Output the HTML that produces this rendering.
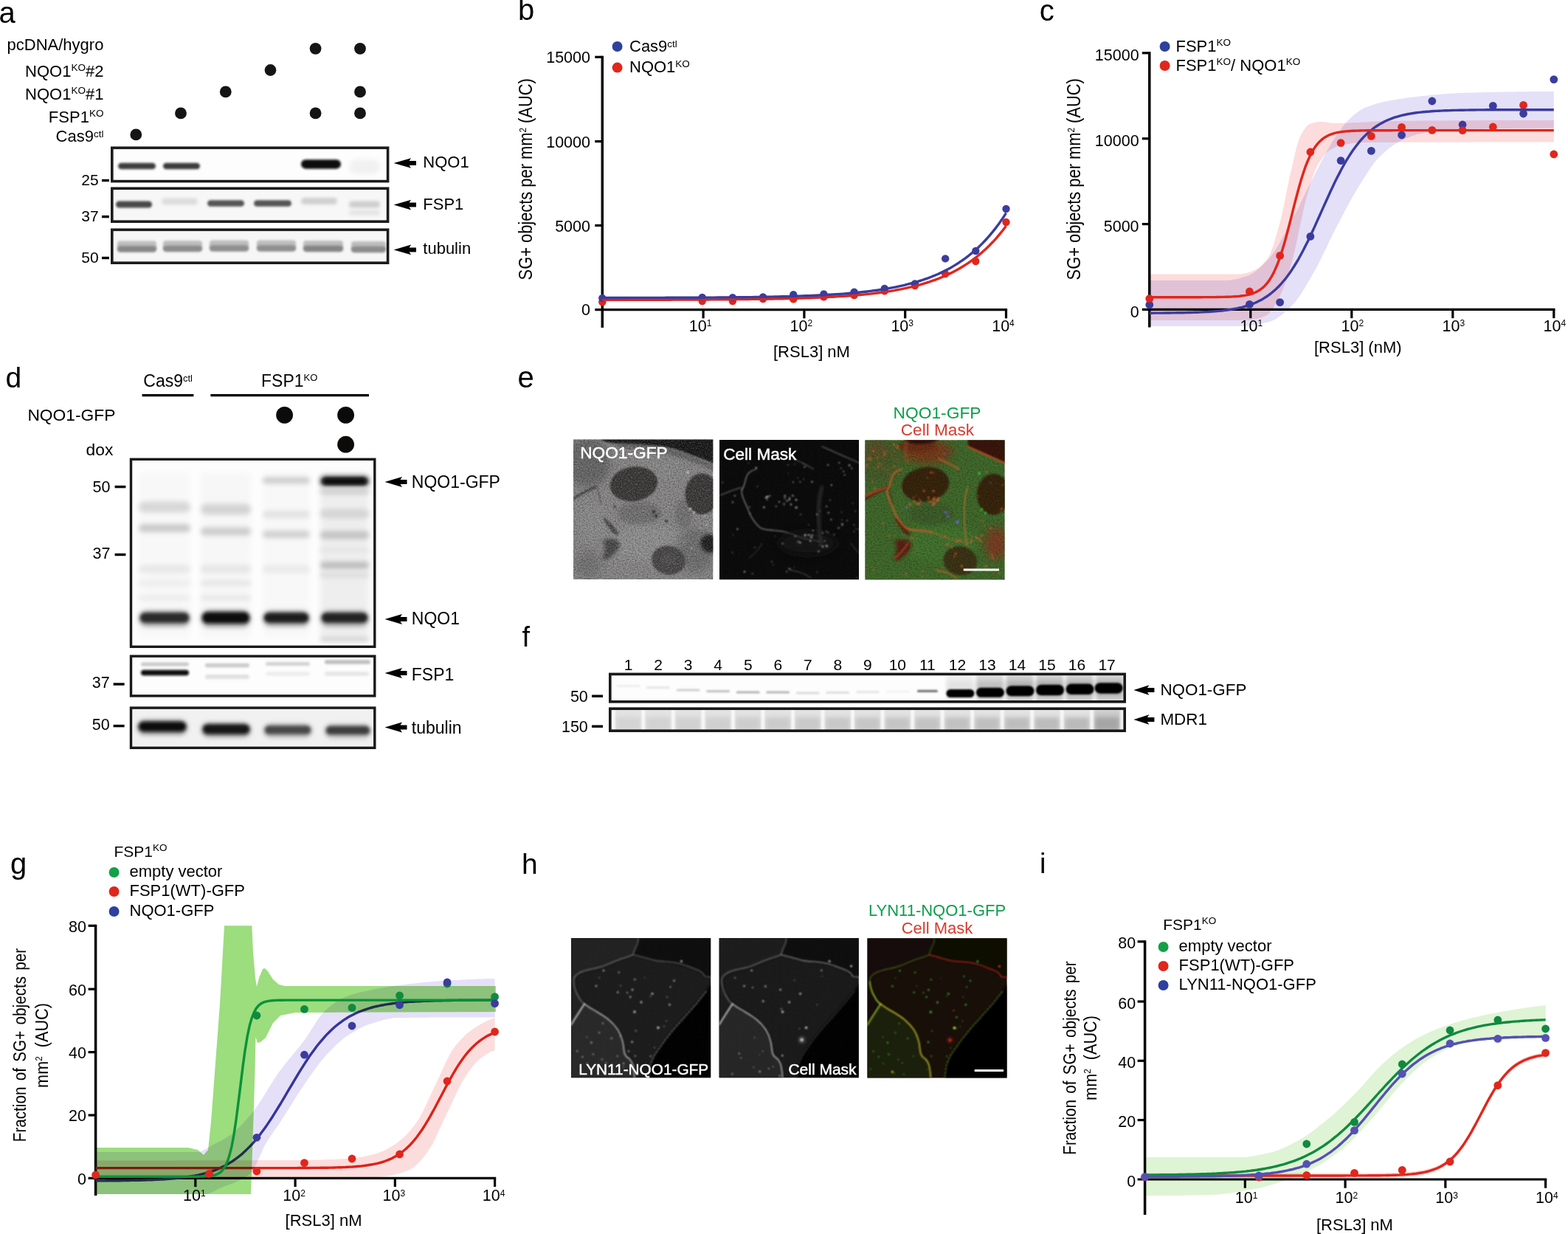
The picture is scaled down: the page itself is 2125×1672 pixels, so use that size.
<!DOCTYPE html>
<html lang="en"><head><meta charset="utf-8"><title>Figure</title>
<style>
html,body{margin:0;padding:0;background:#fff;}
body{width:2125px;height:1672px;overflow:hidden;}
svg{display:block;font-family:'Liberation Sans', Arial, Helvetica, sans-serif;}
text{white-space:pre;}
</style></head><body>
<svg xmlns="http://www.w3.org/2000/svg" width="2125" height="1672" viewBox="0 0 2125 1672">
<defs>
<filter id="b1" x="-20%" y="-100%" width="140%" height="300%"><feGaussianBlur stdDeviation="1"/></filter>
<filter id="b15" x="-20%" y="-100%" width="140%" height="300%"><feGaussianBlur stdDeviation="1.5"/></filter>
<filter id="b2" x="-20%" y="-100%" width="140%" height="300%"><feGaussianBlur stdDeviation="2"/></filter>
<filter id="b3" x="-20%" y="-100%" width="140%" height="300%"><feGaussianBlur stdDeviation="3"/></filter>
<filter id="b5" x="-30%" y="-100%" width="160%" height="300%"><feGaussianBlur stdDeviation="5"/></filter>
<clipPath id="c1"><rect x="150.00" y="198.50" width="377.40" height="48.90"/></clipPath>
<clipPath id="c2"><rect x="150.00" y="253.50" width="377.40" height="48.50"/></clipPath>
<clipPath id="c3"><rect x="150.00" y="309.50" width="377.40" height="48.50"/></clipPath>
<clipPath id="c4"><rect x="176.00" y="621.00" width="333.50" height="257.00"/></clipPath>
<clipPath id="c5"><rect x="176.00" y="887.50" width="333.50" height="57.00"/></clipPath>
<clipPath id="c6"><rect x="176.00" y="957.50" width="333.50" height="57.50"/></clipPath>
<filter id="nzw" x="0" y="0" width="100%" height="100%"><feTurbulence type="fractalNoise" baseFrequency="0.6" numOctaves="2" seed="7"/><feColorMatrix type="matrix" values="0 0 0 0 1  0 0 0 0 1  0 0 0 0 1  2.4 0 0 0 -1.0"/></filter>
<filter id="nzb" x="0" y="0" width="100%" height="100%"><feTurbulence type="fractalNoise" baseFrequency="0.5" numOctaves="2" seed="23"/><feColorMatrix type="matrix" values="0 0 0 0 0  0 0 0 0 0  0 0 0 0 0  0 2.4 0 0 -1.0"/></filter>
<filter id="nzf" x="0" y="0" width="100%" height="100%"><feTurbulence type="fractalNoise" baseFrequency="0.9" numOctaves="1" seed="3"/><feColorMatrix type="matrix" values="0 0 0 0 1  0 0 0 0 1  0 0 0 0 1  1.6 0 0 0 -0.6"/></filter>
<filter id="m1" x="-30%" y="-30%" width="160%" height="160%"><feGaussianBlur stdDeviation="0.8"/></filter>
<filter id="m2" x="-60%" y="-60%" width="220%" height="220%"><feGaussianBlur stdDeviation="2.2"/></filter>
<filter id="m6" x="-100%" y="-100%" width="300%" height="300%"><feGaussianBlur stdDeviation="6"/></filter>
<clipPath id="c7"><rect x="777.00" y="595.60" width="189.30" height="189.30"/></clipPath>
<clipPath id="c8"><rect x="975.00" y="596.00" width="189.00" height="189.20"/></clipPath>
<clipPath id="c9"><rect x="1172.30" y="596.20" width="189.30" height="189.30"/></clipPath>
<clipPath id="c10"><rect x="825.00" y="911.60" width="701.00" height="41.00"/></clipPath>
<clipPath id="c11"><rect x="825.00" y="958.40" width="701.00" height="33.60"/></clipPath>
<clipPath id="c12"><rect x="774.00" y="1271.00" width="189.20" height="189.20"/></clipPath>
<clipPath id="c13"><rect x="974.60" y="1271.00" width="189.20" height="189.20"/></clipPath>
<clipPath id="c14"><rect x="1175.40" y="1271.20" width="189.20" height="189.20"/></clipPath>
</defs>
<rect width="2125" height="1672" fill="#fff"/>
<text x="-1.50" y="31.00" font-size="40">a</text>
<text x="702.00" y="27.00" font-size="40">b</text>
<text x="1408.80" y="27.80" font-size="40">c</text>
<text x="7.60" y="525.00" font-size="39">d</text>
<text x="701.50" y="525.00" font-size="40">e</text>
<text x="707.50" y="876.00" font-size="38">f</text>
<text x="14.00" y="1184.00" font-size="40">g</text>
<text x="707.00" y="1183.60" font-size="39">h</text>
<text x="1409.00" y="1183.00" font-size="38">i</text>
<text x="140.40" y="67.60" font-size="22" text-anchor="end">pcDNA/hygro</text>
<text x="140.40" y="104.00" font-size="22" text-anchor="end">NQO1<tspan dy="-7.6" font-size="13.5">KO</tspan><tspan dy="7.6">#2</tspan></text>
<text x="140.40" y="135.00" font-size="22" text-anchor="end">NQO1<tspan dy="-7.6" font-size="13.5">KO</tspan><tspan dy="7.6">#1</tspan></text>
<text x="140.40" y="166.00" font-size="22" text-anchor="end">FSP1<tspan dy="-7.6" font-size="13.5">KO</tspan></text>
<text x="140.40" y="192.40" font-size="22" text-anchor="end">Cas9<tspan dy="-6.4" font-size="13.5">ctl</tspan></text>
<circle cx="427.60" cy="65.80" r="7.9" fill="#151515"/>
<circle cx="488.00" cy="65.80" r="7.9" fill="#151515"/>
<circle cx="366.50" cy="95.00" r="7.9" fill="#151515"/>
<circle cx="305.80" cy="124.40" r="7.9" fill="#151515"/>
<circle cx="488.00" cy="124.40" r="7.9" fill="#151515"/>
<circle cx="245.00" cy="153.40" r="7.9" fill="#151515"/>
<circle cx="427.60" cy="153.40" r="7.9" fill="#151515"/>
<circle cx="488.00" cy="153.40" r="7.9" fill="#151515"/>
<circle cx="184.30" cy="182.40" r="7.9" fill="#151515"/>
<g clip-path="url(#c1)">
<rect x="150" y="198" width="378" height="50" fill="#fdfdfd"/>
<rect x="160.00" y="220.75" width="51.00" height="8.50" rx="4.25" fill="#3c3c3c" filter="url(#b15)"/>
<rect x="221.00" y="220.75" width="50.00" height="8.50" rx="4.25" fill="#3a3a3a" filter="url(#b15)"/>
<rect x="408.00" y="216.15" width="54.00" height="12.50" rx="6.25" fill="#0c0c0c" filter="url(#b15)"/>
<rect x="473.00" y="216.00" width="42.00" height="20.00" rx="10.00" fill="#f1f1f1" filter="url(#b3)"/>
</g>
<g clip-path="url(#c2)">
<rect x="150" y="253" width="378" height="50" fill="#f7f7f7"/>
<rect x="157.00" y="272.50" width="49.00" height="9.00" rx="4.50" fill="#484848" filter="url(#b15)"/>
<rect x="219.00" y="268.50" width="49.00" height="9.00" rx="4.50" fill="#dcdcdc" filter="url(#b2)"/>
<rect x="281.00" y="271.25" width="50.00" height="8.50" rx="4.25" fill="#555" filter="url(#b15)"/>
<rect x="344.00" y="271.25" width="51.00" height="8.50" rx="4.25" fill="#555" filter="url(#b15)"/>
<rect x="408.00" y="268.00" width="49.00" height="9.00" rx="4.50" fill="#cfcfcf" filter="url(#b2)"/>
<rect x="473.00" y="272.50" width="42.00" height="9.00" rx="4.50" fill="#cdcdcd" filter="url(#b2)"/>
<rect x="473.00" y="284.50" width="42.00" height="7.00" rx="3.50" fill="#e4e4e4" filter="url(#b2)"/>
</g>
<g clip-path="url(#c3)">
<rect x="150" y="309" width="378" height="50" fill="#f6f6f6"/>
<rect x="159.00" y="326.50" width="53.00" height="13.00" rx="4.00" fill="#bdbdbd" filter="url(#b15)"/>
<rect x="159.00" y="333.25" width="53.00" height="8.50" rx="4.25" fill="#888" filter="url(#b15)"/>
<rect x="221.00" y="326.00" width="53.00" height="13.00" rx="4.00" fill="#bdbdbd" filter="url(#b15)"/>
<rect x="221.00" y="332.75" width="53.00" height="8.50" rx="4.25" fill="#8c8c8c" filter="url(#b15)"/>
<rect x="284.00" y="325.50" width="53.00" height="13.00" rx="4.00" fill="#bdbdbd" filter="url(#b15)"/>
<rect x="284.00" y="332.25" width="53.00" height="8.50" rx="4.25" fill="#909090" filter="url(#b15)"/>
<rect x="348.00" y="325.50" width="53.00" height="13.00" rx="4.00" fill="#bdbdbd" filter="url(#b15)"/>
<rect x="348.00" y="332.25" width="53.00" height="8.50" rx="4.25" fill="#909090" filter="url(#b15)"/>
<rect x="411.00" y="326.00" width="54.00" height="13.00" rx="4.00" fill="#bdbdbd" filter="url(#b15)"/>
<rect x="411.00" y="332.75" width="54.00" height="8.50" rx="4.25" fill="#858585" filter="url(#b15)"/>
<rect x="476.00" y="327.00" width="47.00" height="13.00" rx="4.00" fill="#bdbdbd" filter="url(#b15)"/>
<rect x="476.00" y="333.75" width="47.00" height="8.50" rx="4.25" fill="#8c8c8c" filter="url(#b15)"/>
</g>
<rect x="151.80" y="200.30" width="373.80" height="45.30" fill="none" stroke="#1c1a1a" stroke-width="3.6"/>
<rect x="151.80" y="255.30" width="373.80" height="44.90" fill="none" stroke="#1c1a1a" stroke-width="3.6"/>
<rect x="151.80" y="311.30" width="373.80" height="44.90" fill="none" stroke="#1c1a1a" stroke-width="3.6"/>
<text x="133.60" y="250.60" font-size="21" text-anchor="end">25</text>
<line x1="138.00" y1="244.50" x2="148.00" y2="244.50" stroke="#000" stroke-width="3.4"/>
<text x="133.60" y="299.60" font-size="21" text-anchor="end">37</text>
<line x1="138.00" y1="293.60" x2="148.00" y2="293.60" stroke="#000" stroke-width="3.4"/>
<text x="133.60" y="355.50" font-size="21" text-anchor="end">50</text>
<line x1="138.00" y1="349.50" x2="148.00" y2="349.50" stroke="#000" stroke-width="3.4"/>
<polygon points="533.60,221.00 557.10,214.20 554.60,218.00 564.00,218.00 564.00,224.00 554.60,224.00 557.10,227.80" fill="#000"/>
<text x="573.30" y="227.40" font-size="22">NQO1</text>
<polygon points="533.60,277.60 557.10,270.80 554.60,274.60 564.00,274.60 564.00,280.60 554.60,280.60 557.10,284.40" fill="#000"/>
<text x="573.30" y="284.00" font-size="22">FSP1</text>
<polygon points="533.60,338.40 557.10,331.60 554.60,335.40 564.00,335.40 564.00,341.40 554.60,341.40 557.10,345.20" fill="#000"/>
<text x="573.30" y="344.40" font-size="22">tubulin</text>
<line x1="816.30" y1="75.70" x2="816.30" y2="444.00" stroke="#000" stroke-width="3.5"/>
<line x1="806.30" y1="419.60" x2="1365.10" y2="419.60" stroke="#000" stroke-width="3.2"/>
<line x1="806.30" y1="77.30" x2="816.30" y2="77.30" stroke="#000" stroke-width="3.2"/>
<line x1="806.30" y1="191.60" x2="816.30" y2="191.60" stroke="#000" stroke-width="3.2"/>
<line x1="806.30" y1="305.50" x2="816.30" y2="305.50" stroke="#000" stroke-width="3.2"/>
<line x1="953.10" y1="419.60" x2="953.10" y2="431.35" stroke="#000" stroke-width="3.2"/>
<line x1="1089.90" y1="419.60" x2="1089.90" y2="431.35" stroke="#000" stroke-width="3.2"/>
<line x1="1226.70" y1="419.60" x2="1226.70" y2="431.35" stroke="#000" stroke-width="3.2"/>
<line x1="1363.50" y1="419.60" x2="1363.50" y2="431.35" stroke="#000" stroke-width="3.2"/>
<text x="800.00" y="85.30" font-size="21.5" text-anchor="end">15000</text>
<text x="800.00" y="199.60" font-size="21.5" text-anchor="end">10000</text>
<text x="800.00" y="313.50" font-size="21.5" text-anchor="end">5000</text>
<text x="800.00" y="427.40" font-size="21.5" text-anchor="end">0</text>
<text x="933.80" y="449.00" font-size="21.5">10<tspan dy="-6.6" font-size="12">1</tspan></text>
<text x="1070.60" y="449.00" font-size="21.5">10<tspan dy="-6.6" font-size="12">2</tspan></text>
<text x="1207.40" y="449.00" font-size="21.5">10<tspan dy="-6.6" font-size="12">3</tspan></text>
<text x="1344.20" y="449.00" font-size="21.5">10<tspan dy="-6.6" font-size="12">4</tspan></text>
<text x="1048.00" y="483.60" font-size="22">[RSL3] nM</text>
<text transform="translate(721.2,379.4) rotate(-90) scale(0.875,1)" font-size="25">SG+ objects per mm<tspan dy="-8" font-size="13.5">2</tspan><tspan dy="8"> (AUC)</tspan></text>
<circle cx="836.60" cy="63.00" r="7" fill="#2e3f9e"/>
<text x="853.00" y="70.00" font-size="22">Cas9<tspan dy="-6.4" font-size="13.5">ctl</tspan></text>
<circle cx="836.60" cy="91.60" r="7" fill="#e1261c"/>
<text x="853.00" y="98.40" font-size="22">NQO1<tspan dy="-7.6" font-size="13.5">KO</tspan></text>
<circle cx="816.30" cy="409.30" r="5.2" fill="#e1261c"/>
<circle cx="951.69" cy="408.00" r="5.2" fill="#e1261c"/>
<circle cx="992.87" cy="408.00" r="5.2" fill="#e1261c"/>
<circle cx="1034.05" cy="405.00" r="5.2" fill="#e1261c"/>
<circle cx="1075.23" cy="405.40" r="5.2" fill="#e1261c"/>
<circle cx="1116.41" cy="402.40" r="5.2" fill="#e1261c"/>
<circle cx="1157.60" cy="400.00" r="5.2" fill="#e1261c"/>
<circle cx="1198.78" cy="394.40" r="5.2" fill="#e1261c"/>
<circle cx="1239.96" cy="387.00" r="5.2" fill="#e1261c"/>
<circle cx="1281.14" cy="371.00" r="5.2" fill="#e1261c"/>
<circle cx="1322.32" cy="354.00" r="5.2" fill="#e1261c"/>
<circle cx="1363.50" cy="301.00" r="5.2" fill="#e1261c"/>
<circle cx="816.30" cy="404.00" r="5.2" fill="#3b3c9f"/>
<circle cx="951.69" cy="403.00" r="5.2" fill="#3b3c9f"/>
<circle cx="992.87" cy="403.20" r="5.2" fill="#3b3c9f"/>
<circle cx="1034.05" cy="402.50" r="5.2" fill="#3b3c9f"/>
<circle cx="1075.23" cy="399.20" r="5.2" fill="#3b3c9f"/>
<circle cx="1116.41" cy="398.40" r="5.2" fill="#3b3c9f"/>
<circle cx="1157.60" cy="395.60" r="5.2" fill="#3b3c9f"/>
<circle cx="1198.78" cy="391.00" r="5.2" fill="#3b3c9f"/>
<circle cx="1239.96" cy="384.40" r="5.2" fill="#3b3c9f"/>
<circle cx="1281.14" cy="350.40" r="5.2" fill="#3b3c9f"/>
<circle cx="1322.32" cy="340.00" r="5.2" fill="#3b3c9f"/>
<circle cx="1363.50" cy="283.00" r="5.2" fill="#3b3c9f"/>
<path d="M816.3,406.3 L820.9,406.3 L825.5,406.3 L830.1,406.3 L834.7,406.3 L839.3,406.3 L843.9,406.3 L848.5,406.3 L853.1,406.3 L857.7,406.3 L862.3,406.3 L866.9,406.2 L871.5,406.2 L876.1,406.2 L880.7,406.2 L885.3,406.2 L889.9,406.2 L894.5,406.2 L899.1,406.2 L903.7,406.2 L908.3,406.2 L912.9,406.1 L917.5,406.1 L922.1,406.1 L926.7,406.1 L931.3,406.1 L935.9,406.1 L940.5,406.0 L945.1,406.0 L949.7,406.0 L954.2,406.0 L958.8,406.0 L963.4,405.9 L968.0,405.9 L972.6,405.9 L977.2,405.8 L981.8,405.8 L986.4,405.8 L991.0,405.7 L995.6,405.7 L1000.2,405.6 L1004.8,405.6 L1009.4,405.5 L1014.0,405.5 L1018.6,405.4 L1023.2,405.4 L1027.8,405.3 L1032.4,405.2 L1037.0,405.2 L1041.6,405.1 L1046.2,405.0 L1050.8,404.9 L1055.4,404.8 L1060.0,404.7 L1064.6,404.6 L1069.2,404.5 L1073.8,404.4 L1078.4,404.3 L1083.0,404.1 L1087.6,404.0 L1092.2,403.8 L1096.8,403.7 L1101.4,403.5 L1106.0,403.3 L1110.6,403.1 L1115.2,402.9 L1119.8,402.7 L1124.4,402.4 L1129.0,402.2 L1133.6,401.9 L1138.2,401.6 L1142.8,401.3 L1147.4,401.0 L1152.0,400.7 L1156.6,400.3 L1161.2,399.9 L1165.8,399.5 L1170.4,399.1 L1175.0,398.6 L1179.6,398.1 L1184.2,397.6 L1188.8,397.0 L1193.4,396.4 L1198.0,395.7 L1202.6,395.1 L1207.2,394.3 L1211.8,393.6 L1216.4,392.7 L1221.0,391.9 L1225.6,390.9 L1230.1,389.9 L1234.7,388.9 L1239.3,387.8 L1243.9,386.6 L1248.5,385.3 L1253.1,383.9 L1257.7,382.5 L1262.3,380.9 L1266.9,379.3 L1271.5,377.6 L1276.1,375.7 L1280.7,373.7 L1285.3,371.6 L1289.9,369.4 L1294.5,367.0 L1299.1,364.5 L1303.7,361.8 L1308.3,358.9 L1312.9,355.9 L1317.5,352.6 L1322.1,349.2 L1326.7,345.5 L1331.3,341.6 L1335.9,337.4 L1340.5,333.0 L1345.1,328.3 L1349.7,323.3 L1354.3,317.9 L1358.9,312.2 L1363.5,306.2" fill="none" stroke="#e1261c" stroke-width="3.4" stroke-linejoin="round" stroke-linecap="butt"/>
<path d="M816.3,403.5 L820.9,403.5 L825.5,403.5 L830.1,403.5 L834.7,403.5 L839.3,403.5 L843.9,403.5 L848.5,403.5 L853.1,403.4 L857.7,403.4 L862.3,403.4 L866.9,403.4 L871.5,403.4 L876.1,403.4 L880.7,403.4 L885.3,403.4 L889.9,403.4 L894.5,403.4 L899.1,403.4 L903.7,403.3 L908.3,403.3 L912.9,403.3 L917.5,403.3 L922.1,403.3 L926.7,403.3 L931.3,403.2 L935.9,403.2 L940.5,403.2 L945.1,403.2 L949.7,403.2 L954.2,403.1 L958.8,403.1 L963.4,403.1 L968.0,403.1 L972.6,403.0 L977.2,403.0 L981.8,402.9 L986.4,402.9 L991.0,402.9 L995.6,402.8 L1000.2,402.8 L1004.8,402.7 L1009.4,402.7 L1014.0,402.6 L1018.6,402.6 L1023.2,402.5 L1027.8,402.4 L1032.4,402.3 L1037.0,402.3 L1041.6,402.2 L1046.2,402.1 L1050.8,402.0 L1055.4,401.9 L1060.0,401.8 L1064.6,401.7 L1069.2,401.6 L1073.8,401.4 L1078.4,401.3 L1083.0,401.1 L1087.6,401.0 L1092.2,400.8 L1096.8,400.6 L1101.4,400.4 L1106.0,400.2 L1110.6,400.0 L1115.2,399.8 L1119.8,399.5 L1124.4,399.3 L1129.0,399.0 L1133.6,398.7 L1138.2,398.4 L1142.8,398.1 L1147.4,397.7 L1152.0,397.3 L1156.6,396.9 L1161.2,396.5 L1165.8,396.0 L1170.4,395.5 L1175.0,395.0 L1179.6,394.4 L1184.2,393.8 L1188.8,393.2 L1193.4,392.5 L1198.0,391.8 L1202.6,391.0 L1207.2,390.2 L1211.8,389.3 L1216.4,388.4 L1221.0,387.4 L1225.6,386.4 L1230.1,385.2 L1234.7,384.0 L1239.3,382.8 L1243.9,381.4 L1248.5,380.0 L1253.1,378.4 L1257.7,376.8 L1262.3,375.0 L1266.9,373.2 L1271.5,371.2 L1276.1,369.1 L1280.7,366.8 L1285.3,364.4 L1289.9,361.9 L1294.5,359.1 L1299.1,356.2 L1303.7,353.1 L1308.3,349.8 L1312.9,346.3 L1317.5,342.6 L1322.1,338.6 L1326.7,334.4 L1331.3,329.9 L1335.9,325.0 L1340.5,319.9 L1345.1,314.4 L1349.7,308.6 L1354.3,302.4 L1358.9,295.8 L1363.5,288.7" fill="none" stroke="#3b3c9f" stroke-width="3.4" stroke-linejoin="round" stroke-linecap="butt"/>
<g style="mix-blend-mode:multiply">
<path d="M1557.8,371.4 L1560.9,371.4 L1563.9,371.4 L1567.0,371.4 L1570.0,371.4 L1573.1,371.4 L1576.2,371.4 L1579.2,371.4 L1582.3,371.4 L1585.4,371.4 L1588.4,371.4 L1591.5,371.4 L1594.5,371.4 L1597.6,371.4 L1600.7,371.4 L1603.7,371.4 L1606.8,371.4 L1609.8,371.4 L1612.9,371.4 L1616.0,371.4 L1619.0,371.4 L1622.1,371.4 L1625.2,371.4 L1628.2,371.4 L1631.3,371.4 L1634.3,371.4 L1637.4,371.4 L1640.5,371.4 L1643.5,371.4 L1646.6,371.4 L1649.6,371.4 L1652.7,371.4 L1655.8,371.4 L1658.8,371.4 L1661.9,371.4 L1665.0,371.4 L1668.0,371.4 L1671.1,371.4 L1674.1,371.4 L1677.2,371.4 L1680.3,371.4 L1683.3,371.2 L1686.4,370.7 L1689.4,369.9 L1692.5,368.9 L1695.6,367.8 L1698.6,366.6 L1701.7,365.2 L1704.7,363.4 L1707.8,361.2 L1710.9,358.4 L1713.9,355.1 L1717.0,351.4 L1720.1,346.6 L1723.1,339.6 L1726.2,330.8 L1729.2,320.7 L1732.3,309.8 L1735.4,298.7 L1738.4,285.8 L1741.5,271.1 L1744.5,255.6 L1747.6,240.6 L1750.7,227.2 L1753.7,213.9 L1756.8,201.0 L1759.9,190.3 L1762.9,183.2 L1766.0,177.8 L1769.0,173.2 L1772.1,169.8 L1775.2,167.9 L1778.2,166.9 L1781.3,166.1 L1784.3,165.5 L1787.4,165.1 L1790.5,165.0 L1793.5,165.2 L1796.6,165.5 L1799.7,165.9 L1802.7,166.4 L1805.8,166.8 L1808.8,167.0 L1811.9,167.0 L1815.0,167.0 L1818.0,166.9 L1821.1,166.8 L1824.1,166.7 L1827.2,166.6 L1830.3,166.4 L1833.3,166.3 L1836.4,166.2 L1839.5,166.0 L1842.5,165.9 L1845.6,165.7 L1848.6,165.6 L1851.7,165.4 L1854.8,165.2 L1857.8,165.0 L1860.9,164.8 L1863.9,164.6 L1867.0,164.4 L1870.1,164.3 L1873.1,164.2 L1876.2,164.1 L1879.3,164.0 L1882.3,164.0 L1885.4,163.9 L1888.4,163.9 L1891.5,163.9 L1894.6,163.9 L1897.6,163.8 L1900.7,163.8 L1903.7,163.8 L1906.8,163.8 L1909.9,163.7 L1912.9,163.7 L1916.0,163.7 L1919.1,163.7 L1922.1,163.6 L1925.2,163.6 L1928.2,163.6 L1931.3,163.6 L1934.4,163.5 L1937.4,163.5 L1940.5,163.5 L1943.5,163.5 L1946.6,163.5 L1949.7,163.4 L1952.7,163.4 L1955.8,163.4 L1958.9,163.4 L1961.9,163.4 L1965.0,163.3 L1968.0,163.3 L1971.1,163.3 L1974.2,163.3 L1977.2,163.3 L1980.3,163.3 L1983.3,163.3 L1986.4,163.2 L1989.5,163.2 L1992.5,163.2 L1995.6,163.2 L1998.6,163.2 L2001.7,163.2 L2004.8,163.2 L2007.8,163.2 L2010.9,163.1 L2014.0,163.1 L2017.0,163.1 L2020.1,163.1 L2023.1,163.1 L2026.2,163.1 L2029.3,163.1 L2032.3,163.1 L2035.4,163.1 L2038.4,163.1 L2041.5,163.1 L2044.6,163.1 L2047.6,163.1 L2050.7,163.0 L2053.8,163.0 L2056.8,163.0 L2059.9,163.0 L2062.9,163.0 L2066.0,163.0 L2069.1,163.0 L2072.1,163.0 L2075.2,163.0 L2078.2,163.0 L2081.3,163.0 L2084.4,163.0 L2087.4,163.0 L2090.5,163.0 L2093.6,163.0 L2096.6,163.0 L2099.7,163.0 L2102.7,163.0 L2105.8,163.0 L2105.8,192.6 L2102.7,192.6 L2099.7,192.6 L2096.6,192.6 L2093.6,192.6 L2090.5,192.6 L2087.4,192.6 L2084.4,192.6 L2081.3,192.6 L2078.2,192.6 L2075.2,192.6 L2072.1,192.6 L2069.1,192.6 L2066.0,192.6 L2062.9,192.6 L2059.9,192.6 L2056.8,192.6 L2053.8,192.6 L2050.7,192.6 L2047.6,192.6 L2044.6,192.6 L2041.5,192.6 L2038.4,192.6 L2035.4,192.6 L2032.3,192.6 L2029.3,192.6 L2026.2,192.6 L2023.1,192.6 L2020.1,192.6 L2017.0,192.6 L2014.0,192.6 L2010.9,192.6 L2007.8,192.6 L2004.8,192.6 L2001.7,192.6 L1998.6,192.6 L1995.6,192.6 L1992.5,192.7 L1989.5,192.7 L1986.4,192.7 L1983.3,192.7 L1980.3,192.7 L1977.2,192.7 L1974.2,192.7 L1971.1,192.7 L1968.0,192.7 L1965.0,192.7 L1961.9,192.7 L1958.9,192.7 L1955.8,192.7 L1952.7,192.7 L1949.7,192.7 L1946.6,192.7 L1943.5,192.7 L1940.5,192.7 L1937.4,192.7 L1934.4,192.7 L1931.3,192.7 L1928.2,192.8 L1925.2,192.8 L1922.1,192.8 L1919.1,192.8 L1916.0,192.8 L1912.9,192.8 L1909.9,192.8 L1906.8,192.8 L1903.7,192.8 L1900.7,192.8 L1897.6,192.8 L1894.6,192.8 L1891.5,192.9 L1888.4,192.9 L1885.4,192.9 L1882.3,192.9 L1879.3,192.9 L1876.2,192.9 L1873.1,192.9 L1870.1,192.9 L1867.0,192.9 L1863.9,192.9 L1860.9,193.0 L1857.8,193.0 L1854.8,193.0 L1851.7,193.0 L1848.6,193.0 L1845.6,193.1 L1842.5,193.2 L1839.5,193.5 L1836.4,193.7 L1833.3,194.1 L1830.3,194.4 L1827.2,194.9 L1824.1,195.3 L1821.1,195.8 L1818.0,196.4 L1815.0,197.3 L1811.9,198.4 L1808.8,199.8 L1805.8,201.4 L1802.7,203.2 L1799.7,205.2 L1796.6,207.9 L1793.5,211.5 L1790.5,215.8 L1787.4,220.7 L1784.3,226.3 L1781.3,233.3 L1778.2,242.0 L1775.2,251.9 L1772.1,262.5 L1769.0,273.6 L1766.0,286.4 L1762.9,300.7 L1759.9,315.7 L1756.8,330.2 L1753.7,343.5 L1750.7,354.7 L1747.6,365.2 L1744.5,375.2 L1741.5,384.4 L1738.4,392.5 L1735.4,399.3 L1732.3,405.1 L1729.2,410.7 L1726.2,415.9 L1723.1,420.4 L1720.1,424.2 L1717.0,426.9 L1713.9,428.4 L1710.9,429.6 L1707.8,430.7 L1704.7,431.7 L1701.7,432.5 L1698.6,433.2 L1695.6,433.6 L1692.5,433.9 L1689.4,434.0 L1686.4,434.0 L1683.3,434.0 L1680.3,434.0 L1677.2,434.0 L1674.1,434.0 L1671.1,434.0 L1668.0,434.0 L1665.0,434.0 L1661.9,434.0 L1658.8,434.0 L1655.8,434.0 L1652.7,434.0 L1649.6,434.0 L1646.6,434.0 L1643.5,434.0 L1640.5,434.0 L1637.4,434.0 L1634.3,434.0 L1631.3,434.0 L1628.2,434.0 L1625.2,434.0 L1622.1,434.0 L1619.0,434.0 L1616.0,434.0 L1612.9,434.0 L1609.8,434.0 L1606.8,434.0 L1603.7,434.0 L1600.7,434.0 L1597.6,434.0 L1594.5,434.0 L1591.5,434.0 L1588.4,434.0 L1585.4,434.0 L1582.3,434.0 L1579.2,434.0 L1576.2,434.0 L1573.1,434.0 L1570.0,434.0 L1567.0,434.0 L1563.9,434.0 L1560.9,434.0 L1557.8,434.0Z" fill="#fcdcdc"/>
</g><g style="mix-blend-mode:multiply">
<path d="M1557.8,380.0 L1560.9,380.0 L1563.9,380.0 L1567.0,380.0 L1570.0,380.0 L1573.1,380.0 L1576.2,380.0 L1579.2,380.0 L1582.3,380.0 L1585.4,380.0 L1588.4,380.0 L1591.5,380.0 L1594.5,380.0 L1597.6,380.0 L1600.7,380.0 L1603.7,380.0 L1606.8,380.0 L1609.8,380.0 L1612.9,380.0 L1616.0,380.0 L1619.0,380.0 L1622.1,380.0 L1625.2,380.0 L1628.2,380.0 L1631.3,380.0 L1634.3,380.0 L1637.4,380.0 L1640.5,380.0 L1643.5,380.0 L1646.6,380.0 L1649.6,380.0 L1652.7,380.0 L1655.8,380.0 L1658.8,380.0 L1661.9,380.0 L1665.0,379.8 L1668.0,379.4 L1671.1,379.0 L1674.1,378.4 L1677.2,377.7 L1680.3,376.9 L1683.3,376.1 L1686.4,375.1 L1689.4,374.2 L1692.5,373.1 L1695.6,371.6 L1698.6,369.7 L1701.7,367.5 L1704.7,365.1 L1707.8,362.4 L1710.9,359.5 L1713.9,356.4 L1717.0,353.2 L1720.1,349.9 L1723.1,346.3 L1726.2,342.1 L1729.2,337.5 L1732.3,332.5 L1735.4,327.1 L1738.4,321.6 L1741.5,315.9 L1744.5,310.1 L1747.6,304.4 L1750.7,298.8 L1753.7,293.0 L1756.8,287.0 L1759.9,280.9 L1762.9,274.7 L1766.0,268.3 L1769.0,262.0 L1772.1,255.7 L1775.2,249.5 L1778.2,243.4 L1781.3,237.5 L1784.3,231.6 L1787.4,225.6 L1790.5,219.6 L1793.5,213.6 L1796.6,207.8 L1799.7,202.2 L1802.7,196.7 L1805.8,191.6 L1808.8,186.7 L1811.9,182.2 L1815.0,177.9 L1818.0,173.7 L1821.1,169.7 L1824.1,166.0 L1827.2,162.7 L1830.3,159.8 L1833.3,157.1 L1836.4,154.6 L1839.5,152.2 L1842.5,150.1 L1845.6,148.2 L1848.6,146.6 L1851.7,145.3 L1854.8,144.1 L1857.8,142.9 L1860.9,141.9 L1863.9,141.0 L1867.0,140.1 L1870.1,139.3 L1873.1,138.5 L1876.2,137.8 L1879.3,137.2 L1882.3,136.5 L1885.4,136.0 L1888.4,135.4 L1891.5,134.9 L1894.6,134.4 L1897.6,133.9 L1900.7,133.4 L1903.7,133.0 L1906.8,132.6 L1909.9,132.2 L1912.9,131.8 L1916.0,131.4 L1919.1,131.1 L1922.1,130.8 L1925.2,130.4 L1928.2,130.1 L1931.3,129.8 L1934.4,129.4 L1937.4,129.1 L1940.5,128.8 L1943.5,128.5 L1946.6,128.2 L1949.7,127.9 L1952.7,127.7 L1955.8,127.4 L1958.9,127.2 L1961.9,126.9 L1965.0,126.7 L1968.0,126.5 L1971.1,126.4 L1974.2,126.2 L1977.2,126.1 L1980.3,126.0 L1983.3,125.9 L1986.4,125.8 L1989.5,125.7 L1992.5,125.7 L1995.6,125.6 L1998.6,125.5 L2001.7,125.4 L2004.8,125.3 L2007.8,125.3 L2010.9,125.2 L2014.0,125.1 L2017.0,125.0 L2020.1,125.0 L2023.1,124.9 L2026.2,124.9 L2029.3,124.8 L2032.3,124.7 L2035.4,124.7 L2038.4,124.6 L2041.5,124.6 L2044.6,124.5 L2047.6,124.5 L2050.7,124.4 L2053.8,124.4 L2056.8,124.3 L2059.9,124.3 L2062.9,124.3 L2066.0,124.2 L2069.1,124.2 L2072.1,124.2 L2075.2,124.1 L2078.2,124.1 L2081.3,124.1 L2084.4,124.1 L2087.4,124.0 L2090.5,124.0 L2093.6,124.0 L2096.6,124.0 L2099.7,124.0 L2102.7,124.0 L2105.8,124.0 L2105.8,173.6 L2102.7,173.6 L2099.7,173.6 L2096.6,173.6 L2093.6,173.6 L2090.5,173.6 L2087.4,173.6 L2084.4,173.6 L2081.3,173.7 L2078.2,173.7 L2075.2,173.7 L2072.1,173.7 L2069.1,173.7 L2066.0,173.7 L2062.9,173.8 L2059.9,173.8 L2056.8,173.8 L2053.8,173.8 L2050.7,173.9 L2047.6,173.9 L2044.6,173.9 L2041.5,174.0 L2038.4,174.0 L2035.4,174.0 L2032.3,174.1 L2029.3,174.1 L2026.2,174.2 L2023.1,174.2 L2020.1,174.2 L2017.0,174.3 L2014.0,174.3 L2010.9,174.4 L2007.8,174.4 L2004.8,174.5 L2001.7,174.6 L1998.6,174.6 L1995.6,174.7 L1992.5,174.7 L1989.5,174.8 L1986.4,174.9 L1983.3,174.9 L1980.3,175.0 L1977.2,175.1 L1974.2,175.2 L1971.1,175.3 L1968.0,175.5 L1965.0,175.7 L1961.9,176.0 L1958.9,176.3 L1955.8,176.6 L1952.7,176.9 L1949.7,177.2 L1946.6,177.6 L1943.5,178.0 L1940.5,178.4 L1937.4,178.9 L1934.4,179.3 L1931.3,179.8 L1928.2,180.3 L1925.2,180.9 L1922.1,181.7 L1919.1,182.6 L1916.0,183.5 L1912.9,184.6 L1909.9,185.8 L1906.8,187.0 L1903.7,188.3 L1900.7,189.7 L1897.6,191.1 L1894.6,192.8 L1891.5,194.6 L1888.4,196.6 L1885.4,198.8 L1882.3,201.1 L1879.3,203.6 L1876.2,206.3 L1873.1,209.0 L1870.1,211.9 L1867.0,215.1 L1863.9,218.7 L1860.9,222.7 L1857.8,226.9 L1854.8,231.5 L1851.7,236.2 L1848.6,241.0 L1845.6,246.0 L1842.5,250.9 L1839.5,255.9 L1836.4,261.0 L1833.3,266.2 L1830.3,271.7 L1827.2,277.3 L1824.1,283.0 L1821.1,288.7 L1818.0,294.6 L1815.0,300.5 L1811.9,306.4 L1808.8,312.2 L1805.8,318.3 L1802.7,324.6 L1799.7,331.0 L1796.6,337.4 L1793.5,343.8 L1790.5,350.1 L1787.4,356.3 L1784.3,362.2 L1781.3,367.8 L1778.2,373.1 L1775.2,378.3 L1772.1,383.6 L1769.0,388.8 L1766.0,393.8 L1762.9,398.6 L1759.9,403.1 L1756.8,407.3 L1753.7,411.0 L1750.7,414.3 L1747.6,417.3 L1744.5,420.1 L1741.5,422.8 L1738.4,425.4 L1735.4,427.8 L1732.3,430.1 L1729.2,432.0 L1726.2,433.7 L1723.1,435.0 L1720.1,436.0 L1717.0,436.8 L1713.9,437.5 L1710.9,438.2 L1707.8,438.8 L1704.7,439.4 L1701.7,440.0 L1698.6,440.5 L1695.6,440.9 L1692.5,441.3 L1689.4,441.6 L1686.4,441.8 L1683.3,441.9 L1680.3,442.0 L1677.2,442.0 L1674.1,442.0 L1671.1,442.0 L1668.0,442.0 L1665.0,442.0 L1661.9,442.0 L1658.8,442.0 L1655.8,442.0 L1652.7,442.0 L1649.6,442.0 L1646.6,442.0 L1643.5,442.0 L1640.5,442.0 L1637.4,442.0 L1634.3,442.0 L1631.3,442.0 L1628.2,442.0 L1625.2,442.0 L1622.1,442.0 L1619.0,442.0 L1616.0,442.0 L1612.9,442.0 L1609.8,442.0 L1606.8,442.0 L1603.7,442.0 L1600.7,442.0 L1597.6,442.0 L1594.5,442.0 L1591.5,442.0 L1588.4,442.0 L1585.4,442.0 L1582.3,442.0 L1579.2,442.0 L1576.2,442.0 L1573.1,442.0 L1570.0,442.0 L1567.0,442.0 L1563.9,442.0 L1560.9,442.0 L1557.8,442.0Z" fill="#e4e0f8"/>
</g>
<line x1="1557.80" y1="70.20" x2="1557.80" y2="443.60" stroke="#000" stroke-width="3.5"/>
<line x1="1547.80" y1="419.40" x2="2107.40" y2="419.40" stroke="#000" stroke-width="3.2"/>
<line x1="1547.80" y1="71.80" x2="1557.80" y2="71.80" stroke="#000" stroke-width="3.2"/>
<line x1="1547.80" y1="187.80" x2="1557.80" y2="187.80" stroke="#000" stroke-width="3.2"/>
<line x1="1547.80" y1="303.60" x2="1557.80" y2="303.60" stroke="#000" stroke-width="3.2"/>
<line x1="1694.80" y1="419.40" x2="1694.80" y2="431.15" stroke="#000" stroke-width="3.2"/>
<line x1="1831.80" y1="419.40" x2="1831.80" y2="431.15" stroke="#000" stroke-width="3.2"/>
<line x1="1968.80" y1="419.40" x2="1968.80" y2="431.15" stroke="#000" stroke-width="3.2"/>
<line x1="2105.80" y1="419.40" x2="2105.80" y2="431.15" stroke="#000" stroke-width="3.2"/>
<text x="1543.60" y="82.20" font-size="21.5" text-anchor="end">15000</text>
<text x="1543.60" y="198.20" font-size="21.5" text-anchor="end">10000</text>
<text x="1543.60" y="314.00" font-size="21.5" text-anchor="end">5000</text>
<text x="1543.60" y="429.80" font-size="21.5" text-anchor="end">0</text>
<text x="1680.50" y="449.00" font-size="21.5">10<tspan dy="-6.6" font-size="12">1</tspan></text>
<text x="1817.50" y="449.00" font-size="21.5">10<tspan dy="-6.6" font-size="12">2</tspan></text>
<text x="1954.50" y="449.00" font-size="21.5">10<tspan dy="-6.6" font-size="12">3</tspan></text>
<text x="2091.50" y="449.00" font-size="21.5">10<tspan dy="-6.6" font-size="12">4</tspan></text>
<text x="1781.00" y="478.00" font-size="22">[RSL3] (nM)</text>
<text transform="translate(1464.4,379.4) rotate(-90) scale(0.875,1)" font-size="25">SG+ objects per mm<tspan dy="-8" font-size="13.5">2</tspan><tspan dy="8"> (AUC)</tspan></text>
<circle cx="1578.60" cy="63.00" r="7" fill="#2e3f9e"/>
<text x="1593.50" y="69.60" font-size="22">FSP1<tspan dy="-7.6" font-size="13.5">KO</tspan></text>
<circle cx="1578.60" cy="89.00" r="7" fill="#e1261c"/>
<text x="1593.50" y="95.60" font-size="22">FSP1<tspan dy="-7.6" font-size="13.5">KO</tspan><tspan dy="7.6">/ </tspan><tspan>NQO1</tspan><tspan dy="-7.6" font-size="13.5">KO</tspan></text>
<circle cx="1557.80" cy="413.00" r="5.4" fill="#3b3c9f"/>
<circle cx="1693.39" cy="412.40" r="5.4" fill="#3b3c9f"/>
<circle cx="1734.63" cy="409.60" r="5.4" fill="#3b3c9f"/>
<circle cx="1775.87" cy="320.40" r="5.4" fill="#3b3c9f"/>
<circle cx="1817.11" cy="217.60" r="5.4" fill="#3b3c9f"/>
<circle cx="1858.35" cy="204.40" r="5.4" fill="#3b3c9f"/>
<circle cx="1899.59" cy="183.00" r="5.4" fill="#3b3c9f"/>
<circle cx="1940.84" cy="137.00" r="5.4" fill="#3b3c9f"/>
<circle cx="1982.08" cy="169.00" r="5.4" fill="#3b3c9f"/>
<circle cx="2023.32" cy="143.40" r="5.4" fill="#3b3c9f"/>
<circle cx="2064.56" cy="154.00" r="5.4" fill="#3b3c9f"/>
<circle cx="2105.80" cy="107.60" r="5.4" fill="#3b3c9f"/>
<circle cx="1557.80" cy="404.60" r="5.4" fill="#e1261c"/>
<circle cx="1693.39" cy="395.00" r="5.4" fill="#e1261c"/>
<circle cx="1734.63" cy="346.40" r="5.4" fill="#e1261c"/>
<circle cx="1775.87" cy="206.00" r="5.4" fill="#e1261c"/>
<circle cx="1817.11" cy="193.60" r="5.4" fill="#e1261c"/>
<circle cx="1858.35" cy="184.40" r="5.4" fill="#e1261c"/>
<circle cx="1899.59" cy="172.40" r="5.4" fill="#e1261c"/>
<circle cx="1940.84" cy="176.40" r="5.4" fill="#e1261c"/>
<circle cx="1982.08" cy="176.60" r="5.4" fill="#e1261c"/>
<circle cx="2023.32" cy="172.00" r="5.4" fill="#e1261c"/>
<circle cx="2064.56" cy="142.40" r="5.4" fill="#e1261c"/>
<circle cx="2105.80" cy="209.00" r="5.4" fill="#e1261c"/>
<path d="M1557.8,424.2 L1560.9,424.2 L1563.9,424.1 L1567.0,424.1 L1570.0,424.1 L1573.1,424.1 L1576.2,424.1 L1579.2,424.0 L1582.3,424.0 L1585.4,424.0 L1588.4,423.9 L1591.5,423.9 L1594.5,423.8 L1597.6,423.8 L1600.7,423.7 L1603.7,423.7 L1606.8,423.6 L1609.8,423.5 L1612.9,423.5 L1616.0,423.4 L1619.0,423.3 L1622.1,423.2 L1625.2,423.1 L1628.2,422.9 L1631.3,422.8 L1634.3,422.6 L1637.4,422.5 L1640.5,422.3 L1643.5,422.1 L1646.6,421.8 L1649.6,421.6 L1652.7,421.3 L1655.8,421.0 L1658.8,420.6 L1661.9,420.2 L1665.0,419.8 L1668.0,419.4 L1671.1,418.8 L1674.1,418.3 L1677.2,417.7 L1680.3,417.0 L1683.3,416.3 L1686.4,415.4 L1689.4,414.5 L1692.5,413.6 L1695.6,412.5 L1698.6,411.3 L1701.7,410.0 L1704.7,408.6 L1707.8,407.0 L1710.9,405.4 L1713.9,403.5 L1717.0,401.5 L1720.1,399.4 L1723.1,397.0 L1726.2,394.4 L1729.2,391.7 L1732.3,388.7 L1735.4,385.5 L1738.4,382.0 L1741.5,378.4 L1744.5,374.4 L1747.6,370.2 L1750.7,365.7 L1753.7,361.0 L1756.8,356.0 L1759.9,350.8 L1762.9,345.3 L1766.0,339.5 L1769.0,333.6 L1772.1,327.4 L1775.2,321.0 L1778.2,314.5 L1781.3,307.9 L1784.3,301.1 L1787.4,294.3 L1790.5,287.4 L1793.5,280.6 L1796.6,273.7 L1799.7,267.0 L1802.7,260.3 L1805.8,253.7 L1808.8,247.3 L1811.9,241.1 L1815.0,235.1 L1818.0,229.3 L1821.1,223.7 L1824.1,218.4 L1827.2,213.3 L1830.3,208.5 L1833.3,204.0 L1836.4,199.7 L1839.5,195.7 L1842.5,191.9 L1845.6,188.4 L1848.6,185.1 L1851.7,182.1 L1854.8,179.3 L1857.8,176.7 L1860.9,174.2 L1863.9,172.0 L1867.0,170.0 L1870.1,168.1 L1873.1,166.4 L1876.2,164.8 L1879.3,163.3 L1882.3,162.0 L1885.4,160.8 L1888.4,159.7 L1891.5,158.7 L1894.6,157.8 L1897.6,156.9 L1900.7,156.2 L1903.7,155.5 L1906.8,154.8 L1909.9,154.3 L1912.9,153.7 L1916.0,153.3 L1919.1,152.8 L1922.1,152.4 L1925.2,152.1 L1928.2,151.8 L1931.3,151.5 L1934.4,151.2 L1937.4,151.0 L1940.5,150.7 L1943.5,150.5 L1946.6,150.4 L1949.7,150.2 L1952.7,150.1 L1955.8,149.9 L1958.9,149.8 L1961.9,149.7 L1965.0,149.6 L1968.0,149.5 L1971.1,149.4 L1974.2,149.4 L1977.2,149.3 L1980.3,149.2 L1983.3,149.2 L1986.4,149.1 L1989.5,149.1 L1992.5,149.0 L1995.6,149.0 L1998.6,149.0 L2001.7,148.9 L2004.8,148.9 L2007.8,148.9 L2010.9,148.9 L2014.0,148.8 L2017.0,148.8 L2020.1,148.8 L2023.1,148.8 L2026.2,148.8 L2029.3,148.8 L2032.3,148.8 L2035.4,148.7 L2038.4,148.7 L2041.5,148.7 L2044.6,148.7 L2047.6,148.7 L2050.7,148.7 L2053.8,148.7 L2056.8,148.7 L2059.9,148.7 L2062.9,148.7 L2066.0,148.7 L2069.1,148.7 L2072.1,148.7 L2075.2,148.7 L2078.2,148.7 L2081.3,148.7 L2084.4,148.7 L2087.4,148.7 L2090.5,148.7 L2093.6,148.7 L2096.6,148.7 L2099.7,148.7 L2102.7,148.7 L2105.8,148.7" fill="none" stroke="#3b3c9f" stroke-width="3.4" stroke-linejoin="round" stroke-linecap="butt"/>
<path d="M1557.8,402.7 L1560.9,402.7 L1563.9,402.7 L1567.0,402.7 L1570.0,402.7 L1573.1,402.7 L1576.2,402.7 L1579.2,402.7 L1582.3,402.7 L1585.4,402.7 L1588.4,402.7 L1591.5,402.7 L1594.5,402.7 L1597.6,402.7 L1600.7,402.7 L1603.7,402.7 L1606.8,402.7 L1609.8,402.7 L1612.9,402.7 L1616.0,402.7 L1619.0,402.7 L1622.1,402.7 L1625.2,402.7 L1628.2,402.7 L1631.3,402.6 L1634.3,402.6 L1637.4,402.6 L1640.5,402.6 L1643.5,402.6 L1646.6,402.6 L1649.6,402.5 L1652.7,402.5 L1655.8,402.4 L1658.8,402.4 L1661.9,402.3 L1665.0,402.2 L1668.0,402.1 L1671.1,401.9 L1674.1,401.7 L1677.2,401.5 L1680.3,401.2 L1683.3,400.8 L1686.4,400.4 L1689.4,399.8 L1692.5,399.1 L1695.6,398.3 L1698.6,397.3 L1701.7,396.0 L1704.7,394.4 L1707.8,392.5 L1710.9,390.2 L1713.9,387.4 L1717.0,384.0 L1720.1,379.9 L1723.1,375.1 L1726.2,369.4 L1729.2,362.8 L1732.3,355.2 L1735.4,346.6 L1738.4,337.0 L1741.5,326.6 L1744.5,315.3 L1747.6,303.5 L1750.7,291.3 L1753.7,279.2 L1756.8,267.2 L1759.9,255.8 L1762.9,245.1 L1766.0,235.2 L1769.0,226.3 L1772.1,218.5 L1775.2,211.6 L1778.2,205.7 L1781.3,200.6 L1784.3,196.4 L1787.4,192.8 L1790.5,189.9 L1793.5,187.4 L1796.6,185.4 L1799.7,183.7 L1802.7,182.4 L1805.8,181.3 L1808.8,180.4 L1811.9,179.7 L1815.0,179.1 L1818.0,178.6 L1821.1,178.2 L1824.1,177.9 L1827.2,177.7 L1830.3,177.5 L1833.3,177.3 L1836.4,177.2 L1839.5,177.1 L1842.5,177.0 L1845.6,176.9 L1848.6,176.9 L1851.7,176.8 L1854.8,176.8 L1857.8,176.8 L1860.9,176.7 L1863.9,176.7 L1867.0,176.7 L1870.1,176.7 L1873.1,176.7 L1876.2,176.7 L1879.3,176.7 L1882.3,176.7 L1885.4,176.7 L1888.4,176.6 L1891.5,176.6 L1894.6,176.6 L1897.6,176.6 L1900.7,176.6 L1903.7,176.6 L1906.8,176.6 L1909.9,176.6 L1912.9,176.6 L1916.0,176.6 L1919.1,176.6 L1922.1,176.6 L1925.2,176.6 L1928.2,176.6 L1931.3,176.6 L1934.4,176.6 L1937.4,176.6 L1940.5,176.6 L1943.5,176.6 L1946.6,176.6 L1949.7,176.6 L1952.7,176.6 L1955.8,176.6 L1958.9,176.6 L1961.9,176.6 L1965.0,176.6 L1968.0,176.6 L1971.1,176.6 L1974.2,176.6 L1977.2,176.6 L1980.3,176.6 L1983.3,176.6 L1986.4,176.6 L1989.5,176.6 L1992.5,176.6 L1995.6,176.6 L1998.6,176.6 L2001.7,176.6 L2004.8,176.6 L2007.8,176.6 L2010.9,176.6 L2014.0,176.6 L2017.0,176.6 L2020.1,176.6 L2023.1,176.6 L2026.2,176.6 L2029.3,176.6 L2032.3,176.6 L2035.4,176.6 L2038.4,176.6 L2041.5,176.6 L2044.6,176.6 L2047.6,176.6 L2050.7,176.6 L2053.8,176.6 L2056.8,176.6 L2059.9,176.6 L2062.9,176.6 L2066.0,176.6 L2069.1,176.6 L2072.1,176.6 L2075.2,176.6 L2078.2,176.6 L2081.3,176.6 L2084.4,176.6 L2087.4,176.6 L2090.5,176.6 L2093.6,176.6 L2096.6,176.6 L2099.7,176.6 L2102.7,176.6 L2105.8,176.6" fill="none" stroke="#e1261c" stroke-width="3.4" stroke-linejoin="round" stroke-linecap="butt"/>
<text x="194.30" y="523.60" font-size="23">Cas9<tspan dy="-6.6" font-size="13">ctl</tspan></text>
<text x="354.00" y="523.60" font-size="23">FSP1<tspan dy="-8" font-size="13">KO</tspan></text>
<line x1="192.60" y1="535.60" x2="262.40" y2="535.60" stroke="#000" stroke-width="3.4"/>
<line x1="285.40" y1="535.60" x2="500.00" y2="535.60" stroke="#000" stroke-width="3.4"/>
<text x="37.40" y="570.00" font-size="22.8">NQO1-GFP</text>
<text x="116.60" y="616.60" font-size="22.8">dox</text>
<circle cx="385.60" cy="562.40" r="11.4" fill="#0c0b0a"/>
<circle cx="468.60" cy="562.40" r="11.4" fill="#0c0b0a"/>
<circle cx="468.60" cy="602.20" r="11.4" fill="#0c0b0a"/>
<g clip-path="url(#c4)">
<rect x="176" y="620" width="334" height="260" fill="#fdfdfd"/>
<rect x="188" y="640" width="70" height="225" fill="#000" opacity="0.02" filter="url(#b5)"/>
<rect x="272" y="640" width="68" height="225" fill="#000" opacity="0.025" filter="url(#b5)"/>
<rect x="356" y="640" width="64" height="225" fill="#000" opacity="0.02" filter="url(#b5)"/>
<rect x="434" y="640" width="66" height="225" fill="#000" opacity="0.06" filter="url(#b5)"/>
<rect x="356.00" y="646.50" width="64.00" height="9.00" rx="4.50" fill="#cecece" filter="url(#b3)"/>
<rect x="434.00" y="645.50" width="66.00" height="13.00" rx="6.50" fill="#1e1e1e" filter="url(#b3)"/>
<rect x="438.00" y="648.00" width="58.00" height="8.00" rx="4.00" fill="#111" filter="url(#b2)"/>
<rect x="434.00" y="662.00" width="66.00" height="8.00" rx="4.00" fill="#cfcfcf" filter="url(#b3)"/>
<rect x="188.00" y="679.50" width="70.00" height="15.00" rx="7.50" fill="#d8d8d8" filter="url(#b3)"/>
<rect x="272.00" y="682.50" width="68.00" height="15.00" rx="7.50" fill="#d4d4d4" filter="url(#b3)"/>
<rect x="356.00" y="692.00" width="64.00" height="10.00" rx="5.00" fill="#e2e2e2" filter="url(#b3)"/>
<rect x="434.00" y="689.50" width="66.00" height="13.00" rx="6.50" fill="#d6d6d6" filter="url(#b3)"/>
<rect x="188.00" y="710.10" width="70.00" height="11.00" rx="5.50" fill="#cbcbcb" filter="url(#b3)"/>
<rect x="272.00" y="714.50" width="68.00" height="11.00" rx="5.50" fill="#cdcdcd" filter="url(#b3)"/>
<rect x="356.00" y="719.00" width="64.00" height="10.00" rx="5.00" fill="#d0d0d0" filter="url(#b3)"/>
<rect x="434.00" y="719.50" width="66.00" height="11.00" rx="5.50" fill="#c4c4c4" filter="url(#b3)"/>
<rect x="188.00" y="765.50" width="70.00" height="11.00" rx="5.50" fill="#e8e8e8" filter="url(#b3)"/>
<rect x="272.00" y="765.50" width="68.00" height="11.00" rx="5.50" fill="#e6e6e6" filter="url(#b3)"/>
<rect x="356.00" y="765.50" width="64.00" height="11.00" rx="5.50" fill="#eaeaea" filter="url(#b3)"/>
<rect x="434.00" y="761.00" width="66.00" height="10.00" rx="5.00" fill="#bebebe" filter="url(#b3)"/>
<rect x="434.00" y="775.00" width="66.00" height="8.00" rx="4.00" fill="#dedede" filter="url(#b3)"/>
<rect x="188.00" y="786.00" width="70.00" height="8.00" rx="4.00" fill="#ededed" filter="url(#b3)"/>
<rect x="272.00" y="786.00" width="68.00" height="8.00" rx="4.00" fill="#e6e6e6" filter="url(#b3)"/>
<rect x="188.00" y="807.00" width="70.00" height="6.00" rx="3.00" fill="#eaeaea" filter="url(#b3)"/>
<rect x="272.00" y="807.00" width="68.00" height="6.00" rx="3.00" fill="#e4e4e4" filter="url(#b3)"/>
<rect x="434.00" y="742.00" width="66.00" height="6.00" rx="3.00" fill="#e4e4e4" filter="url(#b3)"/>
<rect x="188.00" y="827.50" width="70.00" height="21.00" rx="10.50" fill="#9a9a9a" filter="url(#b3)"/>
<rect x="190.00" y="830.50" width="66.00" height="13.00" rx="6.50" fill="#2c2c2c" filter="url(#b2)"/>
<rect x="272.00" y="826.50" width="68.00" height="23.00" rx="11.50" fill="#9a9a9a" filter="url(#b3)"/>
<rect x="274.00" y="829.50" width="64.00" height="15.00" rx="7.50" fill="#101010" filter="url(#b2)"/>
<rect x="356.00" y="827.50" width="64.00" height="21.00" rx="10.50" fill="#9a9a9a" filter="url(#b3)"/>
<rect x="358.00" y="830.50" width="60.00" height="13.00" rx="6.50" fill="#1c1c1c" filter="url(#b2)"/>
<rect x="434.00" y="827.50" width="66.00" height="21.00" rx="10.50" fill="#9a9a9a" filter="url(#b3)"/>
<rect x="436.00" y="830.50" width="62.00" height="13.00" rx="6.50" fill="#242424" filter="url(#b2)"/>
<rect x="434.00" y="862.50" width="66.00" height="7.00" rx="3.50" fill="#d4d4d4" filter="url(#b3)"/>
</g>
<g clip-path="url(#c5)">
<rect x="176" y="887" width="334" height="60" fill="#fdfdfd"/>
<rect x="191.00" y="907.85" width="65.00" height="7.50" rx="3.75" fill="#111" filter="url(#b15)"/>
<rect x="191.00" y="897.50" width="65.00" height="5.00" rx="2.50" fill="#c8c8c8" filter="url(#b15)"/>
<rect x="278.00" y="898.85" width="60.00" height="5.50" rx="2.75" fill="#cacaca" filter="url(#b15)"/>
<rect x="278.00" y="914.00" width="60.00" height="6.00" rx="3.00" fill="#e0e0e0" filter="url(#b15)"/>
<rect x="360.00" y="896.90" width="60.00" height="5.00" rx="2.50" fill="#d2d2d2" filter="url(#b15)"/>
<rect x="360.00" y="910.50" width="60.00" height="5.00" rx="2.50" fill="#ececec" filter="url(#b15)"/>
<rect x="440.00" y="894.25" width="62.00" height="5.50" rx="2.75" fill="#bdbdbd" filter="url(#b15)"/>
<rect x="440.00" y="910.00" width="60.00" height="6.00" rx="3.00" fill="#e6e6e6" filter="url(#b15)"/>
</g>
<g clip-path="url(#c6)">
<rect x="176" y="957" width="334" height="60" fill="#f1f1f1"/>
<rect x="186.00" y="975.40" width="68.00" height="20.00" rx="10.00" fill="#8a8a8a" filter="url(#b3)"/>
<rect x="188.00" y="977.90" width="64.00" height="13.00" rx="6.50" fill="#0c0c0c" filter="url(#b2)"/>
<rect x="273.00" y="979.50" width="67.00" height="19.00" rx="9.50" fill="#8a8a8a" filter="url(#b3)"/>
<rect x="275.00" y="981.75" width="63.00" height="12.50" rx="6.25" fill="#121212" filter="url(#b2)"/>
<rect x="357.00" y="981.00" width="66.00" height="18.00" rx="9.00" fill="#aaa" filter="url(#b3)"/>
<rect x="359.00" y="983.50" width="62.00" height="11.00" rx="5.50" fill="#474747" filter="url(#b2)"/>
<rect x="440.00" y="981.60" width="63.00" height="18.00" rx="9.00" fill="#aaa" filter="url(#b3)"/>
<rect x="442.00" y="984.10" width="59.00" height="11.00" rx="5.50" fill="#3c3c3c" filter="url(#b2)"/>
</g>
<rect x="177.50" y="622.30" width="330.30" height="254.00" fill="none" stroke="#1a1818" stroke-width="3.4"/>
<rect x="177.50" y="889.10" width="330.30" height="53.80" fill="none" stroke="#1a1818" stroke-width="3.4"/>
<rect x="177.50" y="959.10" width="330.30" height="54.20" fill="none" stroke="#1a1818" stroke-width="3.4"/>
<text x="149.40" y="667.00" font-size="21.5" text-anchor="end">50</text>
<line x1="155.60" y1="659.60" x2="170.40" y2="659.60" stroke="#000" stroke-width="3.4"/>
<text x="149.40" y="757.40" font-size="21.5" text-anchor="end">37</text>
<line x1="155.60" y1="751.50" x2="170.40" y2="751.50" stroke="#000" stroke-width="3.4"/>
<text x="148.60" y="932.40" font-size="21.5" text-anchor="end">37</text>
<line x1="153.60" y1="927.00" x2="168.60" y2="927.00" stroke="#000" stroke-width="3.4"/>
<text x="148.60" y="989.40" font-size="21.5" text-anchor="end">50</text>
<line x1="153.60" y1="983.60" x2="168.60" y2="983.60" stroke="#000" stroke-width="3.4"/>
<polygon points="521.50,653.00 545.00,646.00 542.50,650.00 551.50,650.00 551.50,656.00 542.50,656.00 545.00,660.00" fill="#000"/>
<text x="557.80" y="660.60" font-size="23">NQO1-GFP</text>
<polygon points="521.50,839.00 545.00,832.00 542.50,836.00 551.50,836.00 551.50,842.00 542.50,842.00 545.00,846.00" fill="#000"/>
<text x="557.80" y="846.00" font-size="23">NQO1</text>
<polygon points="521.50,912.00 545.00,905.00 542.50,909.00 551.50,909.00 551.50,915.00 542.50,915.00 545.00,919.00" fill="#000"/>
<text x="557.80" y="922.40" font-size="23">FSP1</text>
<polygon points="521.50,985.40 545.00,978.40 542.50,982.40 551.50,982.40 551.50,988.40 542.50,988.40 545.00,992.40" fill="#000"/>
<text x="557.80" y="993.60" font-size="23">tubulin</text>
<g clip-path="url(#c7)">
<g transform="translate(777,595.6)">
<rect x="-1" y="-1" width="191.3" height="191.3" fill="#868484"/>
<ellipse cx="20" cy="30" rx="30" ry="34" fill="#5e5e5e" filter="url(#m6)" opacity="0.85"/>
<ellipse cx="100" cy="140" rx="55" ry="26" fill="#929292" filter="url(#m6)" opacity="0.75"/>
<ellipse cx="28" cy="110" rx="22" ry="28" fill="#8e8e8e" filter="url(#m6)" opacity="0.6"/>
<ellipse cx="165" cy="150" rx="26" ry="30" fill="#686868" filter="url(#m6)" opacity="0.8"/>
<ellipse cx="120" cy="40" rx="30" ry="14" fill="#8a8a8a" filter="url(#m6)" opacity="0.6"/>
<ellipse cx="90" cy="100" rx="30" ry="15" fill="#6c6c6c" filter="url(#m2)" opacity="0.8"/>
<ellipse cx="150" cy="100" rx="12" ry="20" fill="#6a6a6a" filter="url(#m2)" opacity="0.7"/>
<ellipse cx="20" cy="170" rx="18" ry="18" fill="#6a6a6a" filter="url(#m6)" opacity="0.7"/>
<path d="M35,-1 L191,-1 L191,33 C184,29.5 178,27 170,24.5 C160,21 152,18 147,16 C138,13 130,11 124,10 C112,8 96,7.5 79,6.5 C64,6 52,5 45,3.5 Z" fill="#121212" filter="url(#m1)"/>
<path d="M60,5 C90,7 120,9 146,17 C160,22 175,28 191,35 L191,42 C170,32 150,25 130,20 C105,14 80,12 60,11 Z" fill="#555" opacity="0.8" filter="url(#m2)"/>
<ellipse cx="81.9" cy="60.1" rx="32.4" ry="23.3" fill="#383636" transform="rotate(-9 81.9 60.1)" filter="url(#m1)"/>
<ellipse cx="174.2" cy="73.7" rx="22.6" ry="27.8" fill="#383636" filter="url(#m1)"/>
<ellipse cx="129" cy="163.5" rx="23" ry="19.5" fill="#464444" transform="rotate(12 129 163.5)" filter="url(#m1)"/>
<ellipse cx="185" cy="141" rx="13" ry="12" fill="#1e1e1e" transform="rotate(35 185 141)" filter="url(#m2)"/>
<ellipse cx="129" cy="163" rx="10" ry="8" fill="#555" filter="url(#m2)" opacity="0.6"/>
<path d="M0,78 C10,72 20,66 33,62 L31,66 C22,70 10,76 0,82 Z" fill="#484646" filter="url(#m1)"/>
<path d="M33,64 C35,72 36,80 37,88" fill="none" stroke="#484646" stroke-width="1.5" stroke-linecap="round" stroke-linejoin="round" opacity="0.7" filter="url(#m1)"/>
<path d="M39,104 C46,108 56,118 62,128 C60,131 54,128 50,122 C45,116 42,110 39,104 Z" fill="#484646" filter="url(#m1)"/>
<path d="M40,137 C50,132 62,134 63,142 C62,150 54,158 46,162 C40,165 38,160 42,154 C44,148 42,142 40,137 Z" fill="#484646" filter="url(#m2)"/>
<rect x="0" y="0" width="189.3" height="189.3" filter="url(#nzw)" opacity="0.24"/>
<rect x="0" y="0" width="189.3" height="189.3" filter="url(#nzb)" opacity="0.3"/>
<g fill="#fff" opacity="0.9" filter="url(#m1)"><circle cx="155.0" cy="44.5" r="1.4"/><circle cx="158.5" cy="94.0" r="1.5"/><circle cx="163.5" cy="98.5" r="1.4"/><circle cx="178.0" cy="103.0" r="1.0"/><circle cx="181.0" cy="115.0" r="1.0"/><circle cx="150.0" cy="139.0" r="0.9"/><circle cx="160.0" cy="147.0" r="0.9"/><circle cx="172.0" cy="120.0" r="0.8"/></g>
<g fill="#0a0a0a" opacity="0.95" filter="url(#m1)"><circle cx="56.0" cy="91.0" r="1.4"/><circle cx="109.0" cy="98.0" r="1.8"/><circle cx="112.0" cy="103.5" r="1.7"/><circle cx="126.0" cy="110.5" r="1.6"/><circle cx="109.0" cy="18.0" r="1.2"/></g>
</g>
</g>
<text x="786.20" y="621.00" font-size="22.7" fill="#fff" stroke="#fff" stroke-width="0.45">NQO1-GFP</text>
<g clip-path="url(#c8)">
<g transform="translate(975,596)">
<rect x="-1" y="-1" width="191" height="191.2" fill="#090909"/>
<ellipse cx="120" cy="140" rx="40" ry="16" fill="#161616" filter="url(#m6)" opacity="0.8"/>
<path d="M0,75.5 C8,72 18,68 29,64.6" fill="none" stroke="#777" stroke-width="1.2" stroke-linecap="round" stroke-linejoin="round" opacity="0.8" filter="url(#m1)"/>
<path d="M49.7,39.5 C42,42 37.5,45 36,52 C34,58 34.5,62 31,66 C28,70 32,80 37.3,90.4 C40,98 42,103 45.2,107.3 C49,113 52,117 56.5,119.8 C62,122 68,122 73.4,122.6 C80,123 85,123.5 92,125.5" fill="none" stroke="#9a9a9a" stroke-width="1.3" stroke-linecap="round" stroke-linejoin="round" opacity="0.85" filter="url(#m1)"/>
<path d="M99.4,24.9 C104,27 108,29.5 113,31.6 C118,34 123,37 127.7,39.5" fill="none" stroke="#666" stroke-width="1.2" stroke-linecap="round" stroke-linejoin="round" opacity="0.8" filter="url(#m1)"/>
<path d="M139,9 C148,13 156,16.5 165,20.5 C174,24.5 182,28 190,31.6" fill="none" stroke="#666" stroke-width="1.4" stroke-linecap="round" stroke-linejoin="round" opacity="0.8" filter="url(#m1)"/>
<path d="M139,63.3 C136.5,72 135,81 134.5,90.4 C134,102 134.6,113 135.6,124.3 C136.2,130 137,136 137.9,141.2" fill="none" stroke="#3c3c3c" stroke-width="3.0" stroke-linecap="round" stroke-linejoin="round" opacity="0.9" filter="url(#m2)"/>
<path d="M96,176.3 C102,177.5 108,179 113,180.8 C117,182.5 121,185 124.3,187.6" fill="none" stroke="#555" stroke-width="1.2" stroke-linecap="round" stroke-linejoin="round" opacity="0.8" filter="url(#m1)"/>
<path d="M92,125.5 C100,128 106,131 112,133 C120,135 128,136 136,138" fill="none" stroke="#444" stroke-width="1.4" stroke-linecap="round" stroke-linejoin="round" opacity="0.8" filter="url(#m1)"/>
<path d="M40,160 C46,156 52,150 58,140" fill="none" stroke="#555" stroke-width="1.0" stroke-linecap="round" stroke-linejoin="round" opacity="0.8" filter="url(#m1)"/>
<path d="M178,140 C182,146 186,150 190,154" fill="none" stroke="#444" stroke-width="1.2" stroke-linecap="round" stroke-linejoin="round" opacity="0.8" filter="url(#m1)"/>
<rect x="0" y="0" width="189" height="189" filter="url(#nzf)" opacity="0.06"/>
<g fill="#dcdcdc" opacity="0.8" filter="url(#m1)"><circle cx="87.7" cy="88.6" r="0.6"/><circle cx="162.3" cy="31.0" r="0.9"/><circle cx="168.2" cy="42.7" r="0.9"/><circle cx="116.1" cy="36.4" r="0.8"/><circle cx="132.1" cy="101.0" r="1.0"/><circle cx="31.1" cy="67.4" r="0.6"/><circle cx="95.7" cy="175.0" r="0.9"/><circle cx="145.2" cy="90.2" r="1.0"/><circle cx="20.8" cy="75.7" r="1.0"/><circle cx="136.3" cy="96.2" r="0.6"/><circle cx="51.3" cy="63.0" r="0.7"/><circle cx="151.8" cy="61.3" r="1.1"/><circle cx="164.7" cy="38.6" r="0.8"/><circle cx="93.0" cy="33.7" r="0.8"/><circle cx="169.7" cy="47.6" r="0.9"/><circle cx="24.4" cy="120.9" r="1.1"/><circle cx="39.6" cy="31.3" r="0.6"/><circle cx="101.9" cy="32.7" r="0.6"/><circle cx="93.9" cy="174.6" r="0.8"/><circle cx="75.7" cy="130.3" r="0.6"/><circle cx="109.3" cy="57.1" r="0.9"/><circle cx="179.3" cy="38.5" r="0.9"/><circle cx="114.2" cy="53.4" r="0.7"/><circle cx="186.1" cy="186.7" r="0.6"/><circle cx="132.5" cy="179.3" r="0.7"/><circle cx="115.1" cy="36.8" r="0.8"/><circle cx="126.7" cy="122.7" r="1.0"/><circle cx="18.0" cy="84.5" r="1.1"/><circle cx="110.1" cy="100.9" r="0.8"/><circle cx="184.4" cy="120.2" r="0.5"/><circle cx="149.9" cy="81.6" r="0.8"/><circle cx="41.5" cy="99.7" r="0.7"/><circle cx="18.4" cy="128.8" r="0.6"/><circle cx="147.1" cy="34.0" r="1.0"/><circle cx="151.4" cy="108.1" r="1.0"/><circle cx="47.9" cy="145.8" r="0.8"/><circle cx="44.7" cy="181.4" r="0.8"/><circle cx="71.0" cy="165.0" r="0.8"/><circle cx="125.5" cy="56.9" r="1.1"/><circle cx="49.9" cy="37.9" r="1.2"/><circle cx="34.0" cy="178.6" r="1.2"/><circle cx="114.2" cy="31.9" r="0.5"/><circle cx="40.6" cy="91.1" r="0.9"/><circle cx="180.8" cy="85.7" r="0.6"/><circle cx="106.0" cy="51.6" r="0.6"/><circle cx="104.9" cy="139.3" r="0.5"/><circle cx="85.5" cy="140.5" r="1.0"/><circle cx="72.9" cy="169.3" r="0.6"/><circle cx="134.4" cy="151.2" r="1.1"/><circle cx="93.5" cy="45.6" r="0.5"/><circle cx="99.8" cy="57.2" r="0.9"/><circle cx="17.6" cy="152.5" r="0.7"/><circle cx="4.4" cy="57.6" r="0.8"/><circle cx="105.5" cy="91.0" r="0.6"/><circle cx="91.2" cy="178.6" r="0.9"/><circle cx="176.1" cy="34.5" r="1.2"/><circle cx="166.5" cy="115.5" r="0.9"/><circle cx="101.4" cy="172.8" r="0.5"/><circle cx="120.9" cy="115.1" r="0.7"/><circle cx="136.1" cy="143.1" r="0.6"/><circle cx="91.5" cy="82.7" r="1.1"/><circle cx="88.7" cy="75.9" r="1.2"/><circle cx="76.8" cy="89.9" r="0.9"/><circle cx="97.0" cy="87.4" r="1.2"/><circle cx="99.4" cy="75.6" r="1.2"/><circle cx="87.6" cy="86.5" r="1.0"/><circle cx="63.1" cy="78.2" r="1.2"/><circle cx="68.2" cy="76.1" r="1.0"/><circle cx="81.2" cy="84.1" r="0.7"/><circle cx="94.9" cy="80.7" r="1.3"/><circle cx="60.4" cy="91.2" r="1.2"/><circle cx="103.9" cy="91.8" r="1.4"/><circle cx="64.8" cy="80.9" r="0.9"/><circle cx="95.1" cy="78.3" r="0.9"/><circle cx="65.0" cy="77.0" r="1.5"/><circle cx="103.9" cy="81.3" r="1.3"/><circle cx="81.0" cy="83.9" r="1.0"/><circle cx="88.6" cy="79.0" r="0.9"/><circle cx="125.9" cy="128.9" r="1.0"/><circle cx="147.2" cy="125.4" r="0.8"/><circle cx="140.0" cy="126.2" r="0.9"/><circle cx="142.6" cy="137.1" r="0.9"/><circle cx="102.9" cy="130.5" r="0.9"/><circle cx="140.0" cy="144.5" r="1.3"/><circle cx="145.1" cy="143.6" r="1.3"/><circle cx="146.0" cy="144.4" r="0.8"/><circle cx="115.9" cy="129.9" r="1.1"/><circle cx="124.6" cy="131.9" r="1.3"/><circle cx="120.0" cy="129.2" r="0.9"/><circle cx="123.1" cy="137.2" r="1.1"/><circle cx="122.0" cy="128.7" r="1.0"/><circle cx="116.3" cy="128.4" r="1.1"/><circle cx="109.4" cy="139.2" r="1.2"/><circle cx="106.9" cy="137.5" r="0.9"/><circle cx="161.5" cy="119.3" r="1.1"/><circle cx="182.4" cy="124.3" r="0.7"/><circle cx="166.0" cy="108.4" r="0.6"/><circle cx="166.5" cy="113.8" r="1.1"/><circle cx="155.5" cy="128.3" r="0.9"/><circle cx="144.8" cy="123.7" r="0.8"/><circle cx="165.6" cy="97.9" r="0.6"/><circle cx="184.2" cy="96.7" r="0.7"/><circle cx="147.8" cy="98.8" r="1.1"/><circle cx="187.8" cy="121.0" r="0.8"/><circle cx="182.6" cy="115.2" r="0.7"/><circle cx="173.1" cy="109.4" r="0.8"/></g>
</g>
</g>
<text x="980.20" y="623.00" font-size="22.6" fill="#fff" stroke="#fff" stroke-width="0.45">Cell Mask</text>
<g clip-path="url(#c9)">
<g transform="translate(1172.3,596.2)">
<rect x="-1" y="-1" width="191.3" height="191.3" fill="#416a2c"/>
<ellipse cx="20" cy="30" rx="30" ry="30" fill="#4a5a2c" filter="url(#m6)" opacity="0.8"/>
<ellipse cx="100" cy="140" rx="55" ry="26" fill="#477a32" filter="url(#m6)" opacity="0.7"/>
<ellipse cx="90" cy="100" rx="30" ry="15" fill="#3c5c2c" filter="url(#m2)" opacity="0.8"/>
<ellipse cx="85" cy="16" rx="34" ry="16" fill="#7a3a1c" filter="url(#m6)" opacity="0.95"/>
<ellipse cx="70" cy="8" rx="26" ry="8" fill="#6a2a14" filter="url(#m2)" opacity="0.8"/>
<ellipse cx="178" cy="140" rx="16" ry="22" fill="#8a3420" filter="url(#m6)" opacity="0.8"/>
<ellipse cx="15" cy="12" rx="16" ry="12" fill="#6a4a2a" filter="url(#m6)" opacity="0.6"/>
<path d="M139,-1 L191,-1 L191,32 C182,28 174,24.5 165,20.5 C156,16.5 148,13 140,9.5 Z" fill="#3a150a" filter="url(#m1)"/>
<path d="M52,-1 L100,-1 C96,4 80,6 66,5 C60,4 55,2 52,-1 Z" fill="#2c1008" opacity="0.9" filter="url(#m1)"/>
<ellipse cx="81.9" cy="60.1" rx="32.4" ry="23.3" fill="#37260f" transform="rotate(-9 81.9 60.1)" filter="url(#m1)"/>
<ellipse cx="174.2" cy="73.7" rx="22.6" ry="27.8" fill="#37260f" filter="url(#m1)"/>
<ellipse cx="129" cy="163.5" rx="23" ry="19.5" fill="#3c3416" transform="rotate(12 129 163.5)" filter="url(#m1)"/>
<path d="M0,78 C10,72 20,66 33,62 L31,66 C22,70 10,76 0,82 Z" fill="#5a2a14" filter="url(#m1)"/>
<path d="M33,64 C35,72 36,80 37,88" fill="none" stroke="#5a2a14" stroke-width="1.5" stroke-linecap="round" stroke-linejoin="round" opacity="0.7" filter="url(#m1)"/>
<path d="M39,104 C46,108 56,118 62,128 C60,131 54,128 50,122 C45,116 42,110 39,104 Z" fill="#5a2a14" filter="url(#m1)"/>
<path d="M40,137 C50,132 62,134 63,142 C62,150 54,158 46,162 C40,165 38,160 42,154 C44,148 42,142 40,137 Z" fill="#5a2414" filter="url(#m2)"/>
<rect x="0" y="0" width="189.3" height="189.3" filter="url(#nzb)" opacity="0.3"/>
<path d="M0,75.5 C8,72 18,68 29,64.6" fill="none" stroke="#b03c24" stroke-width="2.6" stroke-linecap="round" stroke-linejoin="round" filter="url(#m1)"/>
<path d="M49.7,39.5 C42,42 37.5,45 36,52 C34,58 34.5,62 31,66 C28,70 32,80 37.3,90.4 C40,98 42,103 45.2,107.3 C49,113 52,117 56.5,119.8 C62,122 68,122 73.4,122.6 C80,123 85,123.5 92,125.5" fill="none" stroke="#d2592a" stroke-width="1.9" stroke-linecap="round" stroke-linejoin="round" filter="url(#m1)"/>
<path d="M99.4,24.9 C104,27 108,29.5 113,31.6 C118,34 123,37 127.7,39.5" fill="none" stroke="#c85428" stroke-width="1.8" stroke-linecap="round" stroke-linejoin="round" filter="url(#m1)"/>
<path d="M139,9 C148,13 156,16.5 165,20.5 C174,24.5 182,28 190,31.6" fill="none" stroke="#d05a2a" stroke-width="2.0" stroke-linecap="round" stroke-linejoin="round" filter="url(#m1)"/>
<path d="M139,63.3 C136.5,72 135,81 134.5,90.4 C134,102 134.6,113 135.6,124.3 C136.2,130 137,136 137.9,141.2" fill="none" stroke="#a8702c" stroke-width="2.2" stroke-linecap="round" stroke-linejoin="round" opacity="0.75" filter="url(#m1)"/>
<path d="M96,176.3 C102,177.5 108,179 113,180.8 C117,182.5 121,185 124.3,187.6" fill="none" stroke="#c0602a" stroke-width="1.8" stroke-linecap="round" stroke-linejoin="round" opacity="0.85" filter="url(#m1)"/>
<path d="M92,125.5 C100,128 106,131 112,133 C120,135 128,136 136,138" fill="none" stroke="#a8702c" stroke-width="1.6" stroke-linecap="round" stroke-linejoin="round" opacity="0.6" filter="url(#m1)"/>
<path d="M58,30 C54,22 54,12 56,2" fill="none" stroke="#b04a26" stroke-width="2.4" stroke-linecap="round" stroke-linejoin="round" opacity="0.8" filter="url(#m2)"/>
<path d="M40,160 C46,156 52,150 58,140" fill="none" stroke="#d2592a" stroke-width="1.6" stroke-linecap="round" stroke-linejoin="round" opacity="0.8" filter="url(#m1)"/>
<g fill="#e85c30" opacity="0.85" filter="url(#m1)"><circle cx="45.7" cy="46.2" r="1.0"/><circle cx="30.7" cy="40.4" r="1.0"/><circle cx="171.8" cy="155.7" r="1.3"/><circle cx="43.1" cy="114.3" r="0.9"/><circle cx="33.9" cy="46.7" r="0.9"/><circle cx="173.6" cy="160.1" r="1.3"/><circle cx="150.1" cy="60.4" r="0.9"/><circle cx="118.0" cy="144.9" r="1.4"/><circle cx="164.8" cy="43.6" r="1.2"/><circle cx="126.3" cy="109.4" r="0.8"/><circle cx="89.6" cy="44.0" r="1.4"/><circle cx="162.1" cy="116.0" r="0.9"/><circle cx="170.1" cy="119.9" r="1.4"/><circle cx="158.9" cy="109.8" r="1.0"/><circle cx="112.8" cy="97.7" r="0.8"/><circle cx="58.4" cy="157.6" r="0.7"/><circle cx="10.6" cy="128.3" r="0.9"/><circle cx="100.9" cy="104.0" r="1.0"/><circle cx="186.5" cy="60.7" r="1.0"/><circle cx="39.5" cy="129.3" r="0.9"/><circle cx="67.8" cy="147.3" r="1.0"/><circle cx="105.3" cy="172.0" r="0.8"/><circle cx="13.4" cy="65.9" r="1.3"/><circle cx="115.9" cy="67.3" r="1.0"/><circle cx="34.8" cy="102.1" r="0.7"/><circle cx="131.0" cy="170.7" r="1.5"/><circle cx="138.0" cy="180.7" r="0.7"/><circle cx="55.5" cy="181.7" r="1.3"/><circle cx="77.9" cy="178.1" r="1.2"/><circle cx="153.3" cy="76.1" r="0.9"/><circle cx="84.2" cy="51.4" r="1.0"/><circle cx="179.9" cy="82.0" r="0.7"/><circle cx="10.3" cy="56.6" r="1.3"/><circle cx="69.1" cy="75.6" r="0.8"/><circle cx="183.6" cy="96.6" r="0.9"/><circle cx="13.0" cy="38.7" r="0.8"/><circle cx="127.2" cy="53.5" r="0.7"/><circle cx="92.8" cy="69.1" r="1.5"/><circle cx="24.6" cy="113.1" r="1.3"/><circle cx="77.7" cy="185.1" r="1.1"/><circle cx="46.7" cy="94.5" r="0.7"/><circle cx="79.9" cy="69.0" r="1.4"/><circle cx="155.7" cy="108.3" r="0.7"/><circle cx="49.1" cy="68.1" r="0.9"/><circle cx="44.8" cy="166.5" r="0.8"/><circle cx="11.5" cy="175.7" r="1.2"/><circle cx="185.3" cy="93.3" r="1.4"/><circle cx="123.0" cy="154.2" r="1.3"/><circle cx="93.4" cy="44.6" r="0.9"/><circle cx="163.7" cy="171.3" r="1.4"/><circle cx="64.3" cy="133.1" r="1.3"/><circle cx="120.9" cy="157.9" r="1.1"/><circle cx="123.1" cy="137.7" r="0.9"/><circle cx="172.7" cy="180.1" r="0.8"/><circle cx="181.7" cy="181.0" r="1.2"/><circle cx="10.2" cy="171.1" r="0.8"/><circle cx="181.2" cy="134.7" r="0.7"/><circle cx="32.9" cy="129.7" r="1.2"/><circle cx="140.1" cy="175.6" r="0.9"/><circle cx="2.6" cy="174.8" r="0.7"/><circle cx="44.1" cy="8.2" r="1.4"/><circle cx="39.6" cy="35.6" r="1.2"/><circle cx="44.2" cy="11.3" r="1.3"/><circle cx="17.9" cy="36.1" r="1.4"/><circle cx="24.6" cy="23.0" r="0.8"/><circle cx="3.6" cy="25.4" r="1.2"/><circle cx="43.5" cy="25.9" r="0.9"/><circle cx="19.4" cy="31.6" r="1.2"/><circle cx="2.5" cy="34.2" r="1.5"/><circle cx="6.1" cy="23.6" r="1.1"/><circle cx="39.8" cy="15.2" r="1.0"/><circle cx="25.4" cy="38.8" r="0.9"/><circle cx="7.5" cy="26.4" r="1.5"/><circle cx="26.6" cy="19.6" r="1.5"/><circle cx="39.3" cy="6.4" r="1.5"/><circle cx="11.4" cy="14.9" r="1.5"/><circle cx="22.3" cy="32.7" r="0.9"/><circle cx="44.0" cy="10.3" r="0.9"/><circle cx="25.7" cy="16.2" r="1.2"/><circle cx="45.4" cy="29.6" r="0.8"/><circle cx="17.0" cy="23.6" r="1.2"/><circle cx="36.3" cy="21.4" r="0.9"/><circle cx="70.3" cy="86.3" r="1.3"/><circle cx="92.2" cy="87.8" r="1.6"/><circle cx="88.4" cy="83.7" r="1.3"/><circle cx="98.3" cy="82.1" r="1.8"/><circle cx="72.8" cy="86.5" r="1.7"/><circle cx="85.7" cy="81.9" r="1.1"/><circle cx="92.4" cy="81.0" r="1.6"/><circle cx="65.6" cy="77.9" r="1.1"/><circle cx="94.0" cy="79.0" r="1.8"/><circle cx="75.6" cy="83.3" r="1.3"/><circle cx="86.1" cy="78.0" r="1.4"/><circle cx="99.3" cy="79.0" r="1.6"/><circle cx="73.7" cy="80.3" r="1.0"/><circle cx="60.8" cy="87.4" r="1.7"/><circle cx="93.6" cy="85.9" r="1.9"/><circle cx="66.7" cy="83.4" r="1.4"/><circle cx="137.8" cy="141.1" r="1.4"/><circle cx="158.4" cy="129.6" r="1.4"/><circle cx="143.1" cy="138.4" r="1.3"/><circle cx="151.2" cy="132.2" r="1.5"/><circle cx="129.1" cy="136.4" r="1.5"/><circle cx="144.6" cy="132.3" r="1.1"/><circle cx="125.0" cy="136.8" r="1.6"/><circle cx="154.7" cy="133.6" r="1.2"/><circle cx="150.5" cy="132.0" r="1.2"/><circle cx="108.7" cy="130.6" r="1.3"/><circle cx="144.1" cy="136.6" r="1.2"/><circle cx="157.5" cy="136.7" r="1.0"/><circle cx="111.5" cy="141.6" r="1.6"/><circle cx="155.8" cy="136.5" r="1.1"/></g>
<g fill="#7060e0" opacity="0.95" filter="url(#m1)"><circle cx="107.5" cy="18.5" r="1.3"/><circle cx="56.5" cy="91.0" r="1.5"/><circle cx="109.0" cy="98.0" r="1.8"/><circle cx="112.5" cy="103.5" r="1.8"/><circle cx="125.5" cy="111.0" r="2.3"/><circle cx="170.0" cy="58.0" r="1.0"/></g>
<g fill="#38e040" opacity="0.95" filter="url(#m1)"><circle cx="154.8" cy="45.2" r="1.6"/><circle cx="158.2" cy="94.0" r="1.5"/><circle cx="163.0" cy="98.7" r="1.5"/></g>
</g>
</g>
<line x1="1305.80" y1="772.00" x2="1354.00" y2="772.00" stroke="#fff" stroke-width="2.8"/>
<text x="1270.00" y="566.60" font-size="22.8" text-anchor="middle" fill="#0d9f4b">NQO1-GFP</text>
<text x="1270.40" y="590.00" font-size="22.6" text-anchor="middle" fill="#d93a2b">Cell Mask</text>
<text x="851.60" y="908.00" font-size="21" text-anchor="middle">1</text>
<text x="892.13" y="908.00" font-size="21" text-anchor="middle">2</text>
<text x="932.66" y="908.00" font-size="21" text-anchor="middle">3</text>
<text x="973.19" y="908.00" font-size="21" text-anchor="middle">4</text>
<text x="1013.72" y="908.00" font-size="21" text-anchor="middle">5</text>
<text x="1054.25" y="908.00" font-size="21" text-anchor="middle">6</text>
<text x="1094.78" y="908.00" font-size="21" text-anchor="middle">7</text>
<text x="1135.31" y="908.00" font-size="21" text-anchor="middle">8</text>
<text x="1175.84" y="908.00" font-size="21" text-anchor="middle">9</text>
<text x="1216.37" y="908.00" font-size="21" text-anchor="middle">10</text>
<text x="1256.90" y="908.00" font-size="21" text-anchor="middle">11</text>
<text x="1297.43" y="908.00" font-size="21" text-anchor="middle">12</text>
<text x="1337.96" y="908.00" font-size="21" text-anchor="middle">13</text>
<text x="1378.49" y="908.00" font-size="21" text-anchor="middle">14</text>
<text x="1419.02" y="908.00" font-size="21" text-anchor="middle">15</text>
<text x="1459.55" y="908.00" font-size="21" text-anchor="middle">16</text>
<text x="1500.08" y="908.00" font-size="21" text-anchor="middle">17</text>
<g clip-path="url(#c10)">
<rect x="825" y="911" width="701" height="42" fill="#fdfdfd"/>
<rect x="1282.4" y="913" width="37" height="38" fill="#000" opacity="0.05" filter="url(#b2)"/>
<rect x="1282.4" y="922" width="37" height="22" fill="#000" opacity="0.05" filter="url(#b3)"/>
<rect x="1323.0" y="913" width="37" height="38" fill="#000" opacity="0.13" filter="url(#b2)"/>
<rect x="1323.0" y="922" width="37" height="22" fill="#000" opacity="0.13" filter="url(#b3)"/>
<rect x="1363.5" y="913" width="37" height="38" fill="#000" opacity="0.16" filter="url(#b2)"/>
<rect x="1363.5" y="922" width="37" height="22" fill="#000" opacity="0.16" filter="url(#b3)"/>
<rect x="1404.0" y="913" width="37" height="38" fill="#000" opacity="0.17" filter="url(#b2)"/>
<rect x="1404.0" y="922" width="37" height="22" fill="#000" opacity="0.17" filter="url(#b3)"/>
<rect x="1444.6" y="913" width="37" height="38" fill="#000" opacity="0.17" filter="url(#b2)"/>
<rect x="1444.6" y="922" width="37" height="22" fill="#000" opacity="0.17" filter="url(#b3)"/>
<rect x="1485.1" y="913" width="37" height="38" fill="#000" opacity="0.17" filter="url(#b2)"/>
<rect x="1485.1" y="922" width="37" height="22" fill="#000" opacity="0.17" filter="url(#b3)"/>
<rect x="835.60" y="927.90" width="32.00" height="3.20" rx="1.60" fill="#efefef" filter="url(#b1)"/>
<rect x="876.13" y="930.00" width="32.00" height="3.20" rx="1.60" fill="#e6e6e6" filter="url(#b1)"/>
<rect x="916.66" y="933.40" width="32.00" height="3.20" rx="1.60" fill="#cfcfcf" filter="url(#b1)"/>
<rect x="957.19" y="935.00" width="32.00" height="3.20" rx="1.60" fill="#c4c4c4" filter="url(#b1)"/>
<rect x="997.72" y="936.40" width="32.00" height="3.20" rx="1.60" fill="#b4b4b4" filter="url(#b1)"/>
<rect x="1038.25" y="936.40" width="32.00" height="3.20" rx="1.60" fill="#b8b8b8" filter="url(#b1)"/>
<rect x="1078.78" y="937.40" width="32.00" height="3.20" rx="1.60" fill="#dadada" filter="url(#b1)"/>
<rect x="1119.31" y="936.80" width="32.00" height="3.20" rx="1.60" fill="#e0e0e0" filter="url(#b1)"/>
<rect x="1159.84" y="936.00" width="32.00" height="3.20" rx="1.60" fill="#e6e6e6" filter="url(#b1)"/>
<rect x="1200.37" y="935.40" width="32.00" height="3.20" rx="1.60" fill="#f3f3f3" filter="url(#b1)"/>
<rect x="1242.90" y="934.80" width="28.00" height="3.20" rx="1.60" fill="#767676" filter="url(#b1)"/>
<rect x="1282.43" y="934.00" width="38.00" height="11.00" rx="5.50" fill="#050505" filter="url(#b1)"/>
<rect x="1322.96" y="931.80" width="38.00" height="13.00" rx="6.50" fill="#050505" filter="url(#b1)"/>
<rect x="1363.49" y="929.30" width="38.00" height="14.00" rx="7.00" fill="#050505" filter="url(#b1)"/>
<rect x="1404.02" y="927.75" width="38.00" height="14.50" rx="7.25" fill="#050505" filter="url(#b1)"/>
<rect x="1444.55" y="926.55" width="38.00" height="14.50" rx="7.25" fill="#050505" filter="url(#b1)"/>
<rect x="1483.58" y="925.15" width="38.00" height="14.50" rx="7.25" fill="#050505" filter="url(#b1)"/>
</g>
<g clip-path="url(#c11)">
<rect x="825" y="958" width="701" height="35" fill="#e2e2e2"/>
<rect x="834.6" y="972" width="34" height="18" fill="#000" opacity="0.058" filter="url(#b3)"/>
<rect x="875.1" y="972" width="34" height="18" fill="#000" opacity="0.066" filter="url(#b3)"/>
<rect x="915.7" y="972" width="34" height="18" fill="#000" opacity="0.074" filter="url(#b3)"/>
<rect x="956.2" y="972" width="34" height="18" fill="#000" opacity="0.082" filter="url(#b3)"/>
<rect x="996.7" y="972" width="34" height="18" fill="#000" opacity="0.090" filter="url(#b3)"/>
<rect x="1037.2" y="972" width="34" height="18" fill="#000" opacity="0.098" filter="url(#b3)"/>
<rect x="1077.8" y="972" width="34" height="18" fill="#000" opacity="0.106" filter="url(#b3)"/>
<rect x="1118.3" y="972" width="34" height="18" fill="#000" opacity="0.114" filter="url(#b3)"/>
<rect x="1158.8" y="972" width="34" height="18" fill="#000" opacity="0.122" filter="url(#b3)"/>
<rect x="1199.4" y="972" width="34" height="18" fill="#000" opacity="0.130" filter="url(#b3)"/>
<rect x="1239.9" y="972" width="34" height="18" fill="#000" opacity="0.138" filter="url(#b3)"/>
<rect x="1280.4" y="972" width="34" height="18" fill="#000" opacity="0.146" filter="url(#b3)"/>
<rect x="1321.0" y="972" width="34" height="18" fill="#000" opacity="0.154" filter="url(#b3)"/>
<rect x="1361.5" y="972" width="34" height="18" fill="#000" opacity="0.162" filter="url(#b3)"/>
<rect x="1402.0" y="972" width="34" height="18" fill="#000" opacity="0.170" filter="url(#b3)"/>
<rect x="1442.6" y="972" width="34" height="18" fill="#000" opacity="0.178" filter="url(#b3)"/>
<rect x="1483.1" y="972" width="34" height="18" fill="#000" opacity="0.186" filter="url(#b3)"/>
<rect x="828.8" y="960" width="5" height="32" fill="#fff" opacity="0.75" filter="url(#b1)"/>
<rect x="869.3" y="960" width="5" height="32" fill="#fff" opacity="0.75" filter="url(#b1)"/>
<rect x="909.8" y="960" width="5" height="32" fill="#fff" opacity="0.75" filter="url(#b1)"/>
<rect x="950.4" y="960" width="5" height="32" fill="#fff" opacity="0.75" filter="url(#b1)"/>
<rect x="990.9" y="960" width="5" height="32" fill="#fff" opacity="0.75" filter="url(#b1)"/>
<rect x="1031.4" y="960" width="5" height="32" fill="#fff" opacity="0.75" filter="url(#b1)"/>
<rect x="1072.0" y="960" width="5" height="32" fill="#fff" opacity="0.75" filter="url(#b1)"/>
<rect x="1112.5" y="960" width="5" height="32" fill="#fff" opacity="0.75" filter="url(#b1)"/>
<rect x="1153.0" y="960" width="5" height="32" fill="#fff" opacity="0.75" filter="url(#b1)"/>
<rect x="1193.5" y="960" width="5" height="32" fill="#fff" opacity="0.75" filter="url(#b1)"/>
<rect x="1234.1" y="960" width="5" height="32" fill="#fff" opacity="0.75" filter="url(#b1)"/>
<rect x="1274.6" y="960" width="5" height="32" fill="#fff" opacity="0.75" filter="url(#b1)"/>
<rect x="1315.1" y="960" width="5" height="32" fill="#fff" opacity="0.75" filter="url(#b1)"/>
<rect x="1355.7" y="960" width="5" height="32" fill="#fff" opacity="0.75" filter="url(#b1)"/>
<rect x="1396.2" y="960" width="5" height="32" fill="#fff" opacity="0.75" filter="url(#b1)"/>
<rect x="1436.7" y="960" width="5" height="32" fill="#fff" opacity="0.75" filter="url(#b1)"/>
<rect x="1477.3" y="960" width="5" height="32" fill="#fff" opacity="0.75" filter="url(#b1)"/>
<rect x="1517.8" y="960" width="5" height="32" fill="#fff" opacity="0.75" filter="url(#b1)"/>
<rect x="1483" y="962" width="36" height="28" fill="#000" opacity="0.1" filter="url(#b2)"/>
</g>
<rect x="826.80" y="913.40" width="697.40" height="37.40" fill="none" stroke="#1a1818" stroke-width="3.6"/>
<rect x="826.80" y="960.20" width="697.40" height="30.00" fill="none" stroke="#1a1818" stroke-width="3.6"/>
<text x="796.80" y="950.80" font-size="21.5" text-anchor="end">50</text>
<line x1="802.00" y1="943.20" x2="817.00" y2="943.20" stroke="#000" stroke-width="3.4"/>
<text x="796.80" y="991.60" font-size="21.5" text-anchor="end">150</text>
<line x1="802.00" y1="984.20" x2="817.00" y2="984.20" stroke="#000" stroke-width="3.4"/>
<polygon points="1536.40,935.00 1557.40,928.20 1554.90,932.00 1564.40,932.00 1564.40,938.00 1554.90,938.00 1557.40,941.80" fill="#000"/>
<text x="1572.40" y="942.40" font-size="22.4">NQO1-GFP</text>
<polygon points="1536.40,975.00 1557.40,968.20 1554.90,972.00 1564.40,972.00 1564.40,978.00 1554.90,978.00 1557.40,981.80" fill="#000"/>
<text x="1572.40" y="982.40" font-size="22.4">MDR1</text>
<line x1="129.60" y1="1252.70" x2="129.60" y2="1620.00" stroke="#000" stroke-width="3.5"/>
<line x1="119.60" y1="1596.40" x2="672.20" y2="1596.40" stroke="#000" stroke-width="3.2"/>
<line x1="119.60" y1="1254.30" x2="129.60" y2="1254.30" stroke="#000" stroke-width="3.2"/>
<line x1="119.60" y1="1340.20" x2="129.60" y2="1340.20" stroke="#000" stroke-width="3.2"/>
<line x1="119.60" y1="1425.60" x2="129.60" y2="1425.60" stroke="#000" stroke-width="3.2"/>
<line x1="119.60" y1="1511.00" x2="129.60" y2="1511.00" stroke="#000" stroke-width="3.2"/>
<line x1="264.85" y1="1596.40" x2="264.85" y2="1608.15" stroke="#000" stroke-width="3.2"/>
<line x1="400.10" y1="1596.40" x2="400.10" y2="1608.15" stroke="#000" stroke-width="3.2"/>
<line x1="535.35" y1="1596.40" x2="535.35" y2="1608.15" stroke="#000" stroke-width="3.2"/>
<line x1="670.60" y1="1596.40" x2="670.60" y2="1608.15" stroke="#000" stroke-width="3.2"/>
<path d="M129.6,1599.9 L132.6,1599.9 L135.6,1599.9 L138.7,1599.9 L141.7,1599.9 L144.7,1599.8 L147.7,1599.8 L150.8,1599.8 L153.8,1599.8 L156.8,1599.7 L159.8,1599.7 L162.8,1599.7 L165.9,1599.6 L168.9,1599.6 L171.9,1599.5 L174.9,1599.5 L178.0,1599.4 L181.0,1599.4 L184.0,1599.3 L187.0,1599.2 L190.0,1599.2 L193.1,1599.1 L196.1,1599.0 L199.1,1598.9 L202.1,1598.8 L205.2,1598.7 L208.2,1598.6 L211.2,1598.4 L214.2,1598.3 L217.2,1598.1 L220.3,1598.0 L223.3,1597.8 L226.3,1597.6 L229.3,1597.3 L232.4,1597.1 L235.4,1596.9 L238.4,1596.6 L241.4,1596.3 L244.4,1595.9 L247.5,1595.6 L250.5,1595.2 L253.5,1594.8 L256.5,1594.3 L259.6,1593.8 L262.6,1593.3 L265.6,1592.7 L268.6,1592.1 L271.7,1591.4 L274.7,1590.7 L277.7,1589.9 L280.7,1589.0 L283.7,1588.1 L286.8,1587.1 L289.8,1586.1 L292.8,1584.9 L295.8,1583.7 L298.9,1582.3 L301.9,1580.9 L304.9,1579.4 L307.9,1577.7 L310.9,1575.9 L314.0,1574.1 L317.0,1572.0 L320.0,1569.9 L323.0,1567.6 L326.1,1565.2 L329.1,1562.6 L332.1,1559.8 L335.1,1556.9 L338.1,1553.9 L341.2,1550.7 L344.2,1547.3 L347.2,1543.7 L350.2,1540.0 L353.3,1536.1 L356.3,1532.1 L359.3,1527.9 L362.3,1523.6 L365.3,1519.1 L368.4,1514.5 L371.4,1509.7 L374.4,1504.9 L377.4,1500.0 L380.5,1495.0 L383.5,1489.9 L386.5,1484.8 L389.5,1479.7 L392.5,1474.6 L395.6,1469.5 L398.6,1464.4 L401.6,1459.3 L404.6,1454.3 L407.7,1449.4 L410.7,1444.6 L413.7,1439.9 L416.7,1435.3 L419.7,1430.8 L422.8,1426.5 L425.8,1422.4 L428.8,1418.3 L431.8,1414.5 L434.9,1410.8 L437.9,1407.3 L440.9,1403.9 L443.9,1400.7 L446.9,1397.7 L450.0,1394.8 L453.0,1392.1 L456.0,1389.5 L459.0,1387.1 L462.1,1384.8 L465.1,1382.7 L468.1,1380.7 L471.1,1378.8 L474.1,1377.1 L477.2,1375.4 L480.2,1373.9 L483.2,1372.5 L486.2,1371.2 L489.3,1370.0 L492.3,1368.8 L495.3,1367.8 L498.3,1366.8 L501.3,1365.9 L504.4,1365.0 L507.4,1364.2 L510.4,1363.5 L513.4,1362.9 L516.5,1362.2 L519.5,1361.7 L522.5,1361.1 L525.5,1360.6 L528.5,1360.2 L531.6,1359.8 L534.6,1359.4 L537.6,1359.0 L540.6,1358.7 L543.7,1358.4 L546.7,1358.1 L549.7,1357.9 L552.7,1357.6 L555.8,1357.4 L558.8,1357.2 L561.8,1357.0 L564.8,1356.9 L567.8,1356.7 L570.9,1356.6 L573.9,1356.4 L576.9,1356.3 L579.9,1356.2 L583.0,1356.1 L586.0,1356.0 L589.0,1355.9 L592.0,1355.8 L595.0,1355.8 L598.1,1355.7 L601.1,1355.6 L604.1,1355.6 L607.1,1355.5 L610.2,1355.5 L613.2,1355.4 L616.2,1355.4 L619.2,1355.4 L622.2,1355.3 L625.3,1355.3 L628.3,1355.3 L631.3,1355.2 L634.3,1355.2 L637.4,1355.2 L640.4,1355.2 L643.4,1355.1 L646.4,1355.1 L649.4,1355.1 L652.5,1355.1 L655.5,1355.1 L658.5,1355.1 L661.5,1355.1 L664.6,1355.0 L667.6,1355.0 L670.6,1355.0" fill="none" stroke="#3b3c9f" stroke-width="3.4" stroke-linejoin="round" stroke-linecap="butt"/>
<path d="M129.6,1582.6 L132.6,1582.6 L135.6,1582.6 L138.7,1582.6 L141.7,1582.6 L144.7,1582.6 L147.7,1582.6 L150.8,1582.6 L153.8,1582.6 L156.8,1582.6 L159.8,1582.6 L162.8,1582.6 L165.9,1582.6 L168.9,1582.6 L171.9,1582.6 L174.9,1582.6 L178.0,1582.6 L181.0,1582.6 L184.0,1582.6 L187.0,1582.6 L190.0,1582.6 L193.1,1582.6 L196.1,1582.6 L199.1,1582.6 L202.1,1582.6 L205.2,1582.6 L208.2,1582.6 L211.2,1582.6 L214.2,1582.6 L217.2,1582.6 L220.3,1582.6 L223.3,1582.6 L226.3,1582.6 L229.3,1582.6 L232.4,1582.6 L235.4,1582.6 L238.4,1582.6 L241.4,1582.6 L244.4,1582.6 L247.5,1582.6 L250.5,1582.6 L253.5,1582.6 L256.5,1582.6 L259.6,1582.6 L262.6,1582.6 L265.6,1582.6 L268.6,1582.6 L271.7,1582.6 L274.7,1582.6 L277.7,1582.6 L280.7,1582.6 L283.7,1582.6 L286.8,1582.6 L289.8,1582.6 L292.8,1582.6 L295.8,1582.6 L298.9,1582.6 L301.9,1582.6 L304.9,1582.6 L307.9,1582.6 L310.9,1582.6 L314.0,1582.6 L317.0,1582.6 L320.0,1582.6 L323.0,1582.6 L326.1,1582.6 L329.1,1582.6 L332.1,1582.6 L335.1,1582.6 L338.1,1582.6 L341.2,1582.6 L344.2,1582.6 L347.2,1582.6 L350.2,1582.6 L353.3,1582.6 L356.3,1582.6 L359.3,1582.6 L362.3,1582.6 L365.3,1582.6 L368.4,1582.6 L371.4,1582.6 L374.4,1582.6 L377.4,1582.6 L380.5,1582.6 L383.5,1582.6 L386.5,1582.6 L389.5,1582.6 L392.5,1582.6 L395.6,1582.6 L398.6,1582.6 L401.6,1582.6 L404.6,1582.5 L407.7,1582.5 L410.7,1582.5 L413.7,1582.5 L416.7,1582.5 L419.7,1582.5 L422.8,1582.4 L425.8,1582.4 L428.8,1582.4 L431.8,1582.4 L434.9,1582.3 L437.9,1582.3 L440.9,1582.2 L443.9,1582.2 L446.9,1582.1 L450.0,1582.1 L453.0,1582.0 L456.0,1581.9 L459.0,1581.8 L462.1,1581.7 L465.1,1581.6 L468.1,1581.5 L471.1,1581.3 L474.1,1581.1 L477.2,1581.0 L480.2,1580.8 L483.2,1580.5 L486.2,1580.2 L489.3,1580.0 L492.3,1579.6 L495.3,1579.2 L498.3,1578.8 L501.3,1578.3 L504.4,1577.8 L507.4,1577.2 L510.4,1576.6 L513.4,1575.8 L516.5,1575.0 L519.5,1574.1 L522.5,1573.0 L525.5,1571.9 L528.5,1570.6 L531.6,1569.2 L534.6,1567.6 L537.6,1565.9 L540.6,1564.0 L543.7,1561.9 L546.7,1559.5 L549.7,1557.0 L552.7,1554.2 L555.8,1551.2 L558.8,1548.0 L561.8,1544.4 L564.8,1540.7 L567.8,1536.6 L570.9,1532.3 L573.9,1527.7 L576.9,1522.9 L579.9,1517.9 L583.0,1512.6 L586.0,1507.2 L589.0,1501.7 L592.0,1496.0 L595.0,1490.3 L598.1,1484.5 L601.1,1478.7 L604.1,1473.0 L607.1,1467.4 L610.2,1461.9 L613.2,1456.5 L616.2,1451.4 L619.2,1446.4 L622.2,1441.7 L625.3,1437.3 L628.3,1433.1 L631.3,1429.1 L634.3,1425.4 L637.4,1422.0 L640.4,1418.9 L643.4,1416.0 L646.4,1413.3 L649.4,1410.9 L652.5,1408.6 L655.5,1406.6 L658.5,1404.8 L661.5,1403.1 L664.6,1401.6 L667.6,1400.2 L670.6,1399.0" fill="none" stroke="#e1261c" stroke-width="3.4" stroke-linejoin="round" stroke-linecap="butt"/>
<g style="mix-blend-mode:multiply">
<path d="M129.6,1555.0 L255.0,1555.0 L268.0,1558.0 L276.0,1565.0 L282.0,1558.0 L286.0,1520.0 L292.0,1440.0 L298.0,1360.0 L302.0,1290.0 L304.0,1254.3 L341.4,1254.3 L343.0,1290.0 L346.0,1325.0 L348.0,1337.0 L351.0,1325.0 L356.0,1313.0 L359.0,1312.0 L363.0,1316.0 L370.0,1327.0 L378.0,1334.0 L386.0,1336.0 L672.0,1336.0 L672.0,1371.0 L400.0,1372.0 L380.0,1376.0 L370.0,1386.0 L360.0,1406.0 L353.0,1412.0 L349.0,1413.0 L346.5,1405.0 L345.5,1450.0 L344.0,1500.0 L342.0,1560.0 L340.0,1618.0 L129.6,1618.0Z" fill="#9cdd7e"/>
</g><g style="mix-blend-mode:multiply">
<path d="M129.6,1561.0 L132.6,1561.0 L135.6,1561.0 L138.7,1561.0 L141.7,1561.0 L144.7,1561.0 L147.7,1561.0 L150.8,1561.0 L153.8,1561.0 L156.8,1561.0 L159.8,1561.0 L162.8,1561.0 L165.9,1561.0 L168.9,1561.0 L171.9,1561.0 L174.9,1561.0 L178.0,1561.0 L181.0,1561.0 L184.0,1561.0 L187.0,1561.0 L190.0,1561.0 L193.1,1561.0 L196.1,1561.0 L199.1,1561.0 L202.1,1561.0 L205.2,1561.0 L208.2,1561.0 L211.2,1561.0 L214.2,1561.0 L217.2,1561.0 L220.3,1561.0 L223.3,1561.0 L226.3,1561.0 L229.3,1561.0 L232.4,1561.0 L235.4,1561.0 L238.4,1561.0 L241.4,1561.0 L244.4,1561.0 L247.5,1561.0 L250.5,1561.0 L253.5,1561.0 L256.5,1561.0 L259.6,1561.0 L262.6,1561.0 L265.6,1561.0 L268.6,1560.9 L271.7,1560.2 L274.7,1559.1 L277.7,1557.6 L280.7,1555.8 L283.7,1554.0 L286.8,1552.2 L289.8,1550.6 L292.8,1549.1 L295.8,1547.6 L298.9,1546.0 L301.9,1544.4 L304.9,1542.6 L307.9,1540.8 L310.9,1538.7 L314.0,1536.5 L317.0,1534.1 L320.0,1531.5 L323.0,1528.6 L326.1,1525.6 L329.1,1522.4 L332.1,1519.1 L335.1,1515.7 L338.1,1512.2 L341.2,1508.6 L344.2,1504.7 L347.2,1500.6 L350.2,1496.2 L353.3,1491.6 L356.3,1486.8 L359.3,1482.0 L362.3,1477.1 L365.3,1472.2 L368.4,1467.4 L371.4,1462.6 L374.4,1458.0 L377.4,1453.6 L380.5,1449.4 L383.5,1445.4 L386.5,1441.5 L389.5,1437.8 L392.5,1434.1 L395.6,1430.4 L398.6,1426.8 L401.6,1423.1 L404.6,1419.4 L407.7,1415.7 L410.7,1411.8 L413.7,1407.7 L416.7,1403.2 L419.7,1398.5 L422.8,1393.7 L425.8,1388.9 L428.8,1384.2 L431.8,1379.7 L434.9,1375.7 L437.9,1372.1 L440.9,1369.2 L443.9,1366.5 L446.9,1364.0 L450.0,1361.6 L453.0,1359.4 L456.0,1357.3 L459.0,1355.4 L462.1,1353.7 L465.1,1352.1 L468.1,1350.8 L471.1,1349.6 L474.1,1348.5 L477.2,1347.6 L480.2,1346.7 L483.2,1345.8 L486.2,1345.1 L489.3,1344.3 L492.3,1343.7 L495.3,1343.0 L498.3,1342.4 L501.3,1341.7 L504.4,1341.1 L507.4,1340.5 L510.4,1339.9 L513.4,1339.3 L516.5,1338.8 L519.5,1338.2 L522.5,1337.7 L525.5,1337.2 L528.5,1336.7 L531.6,1336.2 L534.6,1335.7 L537.6,1335.3 L540.6,1334.9 L543.7,1334.5 L546.7,1334.2 L549.7,1333.8 L552.7,1333.4 L555.8,1333.1 L558.8,1332.7 L561.8,1332.4 L564.8,1332.0 L567.8,1331.7 L570.9,1331.4 L573.9,1331.1 L576.9,1330.8 L579.9,1330.5 L583.0,1330.2 L586.0,1330.0 L589.0,1329.8 L592.0,1329.5 L595.0,1329.3 L598.1,1329.1 L601.1,1328.9 L604.1,1328.8 L607.1,1328.6 L610.2,1328.4 L613.2,1328.2 L616.2,1328.1 L619.2,1327.9 L622.2,1327.7 L625.3,1327.6 L628.3,1327.4 L631.3,1327.3 L634.3,1327.1 L637.4,1327.0 L640.4,1326.9 L643.4,1326.7 L646.4,1326.6 L649.4,1326.5 L652.5,1326.4 L655.5,1326.3 L658.5,1326.2 L661.5,1326.2 L664.6,1326.1 L667.6,1326.1 L670.6,1326.0 L670.6,1378.4 L667.6,1378.4 L664.6,1378.4 L661.5,1378.4 L658.5,1378.4 L655.5,1378.4 L652.5,1378.4 L649.4,1378.4 L646.4,1378.4 L643.4,1378.4 L640.4,1378.4 L637.4,1378.4 L634.3,1378.4 L631.3,1378.4 L628.3,1378.4 L625.3,1378.5 L622.2,1378.5 L619.2,1378.5 L616.2,1378.5 L613.2,1378.5 L610.2,1378.5 L607.1,1378.5 L604.1,1378.5 L601.1,1378.5 L598.1,1378.6 L595.0,1378.6 L592.0,1378.6 L589.0,1378.6 L586.0,1378.6 L583.0,1378.6 L579.9,1378.7 L576.9,1378.7 L573.9,1378.7 L570.9,1378.7 L567.8,1378.7 L564.8,1378.8 L561.8,1378.8 L558.8,1378.8 L555.8,1378.8 L552.7,1378.9 L549.7,1378.9 L546.7,1378.9 L543.7,1379.0 L540.6,1379.0 L537.6,1379.1 L534.6,1379.3 L531.6,1379.6 L528.5,1380.1 L525.5,1380.7 L522.5,1381.3 L519.5,1382.1 L516.5,1382.9 L513.4,1383.8 L510.4,1384.7 L507.4,1385.6 L504.4,1386.6 L501.3,1387.6 L498.3,1388.6 L495.3,1389.7 L492.3,1391.0 L489.3,1392.4 L486.2,1394.0 L483.2,1395.7 L480.2,1397.4 L477.2,1399.3 L474.1,1401.2 L471.1,1403.2 L468.1,1405.3 L465.1,1407.6 L462.1,1410.0 L459.0,1412.7 L456.0,1415.4 L453.0,1418.3 L450.0,1421.4 L446.9,1424.5 L443.9,1427.7 L440.9,1431.0 L437.9,1434.4 L434.9,1438.1 L431.8,1441.9 L428.8,1445.9 L425.8,1450.1 L422.8,1454.4 L419.7,1458.7 L416.7,1463.1 L413.7,1467.5 L410.7,1471.9 L407.7,1476.4 L404.6,1481.1 L401.6,1485.8 L398.6,1490.6 L395.6,1495.4 L392.5,1500.2 L389.5,1505.1 L386.5,1509.9 L383.5,1514.6 L380.5,1519.3 L377.4,1523.9 L374.4,1528.2 L371.4,1532.6 L368.4,1537.0 L365.3,1541.5 L362.3,1546.2 L359.3,1551.2 L356.3,1557.2 L353.3,1563.9 L350.2,1570.8 L347.2,1577.4 L344.2,1583.3 L341.2,1587.7 L338.1,1590.7 L335.1,1593.1 L332.1,1595.1 L329.1,1596.9 L326.1,1598.5 L323.0,1600.0 L320.0,1601.4 L317.0,1602.7 L314.0,1603.9 L310.9,1605.0 L307.9,1606.1 L304.9,1607.1 L301.9,1608.3 L298.9,1609.5 L295.8,1610.9 L292.8,1612.6 L289.8,1614.2 L286.8,1615.7 L283.7,1616.9 L280.7,1617.7 L277.7,1618.0 L274.7,1618.0 L271.7,1618.0 L268.6,1618.0 L265.6,1618.0 L262.6,1618.0 L259.6,1618.0 L256.5,1618.0 L253.5,1618.0 L250.5,1618.0 L247.5,1618.0 L244.4,1618.0 L241.4,1618.0 L238.4,1618.0 L235.4,1618.0 L232.4,1618.0 L229.3,1618.0 L226.3,1618.0 L223.3,1618.0 L220.3,1618.0 L217.2,1618.0 L214.2,1618.0 L211.2,1618.0 L208.2,1618.0 L205.2,1618.0 L202.1,1618.0 L199.1,1618.0 L196.1,1618.0 L193.1,1618.0 L190.0,1618.0 L187.0,1618.0 L184.0,1618.0 L181.0,1618.0 L178.0,1618.0 L174.9,1618.0 L171.9,1618.0 L168.9,1618.0 L165.9,1618.0 L162.8,1618.0 L159.8,1618.0 L156.8,1618.0 L153.8,1618.0 L150.8,1618.0 L147.7,1618.0 L144.7,1618.0 L141.7,1618.0 L138.7,1618.0 L135.6,1618.0 L132.6,1618.0 L129.6,1618.0Z" fill="#e5e0f8"/>
</g><g style="mix-blend-mode:multiply">
<path d="M129.6,1572.4 L132.6,1572.4 L135.6,1572.4 L138.7,1572.4 L141.7,1572.4 L144.7,1572.4 L147.7,1572.4 L150.8,1572.4 L153.8,1572.4 L156.8,1572.4 L159.8,1572.4 L162.8,1572.4 L165.9,1572.4 L168.9,1572.4 L171.9,1572.4 L174.9,1572.4 L178.0,1572.4 L181.0,1572.4 L184.0,1572.4 L187.0,1572.4 L190.0,1572.4 L193.1,1572.4 L196.1,1572.4 L199.1,1572.4 L202.1,1572.4 L205.2,1572.4 L208.2,1572.4 L211.2,1572.4 L214.2,1572.4 L217.2,1572.4 L220.3,1572.4 L223.3,1572.4 L226.3,1572.4 L229.3,1572.4 L232.4,1572.4 L235.4,1572.4 L238.4,1572.3 L241.4,1572.3 L244.4,1572.3 L247.5,1572.3 L250.5,1572.3 L253.5,1572.3 L256.5,1572.3 L259.6,1572.3 L262.6,1572.3 L265.6,1572.3 L268.6,1572.3 L271.7,1572.3 L274.7,1572.3 L277.7,1572.3 L280.7,1572.3 L283.7,1572.3 L286.8,1572.3 L289.8,1572.3 L292.8,1572.3 L295.8,1572.3 L298.9,1572.3 L301.9,1572.3 L304.9,1572.3 L307.9,1572.2 L310.9,1572.2 L314.0,1572.2 L317.0,1572.2 L320.0,1572.2 L323.0,1572.2 L326.1,1572.2 L329.1,1572.2 L332.1,1572.2 L335.1,1572.2 L338.1,1572.2 L341.2,1572.2 L344.2,1572.2 L347.2,1572.2 L350.2,1572.1 L353.3,1572.1 L356.3,1572.1 L359.3,1572.1 L362.3,1572.1 L365.3,1572.1 L368.4,1572.1 L371.4,1572.1 L374.4,1572.1 L377.4,1572.1 L380.5,1572.1 L383.5,1572.1 L386.5,1572.0 L389.5,1572.0 L392.5,1572.0 L395.6,1572.0 L398.6,1572.0 L401.6,1572.0 L404.6,1572.0 L407.7,1572.0 L410.7,1571.9 L413.7,1571.9 L416.7,1571.8 L419.7,1571.8 L422.8,1571.7 L425.8,1571.7 L428.8,1571.6 L431.8,1571.5 L434.9,1571.4 L437.9,1571.3 L440.9,1571.2 L443.9,1571.1 L446.9,1571.0 L450.0,1570.9 L453.0,1570.8 L456.0,1570.7 L459.0,1570.5 L462.1,1570.4 L465.1,1570.3 L468.1,1570.1 L471.1,1569.9 L474.1,1569.7 L477.2,1569.4 L480.2,1569.1 L483.2,1568.7 L486.2,1568.2 L489.3,1567.7 L492.3,1567.2 L495.3,1566.5 L498.3,1565.9 L501.3,1565.2 L504.4,1564.5 L507.4,1563.7 L510.4,1562.9 L513.4,1561.9 L516.5,1560.8 L519.5,1559.5 L522.5,1558.0 L525.5,1556.4 L528.5,1554.6 L531.6,1552.8 L534.6,1550.8 L537.6,1548.7 L540.6,1546.5 L543.7,1544.1 L546.7,1541.5 L549.7,1538.6 L552.7,1535.4 L555.8,1531.9 L558.8,1528.3 L561.8,1524.4 L564.8,1520.3 L567.8,1515.7 L570.9,1510.3 L573.9,1504.4 L576.9,1498.1 L579.9,1491.6 L583.0,1484.9 L586.0,1478.4 L589.0,1472.0 L592.0,1465.9 L595.0,1459.4 L598.1,1452.7 L601.1,1446.0 L604.1,1439.5 L607.1,1433.3 L610.2,1427.6 L613.2,1422.6 L616.2,1418.4 L619.2,1414.6 L622.2,1411.1 L625.3,1407.7 L628.3,1404.7 L631.3,1401.8 L634.3,1399.2 L637.4,1396.9 L640.4,1394.7 L643.4,1392.7 L646.4,1390.8 L649.4,1388.9 L652.5,1387.1 L655.5,1385.4 L658.5,1383.9 L661.5,1382.5 L664.6,1381.3 L667.6,1380.2 L670.6,1379.3 L670.6,1423.3 L667.6,1424.2 L664.6,1425.5 L661.5,1427.1 L658.5,1428.9 L655.5,1431.0 L652.5,1433.1 L649.4,1435.4 L646.4,1438.2 L643.4,1441.4 L640.4,1445.1 L637.4,1449.2 L634.3,1453.5 L631.3,1458.0 L628.3,1462.7 L625.3,1468.0 L622.2,1473.8 L619.2,1479.9 L616.2,1486.3 L613.2,1492.8 L610.2,1499.3 L607.1,1505.7 L604.1,1511.8 L601.1,1518.2 L598.1,1524.8 L595.0,1531.5 L592.0,1538.1 L589.0,1544.5 L586.0,1550.4 L583.0,1555.6 L579.9,1560.1 L576.9,1564.1 L573.9,1567.9 L570.9,1571.6 L567.8,1575.0 L564.8,1578.1 L561.8,1580.7 L558.8,1583.0 L555.8,1584.7 L552.7,1585.9 L549.7,1587.1 L546.7,1588.2 L543.7,1589.2 L540.6,1590.1 L537.6,1590.9 L534.6,1591.6 L531.6,1592.3 L528.5,1592.8 L525.5,1593.3 L522.5,1593.7 L519.5,1594.1 L516.5,1594.4 L513.4,1594.6 L510.4,1594.9 L507.4,1595.2 L504.4,1595.4 L501.3,1595.7 L498.3,1595.9 L495.3,1596.1 L492.3,1596.3 L489.3,1596.5 L486.2,1596.6 L483.2,1596.7 L480.2,1596.8 L477.2,1596.9 L474.1,1597.0 L471.1,1597.0 L468.1,1597.0 L465.1,1597.0 L462.1,1597.0 L459.0,1597.0 L456.0,1597.0 L453.0,1597.0 L450.0,1597.0 L446.9,1597.0 L443.9,1597.0 L440.9,1597.0 L437.9,1597.0 L434.9,1597.0 L431.8,1597.0 L428.8,1597.0 L425.8,1597.0 L422.8,1597.0 L419.7,1597.0 L416.7,1597.0 L413.7,1597.0 L410.7,1597.0 L407.7,1597.0 L404.6,1597.0 L401.6,1597.0 L398.6,1597.0 L395.6,1597.0 L392.5,1597.0 L389.5,1597.0 L386.5,1597.0 L383.5,1597.0 L380.5,1597.0 L377.4,1597.0 L374.4,1597.0 L371.4,1597.0 L368.4,1597.0 L365.3,1597.0 L362.3,1597.0 L359.3,1597.0 L356.3,1597.0 L353.3,1597.0 L350.2,1597.0 L347.2,1597.0 L344.2,1597.0 L341.2,1597.0 L338.1,1597.0 L335.1,1597.0 L332.1,1597.0 L329.1,1597.0 L326.1,1597.0 L323.0,1597.0 L320.0,1597.0 L317.0,1597.0 L314.0,1597.0 L310.9,1597.0 L307.9,1597.0 L304.9,1597.0 L301.9,1597.0 L298.9,1597.0 L295.8,1597.0 L292.8,1597.0 L289.8,1597.0 L286.8,1597.0 L283.7,1597.0 L280.7,1597.0 L277.7,1597.0 L274.7,1597.0 L271.7,1597.0 L268.6,1597.0 L265.6,1597.0 L262.6,1597.0 L259.6,1597.0 L256.5,1597.0 L253.5,1597.0 L250.5,1597.0 L247.5,1597.0 L244.4,1597.0 L241.4,1597.0 L238.4,1597.0 L235.4,1597.0 L232.4,1597.0 L229.3,1597.0 L226.3,1597.0 L223.3,1597.0 L220.3,1597.0 L217.2,1597.0 L214.2,1597.0 L211.2,1597.0 L208.2,1597.0 L205.2,1597.0 L202.1,1597.0 L199.1,1597.0 L196.1,1597.0 L193.1,1597.0 L190.0,1597.0 L187.0,1597.0 L184.0,1597.0 L181.0,1597.0 L178.0,1597.0 L174.9,1597.0 L171.9,1597.0 L168.9,1597.0 L165.9,1597.0 L162.8,1597.0 L159.8,1597.0 L156.8,1597.0 L153.8,1597.0 L150.8,1597.0 L147.7,1597.0 L144.7,1597.0 L141.7,1597.0 L138.7,1597.0 L135.6,1597.0 L132.6,1597.0 L129.6,1597.0Z" fill="#fcdddd"/>
</g>
<path d="M129.6,1594.2 L132.6,1594.2 L135.6,1594.2 L138.7,1594.2 L141.7,1594.2 L144.7,1594.2 L147.7,1594.2 L150.8,1594.2 L153.8,1594.2 L156.8,1594.2 L159.8,1594.2 L162.8,1594.2 L165.9,1594.2 L168.9,1594.2 L171.9,1594.2 L174.9,1594.2 L178.0,1594.2 L181.0,1594.2 L184.0,1594.2 L187.0,1594.2 L190.0,1594.2 L193.1,1594.2 L196.1,1594.2 L199.1,1594.2 L202.1,1594.2 L205.2,1594.2 L208.2,1594.2 L211.2,1594.2 L214.2,1594.2 L217.2,1594.2 L220.3,1594.2 L223.3,1594.2 L226.3,1594.2 L229.3,1594.2 L232.4,1594.2 L235.4,1594.2 L238.4,1594.2 L241.4,1594.2 L244.4,1594.2 L247.5,1594.2 L250.5,1594.2 L253.5,1594.2 L256.5,1594.2 L259.6,1594.2 L262.6,1594.2 L265.6,1594.2 L268.6,1594.2 L271.7,1594.1 L274.7,1594.0 L277.7,1593.9 L280.7,1593.7 L283.7,1593.5 L286.8,1593.1 L289.8,1592.5 L292.8,1591.6 L295.8,1590.3 L298.9,1588.3 L301.9,1585.3 L304.9,1580.9 L307.9,1574.6 L310.9,1565.6 L314.0,1553.3 L317.0,1537.2 L320.0,1517.2 L323.0,1494.0 L326.1,1469.3 L329.1,1445.0 L332.1,1423.1 L335.1,1404.7 L338.1,1390.3 L341.2,1379.5 L344.2,1371.8 L347.2,1366.4 L350.2,1362.6 L353.3,1360.1 L356.3,1358.4 L359.3,1357.3 L362.3,1356.6 L365.3,1356.1 L368.4,1355.7 L371.4,1355.5 L374.4,1355.4 L377.4,1355.3 L380.5,1355.2 L383.5,1355.2 L386.5,1355.1 L389.5,1355.1 L392.5,1355.1 L395.6,1355.1 L398.6,1355.1 L401.6,1355.1 L404.6,1355.1 L407.7,1355.1 L410.7,1355.1 L413.7,1355.1 L416.7,1355.1 L419.7,1355.1 L422.8,1355.1 L425.8,1355.1 L428.8,1355.1 L431.8,1355.1 L434.9,1355.1 L437.9,1355.1 L440.9,1355.1 L443.9,1355.1 L446.9,1355.1 L450.0,1355.1 L453.0,1355.1 L456.0,1355.1 L459.0,1355.1 L462.1,1355.1 L465.1,1355.1 L468.1,1355.1 L471.1,1355.1 L474.1,1355.1 L477.2,1355.1 L480.2,1355.1 L483.2,1355.1 L486.2,1355.1 L489.3,1355.1 L492.3,1355.1 L495.3,1355.1 L498.3,1355.1 L501.3,1355.1 L504.4,1355.1 L507.4,1355.1 L510.4,1355.1 L513.4,1355.1 L516.5,1355.1 L519.5,1355.1 L522.5,1355.1 L525.5,1355.1 L528.5,1355.1 L531.6,1355.1 L534.6,1355.1 L537.6,1355.1 L540.6,1355.1 L543.7,1355.1 L546.7,1355.1 L549.7,1355.1 L552.7,1355.1 L555.8,1355.1 L558.8,1355.1 L561.8,1355.1 L564.8,1355.1 L567.8,1355.1 L570.9,1355.1 L573.9,1355.1 L576.9,1355.1 L579.9,1355.1 L583.0,1355.1 L586.0,1355.1 L589.0,1355.1 L592.0,1355.1 L595.0,1355.1 L598.1,1355.1 L601.1,1355.1 L604.1,1355.1 L607.1,1355.1 L610.2,1355.1 L613.2,1355.1 L616.2,1355.1 L619.2,1355.1 L622.2,1355.1 L625.3,1355.1 L628.3,1355.1 L631.3,1355.1 L634.3,1355.1 L637.4,1355.1 L640.4,1355.1 L643.4,1355.1 L646.4,1355.1 L649.4,1355.1 L652.5,1355.1 L655.5,1355.1 L658.5,1355.1 L661.5,1355.1 L664.6,1355.1 L667.6,1355.1 L670.6,1355.1" fill="none" stroke="#0a9238" stroke-width="3.4" stroke-linejoin="round" stroke-linecap="butt"/>
<text x="117.00" y="1262.70" font-size="21.5" text-anchor="end">80</text>
<text x="117.00" y="1348.60" font-size="21.5" text-anchor="end">60</text>
<text x="117.00" y="1434.00" font-size="21.5" text-anchor="end">40</text>
<text x="117.00" y="1519.40" font-size="21.5" text-anchor="end">20</text>
<text x="117.00" y="1604.80" font-size="21.5" text-anchor="end">0</text>
<text x="248.05" y="1627.40" font-size="21.5">10<tspan dy="-6.6" font-size="12">1</tspan></text>
<text x="383.30" y="1627.40" font-size="21.5">10<tspan dy="-6.6" font-size="12">2</tspan></text>
<text x="518.55" y="1627.40" font-size="21.5">10<tspan dy="-6.6" font-size="12">3</tspan></text>
<text x="653.80" y="1627.40" font-size="21.5">10<tspan dy="-6.6" font-size="12">4</tspan></text>
<text x="386.60" y="1661.00" font-size="22">[RSL3] nM</text>
<text transform="translate(34.6,1416) rotate(-90) scale(0.848,1)" font-size="24.4" word-spacing="3" text-anchor="middle">Fraction of SG+ objects per</text>
<text transform="translate(65,1416.5) rotate(-90) scale(0.88,1)" font-size="24.6" text-anchor="middle">mm<tspan dy="-8" font-size="13.5">2</tspan><tspan dy="8">  (AUC)</tspan></text>
<text x="154.50" y="1161.00" font-size="21">FSP1<tspan dy="-8" font-size="13.5">KO</tspan></text>
<circle cx="154.60" cy="1182.00" r="7" fill="#14a048"/>
<text x="175.50" y="1187.60" font-size="22">empty vector</text>
<circle cx="154.60" cy="1208.00" r="7" fill="#e1261c"/>
<text x="175.50" y="1213.60" font-size="22">FSP1(WT)-GFP</text>
<circle cx="154.60" cy="1235.00" r="7" fill="#2e3f9e"/>
<text x="175.50" y="1240.60" font-size="22">NQO1-GFP</text>
<circle cx="347.95" cy="1376.00" r="5.4" fill="#0f8a3e"/>
<circle cx="412.48" cy="1367.40" r="5.4" fill="#0f8a3e"/>
<circle cx="477.01" cy="1365.40" r="5.4" fill="#0f8a3e"/>
<circle cx="541.54" cy="1349.00" r="5.4" fill="#0f8a3e"/>
<circle cx="606.07" cy="1333.00" r="5.4" fill="#0f8a3e"/>
<circle cx="670.60" cy="1350.60" r="5.4" fill="#0f8a3e"/>
<circle cx="347.95" cy="1541.30" r="5.4" fill="#3b3c9f"/>
<circle cx="412.48" cy="1429.20" r="5.4" fill="#3b3c9f"/>
<circle cx="477.01" cy="1390.00" r="5.4" fill="#3b3c9f"/>
<circle cx="541.54" cy="1361.60" r="5.4" fill="#3b3c9f"/>
<circle cx="606.07" cy="1331.00" r="5.4" fill="#3b3c9f"/>
<circle cx="670.60" cy="1359.60" r="5.4" fill="#3b3c9f"/>
<circle cx="129.60" cy="1592.00" r="5.4" fill="#e1261c"/>
<circle cx="283.42" cy="1590.40" r="5.4" fill="#e1261c"/>
<circle cx="347.95" cy="1587.00" r="5.4" fill="#e1261c"/>
<circle cx="412.48" cy="1575.60" r="5.4" fill="#e1261c"/>
<circle cx="477.01" cy="1570.00" r="5.4" fill="#e1261c"/>
<circle cx="541.54" cy="1564.00" r="5.4" fill="#e1261c"/>
<circle cx="606.07" cy="1465.00" r="5.4" fill="#e1261c"/>
<circle cx="670.60" cy="1398.00" r="5.4" fill="#e1261c"/>
<g clip-path="url(#c12)">
<g transform="translate(774,1271)">
<rect x="-1" y="-1" width="191.2" height="191.2" fill="#1b1b1b"/>
<path d="M-1,-1 L90.4,-1 C92,6 88,10 86,15 L83.6,22.6 C72,27 52,34.5 45.2,37.3 C30,41.5 12,46 9,48.6 C3,54 3,62 6.8,73.4 L18,89.3 L-1,117.5 Z" fill="#202020" opacity="0.9" filter="url(#m2)"/>
<path d="M90.4,-1 L191,-1 L191,53 C184,53 181,52 180.8,52 C178,46 170,42.5 158,38.4 C146,34 128,32 113,30.5 C104,28.5 94,25 83.6,22.6 C85,18 92,8 90.4,-1 Z" fill="#0f0f0f" filter="url(#m2)"/>
<path d="M191,60 L183,72.3 C174,83.5 158,102 152.5,108.5 C141,121 126,139.5 122,145.8 C116,154 109,167 107.3,171.8 L105,190 L191,190 Z" fill="#060606" filter="url(#m2)"/>
<path d="M-1,117.5 L18,89.3 C28.5,96.5 46,106.5 50.8,110.7 C60,119.5 68.8,135 70,141.2 C71,151 73.5,160 79,163.8 C82.5,169 85.5,183 86,190 L-1,190 Z" fill="#2b2b2b" opacity="0.95" filter="url(#m2)"/>
<path d="M90.4,0 C92,6 88,10 86,15 C85,19 84,21 83.6,22.6 C78,25 72,27 67.8,28.2 C60,31 52,34.5 45.2,37.3 C37,40 30,41.5 22.6,43 C17,44.5 12,46 9,48.6 C5,51 3.2,55 3.4,58.8 C3.6,64 5,69 6.8,73.4 C8.5,77 10.5,80.5 12.4,83.6 C14,86 16,88 18,89.3" fill="none" stroke="#8c8c8c" stroke-width="1.3" stroke-linecap="round" stroke-linejoin="round" opacity="0.75" filter="url(#m1)"/>
<path d="M83.6,22.6 C94,25 104,28.5 113,30.5 C121,32 128,32 135.6,32.8 C143,33.6 151,35.5 158,38.4 C164,41 170,42.5 175,45.2 C178,47 180,49.5 180.8,52 C184,53 187,53 190,53" fill="none" stroke="#7a7a7a" stroke-width="1.3" stroke-linecap="round" stroke-linejoin="round" opacity="0.7" filter="url(#m1)"/>
<path d="M18,89.3 C13,97 6.5,107 0,117.5" fill="none" stroke="#dcdcdc" stroke-width="1.7" stroke-linecap="round" stroke-linejoin="round" opacity="0.95" filter="url(#m1)"/>
<path d="M18,89.3 C23,93 28.5,96.5 33.9,99.4 C40,103 46,106.5 50.8,110.7 C56,115 60,119.5 63.3,124.3 C66.5,129.5 68.8,135 70,141.2 C71,146 71,151 72.3,156 C73.5,160 76,162 79,163.8 C81,166 82.5,169 83.6,171.8 C84.5,176 85.5,183 86,189" fill="none" stroke="#c8c8c8" stroke-width="1.6" stroke-linecap="round" stroke-linejoin="round" opacity="0.9" filter="url(#m1)"/>
<path d="M183,72.3 C178.5,78 174,83.5 169.5,89.3 C164,95.5 158,102 152.5,108.5 C147,114.5 141,121 135.6,127.7 C131,133.5 126,139.5 122,145.8 C119,150 116,154 113,158.2 C111,162.5 109,167 107.3,171.8 C106.5,177 105.6,183 105,189" fill="none" stroke="#8a8a8a" stroke-width="1.6" stroke-linecap="round" stroke-linejoin="round" opacity="0.7" filter="url(#m1)" stroke-dasharray="2.5 2.5"/>
<rect x="0" y="0" width="189.2" height="189.2" filter="url(#nzf)" opacity="0.045"/>
<g fill="#e0e0e0" opacity="0.8" filter="url(#m1)"><circle cx="82.6" cy="140.8" r="1.3"/><circle cx="54.8" cy="135.8" r="1.1"/><circle cx="99.4" cy="53.8" r="0.6"/><circle cx="66.1" cy="133.3" r="0.8"/><circle cx="80.2" cy="79.7" r="1.2"/><circle cx="133.4" cy="90.2" r="1.3"/><circle cx="27.5" cy="141.6" r="1.2"/><circle cx="38.1" cy="128.2" r="1.0"/><circle cx="134.6" cy="66.3" r="1.0"/><circle cx="125.9" cy="119.8" r="0.8"/><circle cx="29.8" cy="157.5" r="0.9"/><circle cx="139.6" cy="57.7" r="1.2"/><circle cx="64.7" cy="46.5" r="1.1"/><circle cx="62.6" cy="159.9" r="0.9"/><circle cx="112.9" cy="148.5" r="0.8"/><circle cx="86.8" cy="159.7" r="1.0"/><circle cx="63.2" cy="73.4" r="1.2"/><circle cx="43.1" cy="115.5" r="1.0"/><circle cx="86.4" cy="56.2" r="1.1"/><circle cx="130.0" cy="79.9" r="0.8"/><circle cx="129.1" cy="112.3" r="0.8"/><circle cx="21.2" cy="134.2" r="0.8"/><circle cx="76.1" cy="74.1" r="1.0"/><circle cx="107.5" cy="78.7" r="0.7"/><circle cx="87.7" cy="125.7" r="0.9"/><circle cx="107.8" cy="160.0" r="1.0"/><circle cx="67.0" cy="64.5" r="0.8"/><circle cx="38.1" cy="53.8" r="0.7"/><circle cx="71.0" cy="169.9" r="1.1"/><circle cx="77.5" cy="180.0" r="0.6"/><circle cx="77.9" cy="153.4" r="1.1"/><circle cx="70.8" cy="174.3" r="0.8"/><circle cx="8.2" cy="153.2" r="1.0"/><circle cx="21.8" cy="169.7" r="0.8"/><circle cx="15.4" cy="160.9" r="1.0"/><circle cx="41.9" cy="164.5" r="0.9"/><circle cx="47.4" cy="169.1" r="0.9"/><circle cx="81.3" cy="177.8" r="0.7"/><circle cx="149.5" cy="31.5" r="1.5"/><circle cx="83.0" cy="70.0" r="1.3"/><circle cx="110.0" cy="75.5" r="1.4"/><circle cx="95.0" cy="87.0" r="1.4"/><circle cx="86.0" cy="100.0" r="1.7"/><circle cx="118.0" cy="121.5" r="1.8"/><circle cx="34.0" cy="65.0" r="1.2"/><circle cx="44.0" cy="44.0" r="1.2"/></g>
</g>
</g>
<text x="960.20" y="1455.80" font-size="20.8" text-anchor="end" fill="#fff" stroke="#fff" stroke-width="0.45">LYN11-NQO1-GFP</text>
<g clip-path="url(#c13)">
<g transform="translate(974.6,1271)">
<rect x="-1" y="-1" width="191.2" height="191.2" fill="#191919"/>
<path d="M-1,-1 L90.4,-1 C92,6 88,10 86,15 L83.6,22.6 C72,27 52,34.5 45.2,37.3 C30,41.5 12,46 9,48.6 C3,54 3,62 6.8,73.4 L18,89.3 L-1,117.5 Z" fill="#1c1c1c" opacity="0.9" filter="url(#m2)"/>
<path d="M90.4,-1 L191,-1 L191,53 C184,53 181,52 180.8,52 C178,46 170,42.5 158,38.4 C146,34 128,32 113,30.5 C104,28.5 94,25 83.6,22.6 C85,18 92,8 90.4,-1 Z" fill="#0f0f0f" filter="url(#m2)"/>
<path d="M191,60 L183,72.3 C174,83.5 158,102 152.5,108.5 C141,121 126,139.5 122,145.8 C116,154 109,167 107.3,171.8 L105,190 L191,190 Z" fill="#060606" filter="url(#m2)"/>
<path d="M-1,117.5 L18,89.3 C28.5,96.5 46,106.5 50.8,110.7 C60,119.5 68.8,135 70,141.2 C71,151 73.5,160 79,163.8 C82.5,169 85.5,183 86,190 L-1,190 Z" fill="#262626" opacity="0.95" filter="url(#m2)"/>
<path d="M90.4,0 C92,6 88,10 86,15 C85,19 84,21 83.6,22.6 C78,25 72,27 67.8,28.2 C60,31 52,34.5 45.2,37.3 C37,40 30,41.5 22.6,43 C17,44.5 12,46 9,48.6 C5,51 3.2,55 3.4,58.8 C3.6,64 5,69 6.8,73.4 C8.5,77 10.5,80.5 12.4,83.6 C14,86 16,88 18,89.3" fill="none" stroke="#8c8c8c" stroke-width="1.3" stroke-linecap="round" stroke-linejoin="round" opacity="0.75" filter="url(#m1)"/>
<path d="M83.6,22.6 C94,25 104,28.5 113,30.5 C121,32 128,32 135.6,32.8 C143,33.6 151,35.5 158,38.4 C164,41 170,42.5 175,45.2 C178,47 180,49.5 180.8,52 C184,53 187,53 190,53" fill="none" stroke="#b4b4b4" stroke-width="1.3" stroke-linecap="round" stroke-linejoin="round" opacity="0.7" filter="url(#m1)"/>
<path d="M18,89.3 C13,97 6.5,107 0,117.5" fill="none" stroke="#dcdcdc" stroke-width="1.7" stroke-linecap="round" stroke-linejoin="round" opacity="0.95" filter="url(#m1)"/>
<path d="M18,89.3 C23,93 28.5,96.5 33.9,99.4 C40,103 46,106.5 50.8,110.7 C56,115 60,119.5 63.3,124.3 C66.5,129.5 68.8,135 70,141.2 C71,146 71,151 72.3,156 C73.5,160 76,162 79,163.8 C81,166 82.5,169 83.6,171.8 C84.5,176 85.5,183 86,189" fill="none" stroke="#c8c8c8" stroke-width="1.6" stroke-linecap="round" stroke-linejoin="round" opacity="0.9" filter="url(#m1)"/>
<path d="M183,72.3 C178.5,78 174,83.5 169.5,89.3 C164,95.5 158,102 152.5,108.5 C147,114.5 141,121 135.6,127.7 C131,133.5 126,139.5 122,145.8 C119,150 116,154 113,158.2 C111,162.5 109,167 107.3,171.8 C106.5,177 105.6,183 105,189" fill="none" stroke="#3a3a3a" stroke-width="1.6" stroke-linecap="round" stroke-linejoin="round" opacity="0.7" filter="url(#m1)" stroke-dasharray="2.5 2.5"/>
<rect x="0" y="0" width="189.2" height="189.2" filter="url(#nzf)" opacity="0.045"/>
<g fill="#e0e0e0" opacity="0.8" filter="url(#m1)"><circle cx="21.5" cy="54.0" r="0.9"/><circle cx="102.1" cy="57.3" r="0.7"/><circle cx="47.8" cy="134.7" r="0.7"/><circle cx="108.9" cy="122.8" r="0.7"/><circle cx="84.3" cy="96.0" r="0.9"/><circle cx="139.6" cy="51.6" r="0.6"/><circle cx="132.8" cy="90.4" r="0.7"/><circle cx="59.6" cy="85.6" r="1.3"/><circle cx="45.2" cy="67.1" r="1.0"/><circle cx="85.7" cy="159.2" r="1.2"/><circle cx="62.7" cy="65.5" r="1.2"/><circle cx="138.7" cy="43.8" r="1.1"/><circle cx="73.2" cy="174.1" r="0.7"/><circle cx="67.3" cy="177.0" r="0.7"/><circle cx="73.2" cy="174.1" r="0.7"/><circle cx="67.3" cy="177.0" r="0.7"/><circle cx="54.6" cy="158.1" r="0.6"/><circle cx="29.6" cy="162.4" r="0.8"/><circle cx="55.0" cy="180.9" r="1.2"/><circle cx="82.1" cy="186.8" r="1.1"/><circle cx="27.1" cy="156.5" r="1.0"/><circle cx="46.8" cy="175.0" r="0.7"/><circle cx="17.8" cy="184.1" r="1.0"/><circle cx="59.0" cy="153.5" r="0.8"/><circle cx="149.5" cy="31.5" r="1.5"/><circle cx="83.0" cy="70.0" r="1.3"/><circle cx="110.0" cy="75.5" r="1.4"/><circle cx="95.0" cy="87.0" r="1.4"/><circle cx="86.0" cy="100.0" r="1.7"/><circle cx="118.0" cy="121.5" r="1.8"/><circle cx="34.0" cy="65.0" r="1.2"/><circle cx="44.0" cy="44.0" r="1.2"/></g>
<g fill="#aaa" opacity="0.8" filter="url(#m2)"><circle cx="112.0" cy="138.0" r="3.4"/></g>
<g fill="#fff" opacity="0.95" filter="url(#m1)"><circle cx="112.0" cy="138.0" r="1.4"/><circle cx="179.0" cy="38.0" r="1.3"/></g>
</g>
</g>
<text x="1160.60" y="1455.80" font-size="21" text-anchor="end" fill="#fff" stroke="#fff" stroke-width="0.45">Cell Mask</text>
<g clip-path="url(#c14)">
<g transform="translate(1175.4,1271.2)">
<rect x="-1" y="-1" width="191.2" height="191.2" fill="#190f09"/>
<path d="M-1,-1 L90.4,-1 C92,6 88,10 86,15 L83.6,22.6 C72,27 52,34.5 45.2,37.3 C30,41.5 12,46 9,48.6 C3,54 3,62 6.8,73.4 L18,89.3 L-1,117.5 Z" fill="#180e08" opacity="0.9" filter="url(#m2)"/>
<path d="M90.4,-1 L191,-1 L191,53 C184,53 181,52 180.8,52 C178,46 170,42.5 158,38.4 C146,34 128,32 113,30.5 C104,28.5 94,25 83.6,22.6 C85,18 92,8 90.4,-1 Z" fill="#0d0705" filter="url(#m2)"/>
<path d="M191,60 L183,72.3 C174,83.5 158,102 152.5,108.5 C141,121 126,139.5 122,145.8 C116,154 109,167 107.3,171.8 L105,190 L191,190 Z" fill="#050403" filter="url(#m2)"/>
<path d="M-1,117.5 L18,89.3 C28.5,96.5 46,106.5 50.8,110.7 C60,119.5 68.8,135 70,141.2 C71,151 73.5,160 79,163.8 C82.5,169 85.5,183 86,190 L-1,190 Z" fill="#1f210d" opacity="0.95" filter="url(#m2)"/>
<path d="M90.4,0 C92,6 88,10 86,15 C85,19 84,21 83.6,22.6 C78,25 72,27 67.8,28.2 C60,31 52,34.5 45.2,37.3 C37,40 30,41.5 22.6,43 C17,44.5 12,46 9,48.6 C5,51 3.2,55 3.4,58.8 C3.6,64 5,69 6.8,73.4 C8.5,77 10.5,80.5 12.4,83.6 C14,86 16,88 18,89.3" fill="none" stroke="#5a7a22" stroke-width="1.4" stroke-linecap="round" stroke-linejoin="round" opacity="0.7" filter="url(#m1)"/>
<path d="M83.6,22.6 C94,25 104,28.5 113,30.5 C121,32 128,32 135.6,32.8 C143,33.6 151,35.5 158,38.4 C164,41 170,42.5 175,45.2 C178,47 180,49.5 180.8,52 C184,53 187,53 190,53" fill="none" stroke="#c02a22" stroke-width="1.5" stroke-linecap="round" stroke-linejoin="round" opacity="0.85" filter="url(#m1)"/>
<path d="M3.4,58.8 C3.6,64 5,69 6.8,73.4 C8.5,77 10.5,80.5 12.4,83.6 C14,86 16,88 18,89.3" fill="none" stroke="#8ec428" stroke-width="1.6" stroke-linecap="round" stroke-linejoin="round" opacity="0.9" filter="url(#m1)"/>
<path d="M18,89.3 C13,97 6.5,107 0,117.5" fill="none" stroke="#98c82a" stroke-width="1.8" stroke-linecap="round" stroke-linejoin="round" opacity="0.95" filter="url(#m1)"/>
<path d="M18,89.3 C23,93 28.5,96.5 33.9,99.4 C40,103 46,106.5 50.8,110.7 C56,115 60,119.5 63.3,124.3 C66.5,129.5 68.8,135 70,141.2 C71,146 71,151 72.3,156 C73.5,160 76,162 79,163.8 C81,166 82.5,169 83.6,171.8 C84.5,176 85.5,183 86,189" fill="none" stroke="#b4b428" stroke-width="1.9" stroke-linecap="round" stroke-linejoin="round" opacity="0.95" filter="url(#m1)"/>
<path d="M183,72.3 C178.5,78 174,83.5 169.5,89.3 C164,95.5 158,102 152.5,108.5 C147,114.5 141,121 135.6,127.7 C131,133.5 126,139.5 122,145.8 C119,150 116,154 113,158.2 C111,162.5 109,167 107.3,171.8 C106.5,177 105.6,183 105,189" fill="none" stroke="#6c9a2a" stroke-width="1.6" stroke-linecap="round" stroke-linejoin="round" opacity="0.7" filter="url(#m1)" stroke-dasharray="2.5 2.5"/>
<g fill="#3cc83c" opacity="0.85" filter="url(#m1)"><circle cx="82.6" cy="140.8" r="1.3"/><circle cx="54.8" cy="135.8" r="1.1"/><circle cx="99.4" cy="53.8" r="0.6"/><circle cx="66.1" cy="133.3" r="0.8"/><circle cx="80.2" cy="79.7" r="1.2"/><circle cx="133.4" cy="90.2" r="1.3"/><circle cx="27.5" cy="141.6" r="1.2"/><circle cx="38.1" cy="128.2" r="1.0"/><circle cx="134.6" cy="66.3" r="1.0"/><circle cx="125.9" cy="119.8" r="0.8"/><circle cx="29.8" cy="157.5" r="0.9"/><circle cx="139.6" cy="57.7" r="1.2"/><circle cx="64.7" cy="46.5" r="1.1"/><circle cx="62.6" cy="159.9" r="0.9"/><circle cx="112.9" cy="148.5" r="0.8"/><circle cx="86.8" cy="159.7" r="1.0"/><circle cx="63.2" cy="73.4" r="1.2"/><circle cx="43.1" cy="115.5" r="1.0"/><circle cx="86.4" cy="56.2" r="1.1"/><circle cx="130.0" cy="79.9" r="0.8"/><circle cx="129.1" cy="112.3" r="0.8"/><circle cx="21.2" cy="134.2" r="0.8"/><circle cx="76.1" cy="74.1" r="1.0"/><circle cx="107.5" cy="78.7" r="0.7"/><circle cx="87.7" cy="125.7" r="0.9"/><circle cx="107.8" cy="160.0" r="1.0"/><circle cx="67.0" cy="64.5" r="0.8"/><circle cx="38.1" cy="53.8" r="0.7"/><circle cx="121.0" cy="107.1" r="1.2"/><circle cx="131.1" cy="51.6" r="1.1"/><circle cx="120.7" cy="122.2" r="0.9"/><circle cx="8.2" cy="153.2" r="1.0"/><circle cx="21.8" cy="169.7" r="0.8"/><circle cx="15.4" cy="160.9" r="1.0"/><circle cx="41.9" cy="164.5" r="0.9"/><circle cx="47.4" cy="169.1" r="0.9"/><circle cx="81.3" cy="177.8" r="0.7"/><circle cx="28.1" cy="157.0" r="0.8"/><circle cx="4.3" cy="177.5" r="0.9"/><circle cx="36.7" cy="183.1" r="0.8"/><circle cx="49.4" cy="184.4" r="0.9"/><circle cx="149.5" cy="31.5" r="1.5"/><circle cx="83.0" cy="70.0" r="1.3"/><circle cx="110.0" cy="75.5" r="1.4"/><circle cx="95.0" cy="87.0" r="1.4"/><circle cx="86.0" cy="100.0" r="1.7"/><circle cx="118.0" cy="121.5" r="1.8"/><circle cx="34.0" cy="65.0" r="1.2"/><circle cx="44.0" cy="44.0" r="1.2"/></g>
<g fill="#d8281e" opacity="0.9" filter="url(#m2)"><circle cx="112.0" cy="138.0" r="2.6"/></g>
<g fill="#ff3a30" opacity="0.95" filter="url(#m1)"><circle cx="112.0" cy="138.0" r="1.2"/><circle cx="179.0" cy="38.0" r="1.5"/><circle cx="117.0" cy="98.0" r="1.0"/></g>
<g fill="#e0d030" opacity="0.9" filter="url(#m1)"><circle cx="34.0" cy="181.0" r="1.5"/><circle cx="118.0" cy="121.5" r="1.5"/></g>
</g>
</g>
<line x1="1320.70" y1="1450.50" x2="1360.00" y2="1450.50" stroke="#fff" stroke-width="2.8"/>
<text x="1270.00" y="1241.00" font-size="22" text-anchor="middle" fill="#0d9f4b">LYN11-NQO1-GFP</text>
<text x="1270.00" y="1265.00" font-size="22" text-anchor="middle" fill="#d93a2b">Cell Mask</text>
<g style="mix-blend-mode:multiply">
<path d="M1551.6,1568.0 L1554.6,1568.0 L1557.7,1568.0 L1560.7,1568.0 L1563.7,1568.0 L1566.8,1568.0 L1569.8,1568.0 L1572.8,1568.0 L1575.9,1568.0 L1578.9,1568.0 L1581.9,1568.0 L1585.0,1568.0 L1588.0,1568.0 L1591.0,1568.0 L1594.1,1568.0 L1597.1,1568.0 L1600.1,1568.0 L1603.2,1568.0 L1606.2,1568.0 L1609.2,1568.0 L1612.3,1568.0 L1615.3,1568.0 L1618.3,1568.0 L1621.4,1568.0 L1624.4,1568.0 L1627.4,1568.0 L1630.5,1568.0 L1633.5,1568.0 L1636.5,1568.0 L1639.6,1568.0 L1642.6,1568.0 L1645.6,1568.0 L1648.7,1568.0 L1651.7,1568.0 L1654.7,1568.0 L1657.8,1568.0 L1660.8,1568.0 L1663.8,1568.0 L1666.9,1568.0 L1669.9,1568.0 L1672.9,1568.0 L1676.0,1568.0 L1679.0,1568.0 L1682.0,1568.0 L1685.1,1567.9 L1688.1,1567.7 L1691.1,1567.4 L1694.2,1567.0 L1697.2,1566.6 L1700.2,1566.1 L1703.3,1565.5 L1706.3,1564.9 L1709.3,1564.3 L1712.4,1563.7 L1715.4,1563.0 L1718.4,1562.3 L1721.5,1561.7 L1724.5,1560.9 L1727.5,1559.9 L1730.6,1558.9 L1733.6,1557.8 L1736.6,1556.5 L1739.7,1555.2 L1742.7,1553.8 L1745.7,1552.4 L1748.8,1550.9 L1751.8,1549.3 L1754.8,1547.7 L1757.9,1546.1 L1760.9,1544.5 L1763.9,1542.8 L1767.0,1540.9 L1770.0,1539.0 L1773.0,1536.9 L1776.1,1534.8 L1779.1,1532.6 L1782.1,1530.3 L1785.2,1528.0 L1788.2,1525.6 L1791.2,1523.1 L1794.3,1520.7 L1797.3,1518.2 L1800.3,1515.7 L1803.4,1513.2 L1806.4,1510.5 L1809.4,1507.9 L1812.5,1505.1 L1815.5,1502.3 L1818.5,1499.4 L1821.6,1496.5 L1824.6,1493.5 L1827.7,1490.5 L1830.7,1487.5 L1833.7,1484.4 L1836.8,1481.3 L1839.8,1478.2 L1842.8,1475.0 L1845.9,1471.7 L1848.9,1468.3 L1851.9,1464.8 L1855.0,1461.3 L1858.0,1457.8 L1861.0,1454.4 L1864.1,1451.0 L1867.1,1447.9 L1870.1,1444.9 L1873.2,1442.0 L1876.2,1439.3 L1879.2,1436.5 L1882.3,1433.9 L1885.3,1431.3 L1888.3,1428.8 L1891.4,1426.4 L1894.4,1424.1 L1897.4,1421.8 L1900.5,1419.7 L1903.5,1417.6 L1906.5,1415.6 L1909.6,1413.6 L1912.6,1411.7 L1915.6,1409.8 L1918.7,1408.0 L1921.7,1406.3 L1924.7,1404.7 L1927.8,1403.1 L1930.8,1401.6 L1933.8,1400.2 L1936.9,1398.8 L1939.9,1397.5 L1942.9,1396.2 L1946.0,1395.0 L1949.0,1393.8 L1952.0,1392.6 L1955.1,1391.5 L1958.1,1390.4 L1961.1,1389.3 L1964.2,1388.3 L1967.2,1387.3 L1970.2,1386.3 L1973.3,1385.3 L1976.3,1384.4 L1979.3,1383.5 L1982.4,1382.6 L1985.4,1381.8 L1988.4,1380.9 L1991.5,1380.1 L1994.5,1379.3 L1997.5,1378.6 L2000.6,1377.9 L2003.6,1377.2 L2006.6,1376.5 L2009.7,1375.8 L2012.7,1375.2 L2015.7,1374.5 L2018.8,1373.9 L2021.8,1373.3 L2024.8,1372.7 L2027.9,1372.2 L2030.9,1371.6 L2033.9,1371.1 L2037.0,1370.5 L2040.0,1370.0 L2043.0,1369.5 L2046.1,1369.0 L2049.1,1368.5 L2052.1,1368.0 L2055.2,1367.5 L2058.2,1367.0 L2061.2,1366.5 L2064.3,1366.1 L2067.3,1365.6 L2070.3,1365.2 L2073.4,1364.7 L2076.4,1364.3 L2079.4,1363.9 L2082.5,1363.5 L2085.5,1363.1 L2088.5,1362.7 L2091.6,1362.4 L2094.6,1362.0 L2094.6,1407.0 L2091.6,1407.0 L2088.5,1407.0 L2085.5,1407.0 L2082.5,1407.1 L2079.4,1407.1 L2076.4,1407.2 L2073.4,1407.2 L2070.3,1407.3 L2067.3,1407.3 L2064.3,1407.4 L2061.2,1407.5 L2058.2,1407.6 L2055.2,1407.7 L2052.1,1407.8 L2049.1,1408.0 L2046.1,1408.1 L2043.0,1408.2 L2040.0,1408.4 L2037.0,1408.5 L2033.9,1408.7 L2030.9,1408.9 L2027.9,1409.0 L2024.8,1409.2 L2021.8,1409.4 L2018.8,1409.6 L2015.7,1409.8 L2012.7,1410.0 L2009.7,1410.2 L2006.6,1410.5 L2003.6,1410.7 L2000.6,1411.0 L1997.5,1411.2 L1994.5,1411.7 L1991.5,1412.2 L1988.4,1412.8 L1985.4,1413.5 L1982.4,1414.3 L1979.3,1415.2 L1976.3,1416.2 L1973.3,1417.1 L1970.2,1418.2 L1967.2,1419.2 L1964.2,1420.3 L1961.1,1421.5 L1958.1,1422.8 L1955.1,1424.3 L1952.0,1425.9 L1949.0,1427.6 L1946.0,1429.4 L1942.9,1431.2 L1939.9,1433.2 L1936.9,1435.2 L1933.8,1437.3 L1930.8,1439.4 L1927.8,1441.7 L1924.7,1444.1 L1921.7,1446.6 L1918.7,1449.4 L1915.6,1452.2 L1912.6,1455.1 L1909.6,1458.2 L1906.5,1461.3 L1903.5,1464.4 L1900.5,1467.5 L1897.4,1470.7 L1894.4,1474.1 L1891.4,1477.5 L1888.3,1481.1 L1885.3,1484.7 L1882.3,1488.4 L1879.2,1492.2 L1876.2,1495.9 L1873.2,1499.6 L1870.1,1503.3 L1867.1,1506.9 L1864.1,1510.4 L1861.0,1513.9 L1858.0,1517.2 L1855.0,1520.6 L1851.9,1523.9 L1848.9,1527.3 L1845.9,1530.6 L1842.8,1533.9 L1839.8,1537.1 L1836.8,1540.3 L1833.7,1543.4 L1830.7,1546.4 L1827.7,1549.3 L1824.6,1552.1 L1821.6,1554.7 L1818.5,1557.2 L1815.5,1559.6 L1812.5,1561.9 L1809.4,1564.2 L1806.4,1566.5 L1803.4,1568.6 L1800.3,1570.7 L1797.3,1572.8 L1794.3,1574.7 L1791.2,1576.6 L1788.2,1578.4 L1785.2,1580.2 L1782.1,1581.9 L1779.1,1583.5 L1776.1,1585.0 L1773.0,1586.5 L1770.0,1588.0 L1767.0,1589.4 L1763.9,1590.7 L1760.9,1592.0 L1757.9,1593.3 L1754.8,1594.6 L1751.8,1595.8 L1748.8,1596.9 L1745.7,1598.0 L1742.7,1599.1 L1739.7,1600.1 L1736.6,1601.1 L1733.6,1602.1 L1730.6,1603.1 L1727.5,1604.0 L1724.5,1604.9 L1721.5,1605.8 L1718.4,1606.7 L1715.4,1607.5 L1712.4,1608.3 L1709.3,1609.0 L1706.3,1609.7 L1703.3,1610.4 L1700.2,1611.0 L1697.2,1611.5 L1694.2,1612.1 L1691.1,1612.6 L1688.1,1613.2 L1685.1,1613.7 L1682.0,1614.3 L1679.0,1614.8 L1676.0,1615.3 L1672.9,1615.8 L1669.9,1616.2 L1666.9,1616.7 L1663.8,1617.1 L1660.8,1617.5 L1657.8,1617.8 L1654.7,1618.1 L1651.7,1618.4 L1648.7,1618.6 L1645.6,1618.8 L1642.6,1618.9 L1639.6,1619.0 L1636.5,1619.1 L1633.5,1619.1 L1630.5,1619.2 L1627.4,1619.3 L1624.4,1619.3 L1621.4,1619.4 L1618.3,1619.4 L1615.3,1619.5 L1612.3,1619.5 L1609.2,1619.6 L1606.2,1619.6 L1603.2,1619.7 L1600.1,1619.7 L1597.1,1619.7 L1594.1,1619.8 L1591.0,1619.8 L1588.0,1619.8 L1585.0,1619.9 L1581.9,1619.9 L1578.9,1619.9 L1575.9,1619.9 L1572.8,1619.9 L1569.8,1620.0 L1566.8,1620.0 L1563.7,1620.0 L1560.7,1620.0 L1557.7,1620.0 L1554.6,1620.0 L1551.6,1620.0Z" fill="#def4d4"/>
</g><g style="mix-blend-mode:multiply">
<path d="M1551.6,1589.5 L1554.6,1589.5 L1557.7,1589.5 L1560.7,1589.5 L1563.7,1589.5 L1566.8,1589.5 L1569.8,1589.5 L1572.8,1589.5 L1575.9,1589.5 L1578.9,1589.5 L1581.9,1589.5 L1585.0,1589.5 L1588.0,1589.5 L1591.0,1589.5 L1594.1,1589.5 L1597.1,1589.5 L1600.1,1589.5 L1603.2,1589.5 L1606.2,1589.5 L1609.2,1589.5 L1612.3,1589.5 L1615.3,1589.5 L1618.3,1589.5 L1621.4,1589.5 L1624.4,1589.5 L1627.4,1589.5 L1630.5,1589.5 L1633.5,1589.5 L1636.5,1589.5 L1639.6,1589.5 L1642.6,1589.5 L1645.6,1589.5 L1648.7,1589.5 L1651.7,1589.5 L1654.7,1589.5 L1657.8,1589.5 L1660.8,1589.5 L1663.8,1589.5 L1666.9,1589.5 L1669.9,1589.5 L1672.9,1589.5 L1676.0,1589.5 L1679.0,1589.5 L1682.0,1589.5 L1685.1,1589.5 L1688.1,1589.5 L1691.1,1589.5 L1694.2,1589.5 L1697.2,1589.5 L1700.2,1589.5 L1703.3,1589.5 L1706.3,1589.5 L1709.3,1589.5 L1712.4,1589.5 L1715.4,1589.5 L1718.4,1589.5 L1721.5,1589.5 L1724.5,1589.5 L1727.5,1589.5 L1730.6,1589.5 L1733.6,1589.5 L1736.6,1589.5 L1739.7,1589.5 L1742.7,1589.5 L1745.7,1589.5 L1748.8,1589.5 L1751.8,1589.5 L1754.8,1589.5 L1757.9,1589.5 L1760.9,1589.5 L1763.9,1589.5 L1767.0,1589.5 L1770.0,1589.5 L1773.0,1589.5 L1776.1,1589.5 L1779.1,1589.5 L1782.1,1589.5 L1785.2,1589.5 L1788.2,1589.5 L1791.2,1589.5 L1794.3,1589.5 L1797.3,1589.5 L1800.3,1589.5 L1803.4,1589.5 L1806.4,1589.5 L1809.4,1589.5 L1812.5,1589.5 L1815.5,1589.5 L1818.5,1589.5 L1821.6,1589.5 L1824.6,1589.4 L1827.7,1589.4 L1830.7,1589.4 L1833.7,1589.4 L1836.8,1589.4 L1839.8,1589.4 L1842.8,1589.4 L1845.9,1589.4 L1848.9,1589.4 L1851.9,1589.4 L1855.0,1589.3 L1858.0,1589.3 L1861.0,1589.3 L1864.1,1589.3 L1867.1,1589.2 L1870.1,1589.2 L1873.2,1589.1 L1876.2,1589.1 L1879.2,1589.0 L1882.3,1589.0 L1885.3,1588.9 L1888.3,1588.8 L1891.4,1588.7 L1894.4,1588.6 L1897.4,1588.4 L1900.5,1588.3 L1903.5,1588.1 L1906.5,1587.9 L1909.6,1587.6 L1912.6,1587.4 L1915.6,1587.0 L1918.7,1586.7 L1921.7,1586.3 L1924.7,1585.8 L1927.8,1585.3 L1930.8,1584.7 L1933.8,1584.0 L1936.9,1583.2 L1939.9,1582.2 L1942.9,1581.2 L1946.0,1580.0 L1949.0,1578.7 L1952.0,1577.2 L1955.1,1575.5 L1958.1,1573.6 L1961.1,1571.5 L1964.2,1569.1 L1967.2,1566.5 L1970.2,1563.6 L1973.3,1560.4 L1976.3,1556.8 L1979.3,1553.0 L1982.4,1548.9 L1985.4,1544.4 L1988.4,1539.7 L1991.5,1534.6 L1994.5,1529.4 L1997.5,1523.9 L2000.6,1518.3 L2003.6,1512.5 L2006.6,1506.7 L2009.7,1500.9 L2012.7,1495.1 L2015.7,1489.4 L2018.8,1483.9 L2021.8,1478.6 L2024.8,1473.5 L2027.9,1468.7 L2030.9,1464.2 L2033.9,1460.0 L2037.0,1456.1 L2040.0,1452.6 L2043.0,1449.3 L2046.1,1446.3 L2049.1,1443.6 L2052.1,1441.2 L2055.2,1439.0 L2058.2,1437.1 L2061.2,1435.4 L2064.3,1433.8 L2067.3,1432.5 L2070.3,1431.3 L2073.4,1430.2 L2076.4,1429.3 L2079.4,1428.5 L2082.5,1427.7 L2085.5,1427.1 L2088.5,1426.6 L2091.6,1426.1 L2094.6,1425.7 L2094.6,1432.7 L2091.6,1433.1 L2088.5,1433.6 L2085.5,1434.1 L2082.5,1434.7 L2079.4,1435.5 L2076.4,1436.3 L2073.4,1437.2 L2070.3,1438.3 L2067.3,1439.5 L2064.3,1440.8 L2061.2,1442.4 L2058.2,1444.1 L2055.2,1446.0 L2052.1,1448.2 L2049.1,1450.6 L2046.1,1453.3 L2043.0,1456.3 L2040.0,1459.6 L2037.0,1463.1 L2033.9,1467.0 L2030.9,1471.2 L2027.9,1475.7 L2024.8,1480.5 L2021.8,1485.6 L2018.8,1490.9 L2015.7,1496.4 L2012.7,1502.1 L2009.7,1507.9 L2006.6,1513.7 L2003.6,1519.5 L2000.6,1525.3 L1997.5,1530.9 L1994.5,1536.4 L1991.5,1541.6 L1988.4,1546.7 L1985.4,1551.4 L1982.4,1555.9 L1979.3,1560.0 L1976.3,1563.8 L1973.3,1567.4 L1970.2,1570.6 L1967.2,1573.5 L1964.2,1576.1 L1961.1,1578.5 L1958.1,1580.6 L1955.1,1582.5 L1952.0,1584.2 L1949.0,1585.7 L1946.0,1587.0 L1942.9,1588.2 L1939.9,1589.2 L1936.9,1590.2 L1933.8,1591.0 L1930.8,1591.7 L1927.8,1592.3 L1924.7,1592.8 L1921.7,1593.3 L1918.7,1593.7 L1915.6,1594.0 L1912.6,1594.4 L1909.6,1594.6 L1906.5,1594.9 L1903.5,1595.1 L1900.5,1595.3 L1897.4,1595.4 L1894.4,1595.6 L1891.4,1595.7 L1888.3,1595.8 L1885.3,1595.9 L1882.3,1596.0 L1879.2,1596.0 L1876.2,1596.1 L1873.2,1596.1 L1870.1,1596.2 L1867.1,1596.2 L1864.1,1596.3 L1861.0,1596.3 L1858.0,1596.3 L1855.0,1596.3 L1851.9,1596.4 L1848.9,1596.4 L1845.9,1596.4 L1842.8,1596.4 L1839.8,1596.4 L1836.8,1596.4 L1833.7,1596.4 L1830.7,1596.4 L1827.7,1596.4 L1824.6,1596.4 L1821.6,1596.5 L1818.5,1596.5 L1815.5,1596.5 L1812.5,1596.5 L1809.4,1596.5 L1806.4,1596.5 L1803.4,1596.5 L1800.3,1596.5 L1797.3,1596.5 L1794.3,1596.5 L1791.2,1596.5 L1788.2,1596.5 L1785.2,1596.5 L1782.1,1596.5 L1779.1,1596.5 L1776.1,1596.5 L1773.0,1596.5 L1770.0,1596.5 L1767.0,1596.5 L1763.9,1596.5 L1760.9,1596.5 L1757.9,1596.5 L1754.8,1596.5 L1751.8,1596.5 L1748.8,1596.5 L1745.7,1596.5 L1742.7,1596.5 L1739.7,1596.5 L1736.6,1596.5 L1733.6,1596.5 L1730.6,1596.5 L1727.5,1596.5 L1724.5,1596.5 L1721.5,1596.5 L1718.4,1596.5 L1715.4,1596.5 L1712.4,1596.5 L1709.3,1596.5 L1706.3,1596.5 L1703.3,1596.5 L1700.2,1596.5 L1697.2,1596.5 L1694.2,1596.5 L1691.1,1596.5 L1688.1,1596.5 L1685.1,1596.5 L1682.0,1596.5 L1679.0,1596.5 L1676.0,1596.5 L1672.9,1596.5 L1669.9,1596.5 L1666.9,1596.5 L1663.8,1596.5 L1660.8,1596.5 L1657.8,1596.5 L1654.7,1596.5 L1651.7,1596.5 L1648.7,1596.5 L1645.6,1596.5 L1642.6,1596.5 L1639.6,1596.5 L1636.5,1596.5 L1633.5,1596.5 L1630.5,1596.5 L1627.4,1596.5 L1624.4,1596.5 L1621.4,1596.5 L1618.3,1596.5 L1615.3,1596.5 L1612.3,1596.5 L1609.2,1596.5 L1606.2,1596.5 L1603.2,1596.5 L1600.1,1596.5 L1597.1,1596.5 L1594.1,1596.5 L1591.0,1596.5 L1588.0,1596.5 L1585.0,1596.5 L1581.9,1596.5 L1578.9,1596.5 L1575.9,1596.5 L1572.8,1596.5 L1569.8,1596.5 L1566.8,1596.5 L1563.7,1596.5 L1560.7,1596.5 L1557.7,1596.5 L1554.6,1596.5 L1551.6,1596.5Z" fill="#fbdcdc"/>
</g>
<line x1="1551.60" y1="1274.20" x2="1551.60" y2="1646.00" stroke="#000" stroke-width="3.5"/>
<line x1="1541.60" y1="1598.00" x2="2096.20" y2="1598.00" stroke="#000" stroke-width="3.2"/>
<line x1="1541.60" y1="1275.80" x2="1551.60" y2="1275.80" stroke="#000" stroke-width="3.2"/>
<line x1="1541.60" y1="1357.00" x2="1551.60" y2="1357.00" stroke="#000" stroke-width="3.2"/>
<line x1="1541.60" y1="1437.30" x2="1551.60" y2="1437.30" stroke="#000" stroke-width="3.2"/>
<line x1="1541.60" y1="1517.60" x2="1551.60" y2="1517.60" stroke="#000" stroke-width="3.2"/>
<line x1="1687.35" y1="1598.00" x2="1687.35" y2="1609.75" stroke="#000" stroke-width="3.2"/>
<line x1="1823.10" y1="1598.00" x2="1823.10" y2="1609.75" stroke="#000" stroke-width="3.2"/>
<line x1="1958.85" y1="1598.00" x2="1958.85" y2="1609.75" stroke="#000" stroke-width="3.2"/>
<line x1="2094.60" y1="1598.00" x2="2094.60" y2="1609.75" stroke="#000" stroke-width="3.2"/>
<text x="1539.20" y="1285.40" font-size="21.5" text-anchor="end">80</text>
<text x="1539.20" y="1366.60" font-size="21.5" text-anchor="end">60</text>
<text x="1539.20" y="1446.90" font-size="21.5" text-anchor="end">40</text>
<text x="1539.20" y="1527.20" font-size="21.5" text-anchor="end">20</text>
<text x="1539.20" y="1607.60" font-size="21.5" text-anchor="end">0</text>
<text x="1673.75" y="1630.40" font-size="21.5">10<tspan dy="-6.6" font-size="12">1</tspan></text>
<text x="1809.50" y="1630.40" font-size="21.5">10<tspan dy="-6.6" font-size="12">2</tspan></text>
<text x="1945.25" y="1630.40" font-size="21.5">10<tspan dy="-6.6" font-size="12">3</tspan></text>
<text x="2081.00" y="1630.40" font-size="21.5">10<tspan dy="-6.6" font-size="12">4</tspan></text>
<text x="1784.00" y="1667.00" font-size="22">[RSL3] nM</text>
<text transform="translate(1458,1433.5) rotate(-90) scale(0.848,1)" font-size="24.4" word-spacing="3" text-anchor="middle">Fraction of SG+ objects per</text>
<text transform="translate(1485.8,1433.5) rotate(-90) scale(0.88,1)" font-size="24.6" text-anchor="middle">mm<tspan dy="-8" font-size="13.5">2</tspan><tspan dy="8">  (AUC)</tspan></text>
<text x="1576.20" y="1260.00" font-size="21">FSP1<tspan dy="-8" font-size="13.5">KO</tspan></text>
<circle cx="1576.60" cy="1283.00" r="7" fill="#14a048"/>
<text x="1597.60" y="1289.00" font-size="22">empty vector</text>
<circle cx="1576.60" cy="1309.00" r="7" fill="#e1261c"/>
<text x="1597.60" y="1314.60" font-size="22">FSP1(WT)-GFP</text>
<circle cx="1576.60" cy="1335.00" r="7" fill="#2e3f9e"/>
<text x="1597.60" y="1340.60" font-size="22">LYN11-NQO1-GFP</text>
<path d="M1551.6,1593.0 L1554.6,1593.0 L1557.7,1593.0 L1560.7,1593.0 L1563.7,1593.0 L1566.8,1593.0 L1569.8,1593.0 L1572.8,1593.0 L1575.9,1593.0 L1578.9,1593.0 L1581.9,1593.0 L1585.0,1593.0 L1588.0,1593.0 L1591.0,1593.0 L1594.1,1593.0 L1597.1,1593.0 L1600.1,1593.0 L1603.2,1593.0 L1606.2,1593.0 L1609.2,1593.0 L1612.3,1593.0 L1615.3,1593.0 L1618.3,1593.0 L1621.4,1593.0 L1624.4,1593.0 L1627.4,1593.0 L1630.5,1593.0 L1633.5,1593.0 L1636.5,1593.0 L1639.6,1593.0 L1642.6,1593.0 L1645.6,1593.0 L1648.7,1593.0 L1651.7,1593.0 L1654.7,1593.0 L1657.8,1593.0 L1660.8,1593.0 L1663.8,1593.0 L1666.9,1593.0 L1669.9,1593.0 L1672.9,1593.0 L1676.0,1593.0 L1679.0,1593.0 L1682.0,1593.0 L1685.1,1593.0 L1688.1,1593.0 L1691.1,1593.0 L1694.2,1593.0 L1697.2,1593.0 L1700.2,1593.0 L1703.3,1593.0 L1706.3,1593.0 L1709.3,1593.0 L1712.4,1593.0 L1715.4,1593.0 L1718.4,1593.0 L1721.5,1593.0 L1724.5,1593.0 L1727.5,1593.0 L1730.6,1593.0 L1733.6,1593.0 L1736.6,1593.0 L1739.7,1593.0 L1742.7,1593.0 L1745.7,1593.0 L1748.8,1593.0 L1751.8,1593.0 L1754.8,1593.0 L1757.9,1593.0 L1760.9,1593.0 L1763.9,1593.0 L1767.0,1593.0 L1770.0,1593.0 L1773.0,1593.0 L1776.1,1593.0 L1779.1,1593.0 L1782.1,1593.0 L1785.2,1593.0 L1788.2,1593.0 L1791.2,1593.0 L1794.3,1593.0 L1797.3,1593.0 L1800.3,1593.0 L1803.4,1593.0 L1806.4,1593.0 L1809.4,1593.0 L1812.5,1593.0 L1815.5,1593.0 L1818.5,1593.0 L1821.6,1593.0 L1824.6,1592.9 L1827.7,1592.9 L1830.7,1592.9 L1833.7,1592.9 L1836.8,1592.9 L1839.8,1592.9 L1842.8,1592.9 L1845.9,1592.9 L1848.9,1592.9 L1851.9,1592.9 L1855.0,1592.8 L1858.0,1592.8 L1861.0,1592.8 L1864.1,1592.8 L1867.1,1592.7 L1870.1,1592.7 L1873.2,1592.6 L1876.2,1592.6 L1879.2,1592.5 L1882.3,1592.5 L1885.3,1592.4 L1888.3,1592.3 L1891.4,1592.2 L1894.4,1592.1 L1897.4,1591.9 L1900.5,1591.8 L1903.5,1591.6 L1906.5,1591.4 L1909.6,1591.1 L1912.6,1590.9 L1915.6,1590.5 L1918.7,1590.2 L1921.7,1589.8 L1924.7,1589.3 L1927.8,1588.8 L1930.8,1588.2 L1933.8,1587.5 L1936.9,1586.7 L1939.9,1585.7 L1942.9,1584.7 L1946.0,1583.5 L1949.0,1582.2 L1952.0,1580.7 L1955.1,1579.0 L1958.1,1577.1 L1961.1,1575.0 L1964.2,1572.6 L1967.2,1570.0 L1970.2,1567.1 L1973.3,1563.9 L1976.3,1560.3 L1979.3,1556.5 L1982.4,1552.4 L1985.4,1547.9 L1988.4,1543.2 L1991.5,1538.1 L1994.5,1532.9 L1997.5,1527.4 L2000.6,1521.8 L2003.6,1516.0 L2006.6,1510.2 L2009.7,1504.4 L2012.7,1498.6 L2015.7,1492.9 L2018.8,1487.4 L2021.8,1482.1 L2024.8,1477.0 L2027.9,1472.2 L2030.9,1467.7 L2033.9,1463.5 L2037.0,1459.6 L2040.0,1456.1 L2043.0,1452.8 L2046.1,1449.8 L2049.1,1447.1 L2052.1,1444.7 L2055.2,1442.5 L2058.2,1440.6 L2061.2,1438.9 L2064.3,1437.3 L2067.3,1436.0 L2070.3,1434.8 L2073.4,1433.7 L2076.4,1432.8 L2079.4,1432.0 L2082.5,1431.2 L2085.5,1430.6 L2088.5,1430.1 L2091.6,1429.6 L2094.6,1429.2" fill="none" stroke="#e1261c" stroke-width="3.4" stroke-linejoin="round" stroke-linecap="butt"/>
<path d="M1551.6,1592.0 L1554.6,1592.0 L1557.7,1592.0 L1560.7,1591.9 L1563.7,1591.9 L1566.8,1591.9 L1569.8,1591.9 L1572.8,1591.8 L1575.9,1591.8 L1578.9,1591.8 L1581.9,1591.7 L1585.0,1591.7 L1588.0,1591.7 L1591.0,1591.6 L1594.1,1591.6 L1597.1,1591.5 L1600.1,1591.5 L1603.2,1591.4 L1606.2,1591.4 L1609.2,1591.3 L1612.3,1591.2 L1615.3,1591.1 L1618.3,1591.1 L1621.4,1591.0 L1624.4,1590.9 L1627.4,1590.8 L1630.5,1590.7 L1633.5,1590.6 L1636.5,1590.5 L1639.6,1590.4 L1642.6,1590.3 L1645.6,1590.1 L1648.7,1590.0 L1651.7,1589.8 L1654.7,1589.7 L1657.8,1589.5 L1660.8,1589.3 L1663.8,1589.1 L1666.9,1588.9 L1669.9,1588.7 L1672.9,1588.5 L1676.0,1588.2 L1679.0,1587.9 L1682.0,1587.7 L1685.1,1587.4 L1688.1,1587.1 L1691.1,1586.7 L1694.2,1586.4 L1697.2,1586.0 L1700.2,1585.6 L1703.3,1585.2 L1706.3,1584.7 L1709.3,1584.2 L1712.4,1583.7 L1715.4,1583.2 L1718.4,1582.6 L1721.5,1582.0 L1724.5,1581.4 L1727.5,1580.7 L1730.6,1580.0 L1733.6,1579.2 L1736.6,1578.4 L1739.7,1577.6 L1742.7,1576.7 L1745.7,1575.7 L1748.8,1574.7 L1751.8,1573.7 L1754.8,1572.6 L1757.9,1571.4 L1760.9,1570.2 L1763.9,1568.9 L1767.0,1567.5 L1770.0,1566.1 L1773.0,1564.6 L1776.1,1563.0 L1779.1,1561.4 L1782.1,1559.7 L1785.2,1557.9 L1788.2,1556.0 L1791.2,1554.1 L1794.3,1552.1 L1797.3,1550.0 L1800.3,1547.8 L1803.4,1545.5 L1806.4,1543.1 L1809.4,1540.7 L1812.5,1538.2 L1815.5,1535.6 L1818.5,1532.9 L1821.6,1530.2 L1824.6,1527.4 L1827.7,1524.5 L1830.7,1521.5 L1833.7,1518.5 L1836.8,1515.4 L1839.8,1512.3 L1842.8,1509.1 L1845.9,1505.9 L1848.9,1502.6 L1851.9,1499.3 L1855.0,1496.0 L1858.0,1492.6 L1861.0,1489.3 L1864.1,1485.9 L1867.1,1482.5 L1870.1,1479.2 L1873.2,1475.9 L1876.2,1472.5 L1879.2,1469.2 L1882.3,1466.0 L1885.3,1462.8 L1888.3,1459.6 L1891.4,1456.5 L1894.4,1453.4 L1897.4,1450.4 L1900.5,1447.4 L1903.5,1444.5 L1906.5,1441.7 L1909.6,1439.0 L1912.6,1436.3 L1915.6,1433.8 L1918.7,1431.3 L1921.7,1428.8 L1924.7,1426.5 L1927.8,1424.2 L1930.8,1422.1 L1933.8,1420.0 L1936.9,1418.0 L1939.9,1416.0 L1942.9,1414.2 L1946.0,1412.4 L1949.0,1410.7 L1952.0,1409.1 L1955.1,1407.5 L1958.1,1406.0 L1961.1,1404.6 L1964.2,1403.3 L1967.2,1402.0 L1970.2,1400.8 L1973.3,1399.6 L1976.3,1398.5 L1979.3,1397.5 L1982.4,1396.5 L1985.4,1395.6 L1988.4,1394.7 L1991.5,1393.8 L1994.5,1393.1 L1997.5,1392.3 L2000.6,1391.6 L2003.6,1390.9 L2006.6,1390.3 L2009.7,1389.7 L2012.7,1389.1 L2015.7,1388.6 L2018.8,1388.1 L2021.8,1387.6 L2024.8,1387.2 L2027.9,1386.7 L2030.9,1386.3 L2033.9,1386.0 L2037.0,1385.6 L2040.0,1385.3 L2043.0,1385.0 L2046.1,1384.7 L2049.1,1384.4 L2052.1,1384.1 L2055.2,1383.9 L2058.2,1383.7 L2061.2,1383.4 L2064.3,1383.2 L2067.3,1383.0 L2070.3,1382.9 L2073.4,1382.7 L2076.4,1382.5 L2079.4,1382.4 L2082.5,1382.2 L2085.5,1382.1 L2088.5,1382.0 L2091.6,1381.9 L2094.6,1381.8" fill="none" stroke="#0f8a3e" stroke-width="3.4" stroke-linejoin="round" stroke-linecap="butt"/>
<circle cx="1770.75" cy="1550.00" r="5.4" fill="#0f8a3e"/>
<circle cx="1835.52" cy="1520.40" r="5.4" fill="#0f8a3e"/>
<circle cx="1900.29" cy="1442.00" r="5.4" fill="#0f8a3e"/>
<circle cx="1965.06" cy="1396.00" r="5.4" fill="#0f8a3e"/>
<circle cx="2029.83" cy="1382.00" r="5.4" fill="#0f8a3e"/>
<circle cx="2094.60" cy="1394.00" r="5.4" fill="#0f8a3e"/>
<circle cx="1551.60" cy="1595.00" r="5.4" fill="#e1261c"/>
<circle cx="1705.98" cy="1595.00" r="5.4" fill="#e1261c"/>
<circle cx="1770.75" cy="1592.40" r="5.4" fill="#e1261c"/>
<circle cx="1835.52" cy="1589.40" r="5.4" fill="#e1261c"/>
<circle cx="1900.29" cy="1585.40" r="5.4" fill="#e1261c"/>
<circle cx="1965.06" cy="1574.00" r="5.4" fill="#e1261c"/>
<circle cx="2029.83" cy="1470.60" r="5.4" fill="#e1261c"/>
<circle cx="2094.60" cy="1426.60" r="5.4" fill="#e1261c"/>
<path d="M1551.6,1594.3 L1554.6,1594.3 L1557.7,1594.3 L1560.7,1594.3 L1563.7,1594.3 L1566.8,1594.3 L1569.8,1594.3 L1572.8,1594.2 L1575.9,1594.2 L1578.9,1594.2 L1581.9,1594.2 L1585.0,1594.2 L1588.0,1594.2 L1591.0,1594.2 L1594.1,1594.2 L1597.1,1594.2 L1600.1,1594.1 L1603.2,1594.1 L1606.2,1594.1 L1609.2,1594.1 L1612.3,1594.1 L1615.3,1594.0 L1618.3,1594.0 L1621.4,1594.0 L1624.4,1594.0 L1627.4,1593.9 L1630.5,1593.9 L1633.5,1593.9 L1636.5,1593.8 L1639.6,1593.8 L1642.6,1593.7 L1645.6,1593.7 L1648.7,1593.6 L1651.7,1593.6 L1654.7,1593.5 L1657.8,1593.4 L1660.8,1593.4 L1663.8,1593.3 L1666.9,1593.2 L1669.9,1593.1 L1672.9,1593.0 L1676.0,1592.9 L1679.0,1592.8 L1682.0,1592.7 L1685.1,1592.5 L1688.1,1592.4 L1691.1,1592.2 L1694.2,1592.0 L1697.2,1591.8 L1700.2,1591.6 L1703.3,1591.4 L1706.3,1591.2 L1709.3,1590.9 L1712.4,1590.6 L1715.4,1590.3 L1718.4,1590.0 L1721.5,1589.7 L1724.5,1589.3 L1727.5,1588.9 L1730.6,1588.5 L1733.6,1588.0 L1736.6,1587.5 L1739.7,1586.9 L1742.7,1586.3 L1745.7,1585.7 L1748.8,1585.0 L1751.8,1584.3 L1754.8,1583.5 L1757.9,1582.7 L1760.9,1581.8 L1763.9,1580.8 L1767.0,1579.8 L1770.0,1578.7 L1773.0,1577.5 L1776.1,1576.3 L1779.1,1574.9 L1782.1,1573.5 L1785.2,1572.0 L1788.2,1570.4 L1791.2,1568.7 L1794.3,1566.9 L1797.3,1564.9 L1800.3,1562.9 L1803.4,1560.8 L1806.4,1558.5 L1809.4,1556.2 L1812.5,1553.7 L1815.5,1551.1 L1818.5,1548.4 L1821.6,1545.6 L1824.6,1542.7 L1827.7,1539.6 L1830.7,1536.5 L1833.7,1533.2 L1836.8,1529.9 L1839.8,1526.5 L1842.8,1523.0 L1845.9,1519.4 L1848.9,1515.8 L1851.9,1512.1 L1855.0,1508.4 L1858.0,1504.6 L1861.0,1500.9 L1864.1,1497.1 L1867.1,1493.3 L1870.1,1489.6 L1873.2,1485.9 L1876.2,1482.2 L1879.2,1478.6 L1882.3,1475.0 L1885.3,1471.5 L1888.3,1468.1 L1891.4,1464.8 L1894.4,1461.6 L1897.4,1458.4 L1900.5,1455.4 L1903.5,1452.5 L1906.5,1449.7 L1909.6,1447.0 L1912.6,1444.4 L1915.6,1441.9 L1918.7,1439.6 L1921.7,1437.4 L1924.7,1435.2 L1927.8,1433.2 L1930.8,1431.3 L1933.8,1429.5 L1936.9,1427.8 L1939.9,1426.2 L1942.9,1424.7 L1946.0,1423.3 L1949.0,1422.0 L1952.0,1420.7 L1955.1,1419.5 L1958.1,1418.4 L1961.1,1417.4 L1964.2,1416.5 L1967.2,1415.6 L1970.2,1414.7 L1973.3,1414.0 L1976.3,1413.2 L1979.3,1412.6 L1982.4,1411.9 L1985.4,1411.4 L1988.4,1410.8 L1991.5,1410.3 L1994.5,1409.9 L1997.5,1409.4 L2000.6,1409.0 L2003.6,1408.6 L2006.6,1408.3 L2009.7,1408.0 L2012.7,1407.7 L2015.7,1407.4 L2018.8,1407.2 L2021.8,1406.9 L2024.8,1406.7 L2027.9,1406.5 L2030.9,1406.3 L2033.9,1406.1 L2037.0,1406.0 L2040.0,1405.8 L2043.0,1405.7 L2046.1,1405.6 L2049.1,1405.4 L2052.1,1405.3 L2055.2,1405.2 L2058.2,1405.1 L2061.2,1405.1 L2064.3,1405.0 L2067.3,1404.9 L2070.3,1404.8 L2073.4,1404.8 L2076.4,1404.7 L2079.4,1404.7 L2082.5,1404.6 L2085.5,1404.6 L2088.5,1404.5 L2091.6,1404.5 L2094.6,1404.4" fill="none" stroke="#5550b4" stroke-width="3.4" stroke-linejoin="round" stroke-linecap="butt"/>
<circle cx="1551.60" cy="1594.60" r="5.4" fill="#5550b4"/>
<circle cx="1705.98" cy="1593.00" r="5.4" fill="#5550b4"/>
<circle cx="1770.75" cy="1577.20" r="5.4" fill="#5550b4"/>
<circle cx="1835.52" cy="1531.60" r="5.4" fill="#5550b4"/>
<circle cx="1900.29" cy="1455.00" r="5.4" fill="#5550b4"/>
<circle cx="1965.06" cy="1414.00" r="5.4" fill="#5550b4"/>
<circle cx="2029.83" cy="1407.40" r="5.4" fill="#5550b4"/>
<circle cx="2094.60" cy="1406.40" r="5.4" fill="#5550b4"/>
</svg>
</body></html>
